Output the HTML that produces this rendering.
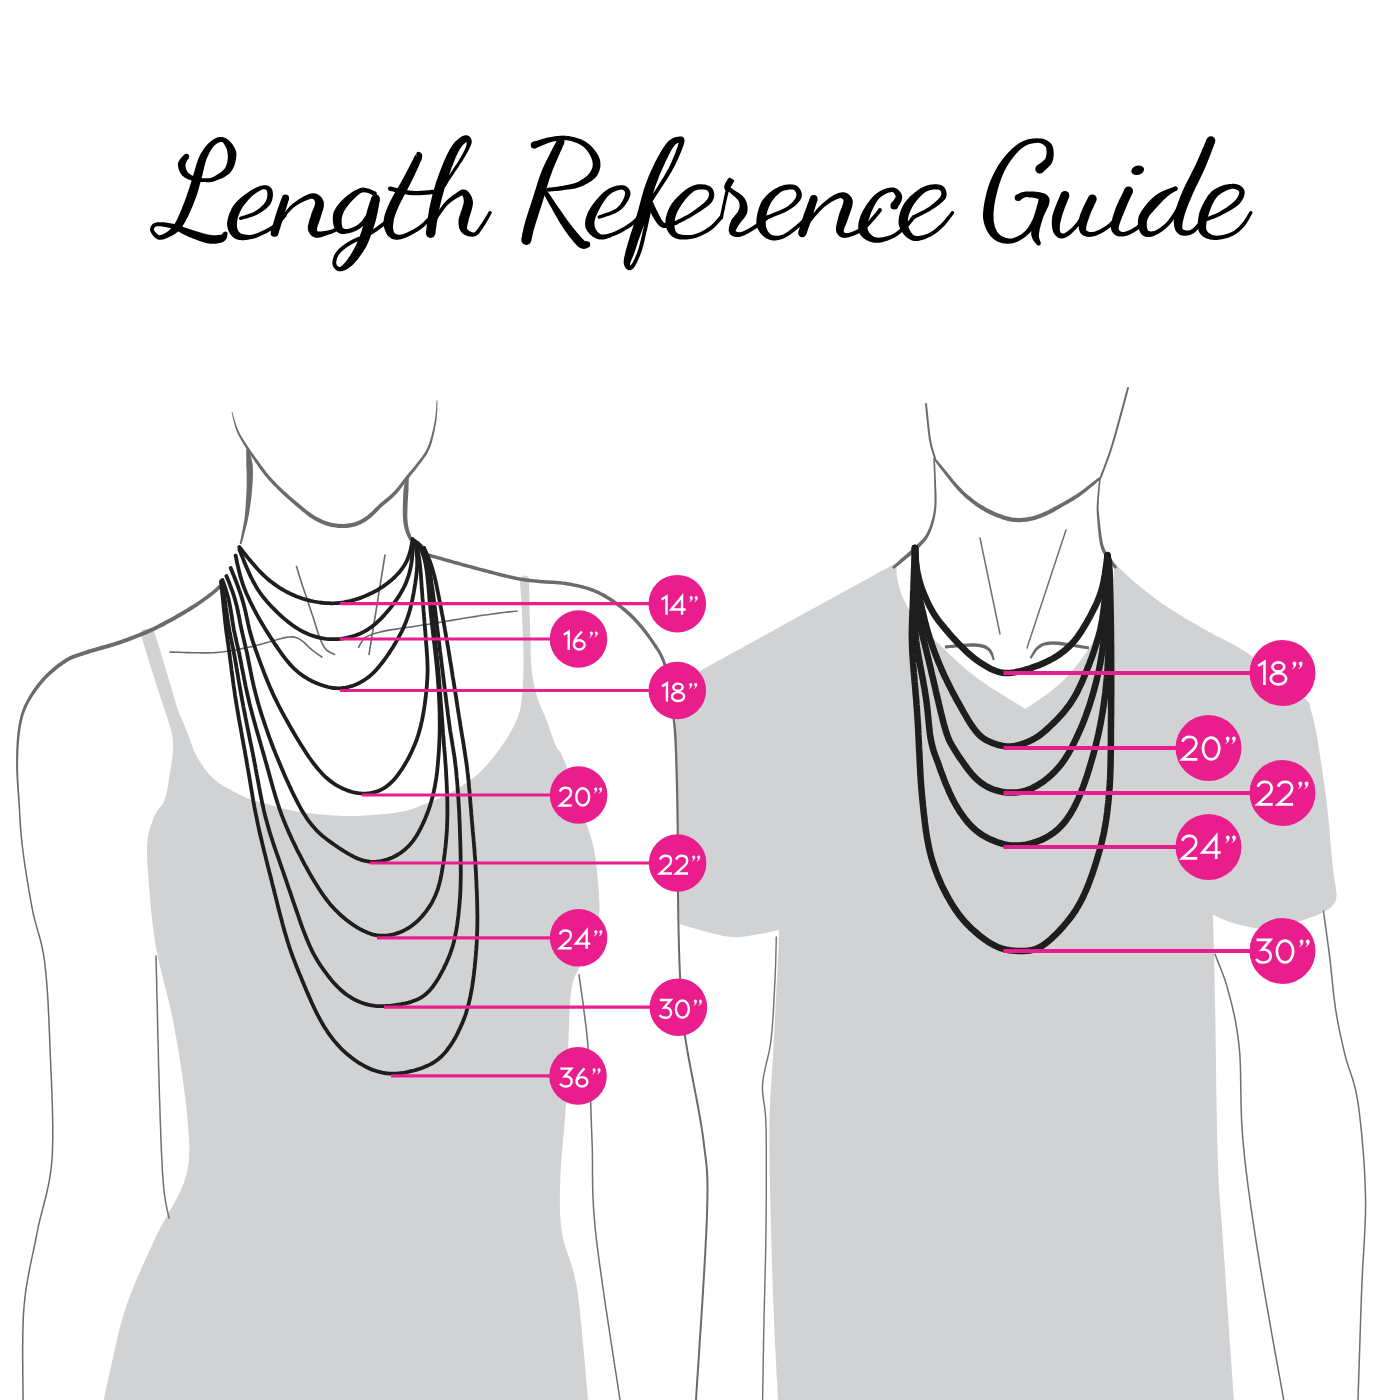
<!DOCTYPE html>
<html><head><meta charset="utf-8"><style>
html,body{margin:0;padding:0;background:#fff;}
svg{display:block;}
text{font-family:"Liberation Sans",sans-serif;}
</style></head><body>
<svg width="1400" height="1400" viewBox="0 0 1400 1400">
<rect width="1400" height="1400" fill="#fff"/>
<path d=" M104.0,1400.0 L104.3,1398.2 L104.6,1396.1 L105.3,1392.5 L106.6,1386.1 L108.0,1380.2 L108.6,1377.5 L109.3,1374.4 L110.0,1371.1 L110.8,1367.6 L111.6,1363.9 L112.4,1360.0 L113.3,1355.9 L114.2,1351.8 L115.2,1347.5 L116.2,1343.1 L117.2,1338.8 L118.3,1334.3 L119.4,1329.9 L120.5,1325.6 L121.7,1321.2 L122.9,1317.0 L124.1,1312.9 L125.4,1308.9 L126.6,1305.1 L128.0,1301.3 L129.4,1297.5 L130.8,1293.6 L132.3,1289.8 L133.8,1286.0 L135.4,1282.2 L137.0,1278.4 L138.6,1274.6 L140.3,1270.9 L142.0,1267.1 L143.6,1263.4 L145.3,1259.7 L147.0,1256.1 L148.7,1252.4 L150.3,1248.9 L152.0,1245.3 L153.6,1241.8 L155.2,1238.3 L156.9,1234.6 L158.8,1230.8 L160.8,1226.9 L162.8,1223.2 L164.9,1219.5 L167.0,1215.8 L169.0,1212.1 L171.1,1208.5 L173.1,1205.0 L175.1,1201.4 L177.0,1197.9 L178.8,1194.4 L180.4,1190.9 L182.0,1187.4 L183.4,1184.0 L184.6,1180.5 L185.7,1177.0 L186.8,1172.9 L187.6,1168.9 L188.3,1165.1 L188.8,1161.4 L189.1,1157.8 L189.3,1154.1 L189.3,1150.4 L189.3,1146.6 L189.1,1142.6 L188.9,1138.4 L188.6,1134.0 L188.2,1129.3 L187.8,1124.2 L187.5,1119.9 L187.2,1116.5 L186.9,1113.0 L186.5,1109.3 L186.1,1105.5 L185.6,1101.6 L185.2,1097.6 L184.7,1093.6 L184.1,1089.4 L183.6,1085.2 L183.0,1081.0 L182.4,1076.7 L181.8,1072.4 L181.1,1068.0 L180.5,1063.7 L179.8,1059.4 L179.1,1055.1 L178.4,1050.8 L177.7,1046.6 L177.0,1042.5 L176.3,1038.4 L175.6,1034.4 L174.9,1030.5 L174.2,1026.5 L173.4,1022.2 L172.5,1018.0 L171.6,1013.8 L170.7,1009.7 L169.7,1005.5 L168.7,1001.4 L167.7,997.3 L166.7,993.2 L165.7,989.2 L164.7,985.2 L163.7,981.2 L162.7,977.3 L161.7,973.3 L160.8,969.5 L159.9,965.6 L159.0,961.8 L158.2,958.1 L157.4,954.3 L156.7,950.6 L156.0,947.0 L155.2,942.5 L154.5,938.0 L153.9,933.6 L153.3,929.1 L152.7,924.8 L152.2,920.4 L151.7,916.2 L151.3,911.9 L150.9,907.8 L150.5,903.8 L150.2,899.8 L149.9,895.9 L149.6,892.2 L149.3,888.5 L149.0,885.0 L148.7,881.6 L148.4,877.4 L148.0,872.4 L147.7,867.8 L147.4,863.4 L147.2,859.3 L147.1,855.5 L147.0,851.8 L147.0,848.3 L147.1,844.9 L147.4,841.6 L147.8,837.6 L148.6,833.0 L149.7,828.8 L150.9,825.0 L152.3,821.5 L153.6,818.1 L155.0,815.0 L157.4,810.8 L159.9,807.5 L162.5,804.3 L164.6,800.0 L165.6,796.6 L166.6,792.9 L167.4,788.9 L168.1,784.7 L168.7,780.5 L169.4,776.3 L170.1,772.1 L170.8,767.7 L171.5,763.2 L172.1,758.7 L172.6,754.4 L173.0,750.4 L173.2,746.1 L173.1,741.9 L172.7,738.1 L172.0,733.9 L171.0,729.7 L169.9,725.9 L168.6,721.8 L167.2,717.5 L165.7,713.2 L164.3,709.0 L163.0,705.0 L161.7,701.0 L160.4,697.1 L159.2,693.4 L158.0,689.6 L156.7,685.9 L155.5,682.0 L154.2,678.1 L153.0,674.1 L151.7,670.1 L150.5,666.1 L149.2,662.0 L148.0,658.0 L146.7,653.7 L145.3,649.0 L143.8,644.4 L142.5,640.0 L141.4,636.4 L140.6,633.7 L140.6,633.7 L140.6,633.7 L142.1,630.0 L147.4,628.5 L152.0,629.5 L154.3,632.0 L154.3,632.0 L154.3,632.0 L155.2,634.8 L156.4,638.7 L157.9,643.2 L159.3,647.8 L160.6,651.9 L161.8,655.9 L163.0,659.9 L164.2,663.9 L165.4,668.0 L166.6,672.0 L167.8,676.0 L169.0,680.0 L170.2,684.0 L171.4,688.0 L172.6,692.0 L173.7,696.0 L174.8,699.9 L176.0,703.9 L177.3,707.9 L178.7,711.9 L180.2,715.6 L181.8,719.4 L183.4,723.2 L185.2,727.2 L186.9,731.4 L188.3,735.2 L189.7,739.1 L191.1,743.2 L192.6,747.3 L194.2,751.3 L196.1,755.2 L198.1,758.8 L200.2,762.2 L202.4,765.6 L204.7,768.9 L207.2,772.1 L209.9,775.1 L212.8,778.0 L215.8,780.6 L219.0,783.1 L222.4,785.4 L226.1,787.6 L229.7,789.6 L233.3,791.5 L236.8,793.3 L240.0,794.9 L244.0,796.8 L247.5,798.2 L250.8,799.4 L254.8,800.5 L259.9,802.0 L263.1,802.9 L266.6,803.9 L270.2,805.0 L274.1,806.1 L278.1,807.2 L282.3,808.3 L286.6,809.3 L291.0,810.3 L295.5,811.2 L300.0,812.0 L303.7,812.5 L307.4,813.1 L311.3,813.6 L315.3,814.0 L319.3,814.4 L323.4,814.8 L327.5,815.1 L331.6,815.4 L335.7,815.6 L339.8,815.8 L343.9,815.9 L348.0,816.0 L352.0,816.0 L356.2,815.9 L360.4,815.8 L364.7,815.6 L369.0,815.3 L373.4,815.0 L377.6,814.7 L381.8,814.3 L385.8,813.9 L389.7,813.4 L393.4,813.0 L396.8,812.5 L400.0,812.0 L405.2,811.0 L409.5,809.9 L413.2,808.7 L416.6,807.5 L419.8,806.1 L423.2,804.7 L426.9,803.3 L430.6,801.8 L434.2,800.4 L437.9,798.8 L441.6,797.1 L445.4,795.2 L449.4,793.0 L452.6,791.2 L456.0,789.2 L459.5,787.2 L463.1,785.0 L466.6,782.7 L470.1,780.3 L473.6,777.7 L476.9,775.0 L480.0,772.2 L482.9,769.3 L485.9,766.1 L488.7,762.9 L491.6,759.5 L494.3,756.1 L496.9,752.7 L499.4,749.3 L501.7,746.1 L504.1,742.6 L506.5,739.0 L508.8,735.3 L510.8,731.7 L512.7,728.2 L514.5,724.7 L516.0,721.3 L517.4,718.0 L518.9,713.9 L519.9,710.3 L520.7,706.7 L521.2,702.9 L521.7,698.5 L522.2,694.4 L522.5,690.9 L522.7,687.3 L522.9,683.4 L523.1,679.4 L523.3,675.3 L523.4,671.0 L523.5,666.7 L523.5,662.2 L523.5,658.1 L523.5,654.2 L523.4,650.2 L523.3,646.0 L523.1,641.7 L523.0,637.4 L522.8,633.1 L522.6,628.8 L522.4,624.7 L522.3,620.7 L522.1,616.8 L521.9,612.7 L521.7,607.9 L521.4,603.2 L521.1,598.5 L520.8,594.1 L520.6,590.0 L520.3,586.4 L520.1,583.4 L520.0,581.0 L520.0,581.0 L520.0,581.0 L521.0,577.0 L524.0,575.5 L527.0,576.0 L529.0,578.0 L529.0,578.0 L529.0,578.0 L529.0,580.5 L529.1,583.8 L529.1,587.7 L529.2,592.1 L529.3,596.7 L529.4,601.4 L529.5,605.9 L529.5,610.0 L529.7,613.9 L529.8,618.0 L529.9,622.0 L530.0,626.1 L530.2,630.2 L530.3,634.2 L530.4,638.1 L530.6,642.1 L530.6,646.4 L530.7,650.5 L530.7,654.6 L530.8,658.6 L531.0,662.6 L531.3,666.6 L531.8,670.8 L532.3,675.1 L533.0,679.4 L533.8,683.6 L534.7,687.9 L535.7,692.0 L536.8,696.0 L538.2,700.2 L539.7,704.2 L541.4,708.1 L543.1,712.0 L544.9,715.9 L546.5,720.0 L548.0,724.0 L549.4,728.2 L550.8,732.4 L552.2,736.6 L553.6,740.5 L555.0,744.1 L556.7,747.7 L558.3,749.7 L559.9,751.6 L562.3,756.0 L564.5,761.2 L565.6,764.0 L566.7,767.2 L568.1,770.8 L569.4,774.6 L570.9,778.7 L572.4,783.0 L574.0,787.3 L575.5,791.8 L577.1,796.2 L578.6,800.7 L580.1,805.0 L581.5,809.2 L582.9,813.2 L584.1,816.9 L585.3,820.3 L586.3,823.5 L588.1,828.7 L589.5,833.1 L590.7,836.8 L591.7,840.1 L592.6,843.3 L593.4,846.5 L594.1,850.1 L594.9,854.3 L595.5,858.0 L596.0,862.1 L596.5,866.4 L597.0,870.8 L597.4,875.4 L597.8,879.9 L598.2,884.2 L598.5,888.3 L598.8,892.1 L599.0,895.5 L599.3,900.4 L599.5,905.3 L599.5,908.9 L599.2,912.3 L599.0,916.3 L599.0,919.9 L598.7,923.6 L597.6,928.4 L596.0,932.9 L594.6,936.3 L592.8,940.1 L590.9,944.2 L588.8,948.5 L586.6,952.8 L584.5,957.0 L582.6,960.9 L580.8,964.4 L579.4,967.5 L576.7,972.7 L575.0,975.9 L573.7,979.4 L572.7,983.4 L572.1,985.9 L571.6,988.3 L571.2,991.1 L570.8,994.7 L570.4,999.5 L569.9,1006.0 L569.6,1011.4 L569.5,1014.3 L569.3,1017.4 L569.2,1020.8 L569.0,1024.4 L568.9,1028.2 L568.7,1032.1 L568.6,1036.2 L568.4,1040.4 L568.3,1044.7 L568.1,1049.2 L568.0,1053.6 L567.8,1058.1 L567.7,1062.7 L567.5,1067.2 L567.4,1071.8 L567.2,1076.2 L567.0,1080.7 L566.9,1085.0 L566.7,1089.2 L566.5,1093.4 L566.3,1097.3 L566.1,1101.2 L565.9,1105.2 L565.6,1109.7 L565.3,1114.1 L565.0,1118.4 L564.6,1122.7 L564.3,1127.0 L563.9,1131.1 L563.5,1135.2 L563.1,1139.3 L562.8,1143.3 L562.4,1147.3 L562.1,1151.2 L561.8,1155.0 L561.4,1158.8 L561.2,1162.5 L560.9,1166.2 L560.7,1169.9 L560.5,1173.5 L560.4,1177.0 L560.3,1181.6 L560.1,1185.9 L560.0,1190.2 L559.9,1194.3 L559.9,1198.3 L559.9,1202.3 L559.9,1206.1 L560.0,1210.0 L560.1,1213.8 L560.4,1217.6 L560.6,1221.4 L561.0,1225.2 L561.5,1229.1 L562.0,1233.0 L562.7,1236.8 L563.5,1240.5 L564.4,1243.9 L565.4,1247.3 L566.5,1250.6 L567.7,1253.9 L568.9,1257.3 L570.1,1260.9 L571.4,1264.6 L572.6,1268.7 L573.8,1273.0 L574.9,1277.7 L576.0,1282.9 L577.0,1288.5 L577.5,1291.8 L578.0,1295.2 L578.4,1298.9 L578.9,1302.8 L579.4,1307.0 L579.9,1311.3 L580.3,1315.7 L580.8,1320.3 L581.3,1324.9 L581.8,1329.7 L582.2,1334.5 L582.7,1339.3 L583.1,1344.2 L583.5,1349.0 L584.0,1353.8 L584.4,1358.5 L584.8,1363.1 L585.2,1367.6 L585.5,1371.9 L585.9,1376.1 L586.2,1380.2 L586.6,1384.0 L586.9,1387.5 L587.2,1390.8 L587.4,1393.8 L587.7,1396.6 L587.9,1398.9 L588.0,1400.0 Z" fill="#d1d2d4" stroke="none" stroke-width="0" stroke-linecap="round" stroke-linejoin="round" />
<path d=" M897.0,562.5 C865.4,579.9 738.8,649.5 707.1,666.9 L707.1,666.9 L704.2,668.4 L700.0,671.0 L696.9,673.2 L693.4,676.0 L690.0,680.0 L688.1,683.0 L686.1,686.5 L684.1,690.3 L682.3,694.2 L680.7,698.1 L679.3,701.9 L678.3,705.4 L677.4,708.8 L676.8,712.5 L676.2,717.2 L675.9,721.5 L675.7,724.5 L675.6,727.7 L675.5,730.9 L675.4,734.4 L675.4,738.2 L675.4,742.3 L675.4,746.7 L675.4,751.6 L675.5,757.1 L675.5,761.5 L675.5,764.7 L675.6,768.1 L675.6,771.6 L675.7,775.2 L675.7,779.0 L675.8,782.9 L675.9,786.9 L675.9,791.0 L676.0,795.1 L676.1,799.4 L676.2,803.6 L676.3,807.9 L676.4,812.3 L676.5,816.6 L676.6,820.9 L676.7,825.3 L676.8,829.5 L676.9,833.8 L677.0,837.9 L677.0,842.0 L677.2,846.1 L677.3,850.3 L677.4,854.7 L677.5,859.3 L677.6,863.8 L677.8,868.5 L677.9,873.1 L678.1,877.8 L678.2,882.4 L678.3,887.0 L678.5,891.5 L678.6,895.8 L678.8,900.0 L678.9,904.1 L679.0,907.9 L679.1,911.5 L679.2,914.8 L679.3,917.9 L679.4,920.6 L679.5,922.9 L679.5,924.0 L679.5,924.0 L682.1,924.8 L685.7,925.9 L690.0,927.2 L694.9,928.6 L700.0,930.0 L703.4,930.9 L707.2,931.9 L711.1,933.0 L715.2,934.1 L719.4,935.1 L723.5,935.9 L727.5,936.6 L731.4,937.0 L735.7,937.1 L740.1,936.9 L744.4,936.5 L748.6,935.9 L752.6,935.2 L756.4,934.6 L760.0,934.0 L765.2,933.1 L770.1,932.1 L774.4,931.1 L777.8,930.3 L779.0,930.0 L779.0,930.0 L778.9,932.4 L778.8,935.6 L778.7,939.4 L778.6,943.6 L778.5,948.1 L778.3,952.9 L778.1,957.6 L777.9,961.8 L777.8,965.3 L777.6,968.9 L777.4,972.6 L777.2,976.4 L777.0,980.3 L776.7,984.3 L776.5,988.6 L776.3,993.0 L776.0,997.6 L775.8,1001.7 L775.6,1005.3 L775.4,1009.0 L775.2,1012.8 L775.0,1016.7 L774.8,1020.6 L774.6,1024.7 L774.4,1028.8 L774.2,1033.0 L773.9,1037.2 L773.7,1041.5 L773.5,1045.9 L773.2,1050.3 L773.0,1054.8 L772.8,1058.8 L772.6,1062.5 L772.4,1066.2 L772.1,1069.8 L771.9,1073.5 L771.6,1077.2 L771.4,1080.9 L771.1,1084.6 L770.9,1088.5 L770.6,1092.4 L770.4,1096.4 L770.2,1100.5 L770.0,1104.8 L769.8,1109.1 L769.6,1113.7 L769.5,1118.3 L769.4,1123.2 L769.4,1127.4 L769.4,1130.9 L769.3,1134.5 L769.3,1138.2 L769.4,1141.9 L769.4,1145.8 L769.4,1149.8 L769.5,1153.8 L769.5,1157.9 L769.6,1162.0 L769.6,1166.2 L769.7,1170.4 L769.8,1174.6 L769.9,1178.9 L769.9,1183.1 L770.0,1187.4 L770.1,1191.7 L770.2,1195.9 L770.3,1200.2 L770.4,1204.4 L770.5,1208.5 L770.6,1212.7 L770.7,1216.7 L770.8,1220.7 L770.9,1224.6 L771.0,1228.5 L771.1,1232.8 L771.2,1237.1 L771.3,1241.4 L771.4,1245.6 L771.6,1249.8 L771.7,1254.0 L771.8,1258.2 L771.9,1262.3 L772.1,1266.5 L772.2,1270.6 L772.3,1274.7 L772.5,1278.7 L772.6,1282.8 L772.7,1286.8 L772.9,1290.8 L773.0,1294.7 L773.2,1298.7 L773.3,1302.6 L773.5,1306.5 L773.6,1310.4 L773.8,1314.3 L773.9,1318.1 L774.1,1322.2 L774.3,1326.6 L774.5,1331.1 L774.7,1335.7 L774.9,1340.3 L775.1,1345.0 L775.4,1349.7 L775.6,1354.4 L775.8,1359.0 L776.1,1363.5 L776.3,1367.9 L776.5,1372.2 L776.7,1376.4 L777.0,1380.3 L777.2,1384.1 L777.4,1387.6 L777.5,1390.9 L777.7,1393.9 L777.8,1396.6 L777.9,1399.0 L778.0,1400.0 L778.0,1400.0 C854.0,1400.0 1157.8,1400.0 1233.8,1400.0 L1233.8,1400.0 L1233.7,1397.9 L1233.5,1395.5 L1233.3,1392.9 L1233.1,1390.0 L1232.9,1387.0 L1232.7,1383.8 L1232.5,1380.3 L1232.2,1376.7 L1232.0,1373.0 L1231.7,1369.1 L1231.4,1365.0 L1231.1,1360.9 L1230.8,1356.6 L1230.5,1352.2 L1230.2,1347.7 L1229.9,1343.2 L1229.6,1338.5 L1229.3,1333.8 L1229.0,1329.1 L1228.6,1324.3 L1228.3,1319.5 L1228.0,1314.7 L1227.7,1309.9 L1227.3,1305.1 L1227.0,1300.4 L1226.7,1295.6 L1226.4,1290.9 L1226.1,1286.3 L1225.7,1281.8 L1225.4,1277.3 L1225.1,1272.9 L1224.9,1268.6 L1224.6,1264.4 L1224.3,1260.4 L1224.0,1256.5 L1223.8,1252.8 L1223.5,1249.2 L1223.3,1245.8 L1223.1,1242.5 L1222.8,1238.1 L1222.4,1232.7 L1222.1,1227.8 L1221.7,1223.3 L1221.4,1219.2 L1221.1,1215.4 L1220.8,1211.9 L1220.5,1208.7 L1220.3,1205.5 L1220.0,1202.5 L1219.8,1199.4 L1219.6,1196.4 L1219.3,1193.2 L1219.1,1189.9 L1218.9,1186.4 L1218.7,1182.7 L1218.5,1178.5 L1218.3,1174.0 L1218.1,1169.1 L1217.9,1163.6 L1217.8,1159.2 L1217.7,1156.0 L1217.6,1152.7 L1217.5,1149.3 L1217.4,1145.8 L1217.3,1142.1 L1217.2,1138.3 L1217.1,1134.5 L1217.0,1130.5 L1217.0,1126.5 L1216.9,1122.3 L1216.8,1118.1 L1216.7,1113.9 L1216.6,1109.6 L1216.6,1105.2 L1216.5,1100.8 L1216.4,1096.4 L1216.4,1091.9 L1216.3,1087.4 L1216.2,1082.9 L1216.2,1078.4 L1216.1,1073.9 L1216.0,1069.4 L1216.0,1064.9 L1215.9,1060.5 L1215.9,1056.1 L1215.8,1051.7 L1215.7,1047.4 L1215.7,1043.1 L1215.6,1038.9 L1215.6,1034.7 L1215.5,1030.6 L1215.4,1026.6 L1215.4,1022.7 L1215.3,1018.9 L1215.3,1015.2 L1215.2,1011.6 L1215.1,1008.1 L1215.1,1004.8 L1215.0,1001.6 L1214.9,997.1 L1214.8,991.4 L1214.7,985.8 L1214.6,980.4 L1214.5,975.2 L1214.4,970.1 L1214.3,965.2 L1214.1,960.4 L1214.0,955.9 L1213.9,951.5 L1213.8,947.3 L1213.7,943.2 L1213.6,939.4 L1213.5,935.7 L1213.4,932.2 L1213.4,929.0 L1213.3,925.9 L1213.2,923.0 L1213.1,920.4 L1213.1,917.9 L1213.0,915.6 L1213.0,914.6 L1213.0,914.6 L1215.4,915.8 L1218.6,917.4 L1222.6,919.3 L1227.4,921.2 L1231.6,922.4 L1234.9,923.4 L1238.6,924.5 L1242.5,925.5 L1246.6,926.5 L1250.8,927.3 L1255.0,927.9 L1259.3,928.3 L1263.3,928.3 L1267.2,928.0 L1271.2,927.6 L1275.3,927.0 L1279.4,926.2 L1283.5,925.3 L1287.6,924.4 L1291.5,923.4 L1295.2,922.5 L1299.3,921.4 L1303.8,920.0 L1308.2,918.4 L1312.5,916.8 L1316.5,915.2 L1320.1,913.7 L1323.2,912.2 L1327.5,910.1 L1330.9,907.6 L1333.0,904.8 L1335.1,901.9 L1336.4,898.0 L1336.6,893.6 L1336.3,890.8 L1335.9,887.8 L1335.3,884.4 L1334.5,880.1 L1333.8,875.0 L1333.0,868.7 L1332.7,865.6 L1332.4,862.3 L1332.0,858.7 L1331.7,855.0 L1331.3,851.0 L1331.0,846.9 L1330.6,842.6 L1330.2,838.3 L1329.8,833.8 L1329.4,829.4 L1329.0,824.8 L1328.6,820.3 L1328.1,815.9 L1327.7,811.5 L1327.2,807.2 L1326.7,803.0 L1326.2,798.9 L1325.7,794.8 L1325.1,790.5 L1324.5,786.2 L1323.9,781.9 L1323.3,777.5 L1322.7,773.1 L1322.1,768.8 L1321.4,764.5 L1320.8,760.4 L1320.2,756.3 L1319.5,752.4 L1318.9,748.6 L1318.4,745.0 L1317.8,741.6 L1317.3,738.5 L1316.5,733.9 L1315.4,728.5 L1314.4,723.8 L1313.5,719.7 L1312.6,716.2 L1311.7,713.1 L1310.9,710.3 L1310.0,707.5 L1309.7,703.9 L1307.9,701.4 L1302.8,696.9 L1300.6,695.0 L1298.2,692.9 L1295.5,690.6 L1292.5,688.1 L1289.3,685.5 L1286.0,682.7 L1282.5,679.9 L1278.9,677.0 L1275.2,674.0 L1271.6,671.1 L1267.9,668.2 L1264.3,665.4 L1260.7,662.7 L1257.3,660.1 L1254.0,657.6 L1250.9,655.4 L1247.5,653.1 L1243.6,650.6 L1239.9,648.3 L1236.3,646.2 L1232.7,644.2 L1229.2,642.3 L1225.7,640.5 L1222.3,638.8 L1218.9,637.1 L1215.6,635.4 L1212.3,633.6 L1209.0,631.9 L1205.7,630.0 L1202.0,627.9 L1198.3,625.7 L1194.6,623.6 L1191.0,621.5 L1187.4,619.4 L1183.9,617.4 L1180.4,615.3 L1177.0,613.2 L1173.7,611.1 L1170.3,608.9 L1167.1,606.8 L1163.6,604.4 L1160.1,601.9 L1156.6,599.4 L1153.2,596.9 L1149.9,594.4 L1146.7,591.9 L1143.6,589.4 L1140.6,587.0 L1137.7,584.6 L1135.0,582.4 L1131.3,579.2 L1127.7,576.0 L1124.3,572.8 L1121.2,569.8 L1118.5,567.1 L1116.2,564.8 L1114.4,563.1 L1114.4,563.1 L1114.4,563.1 L1114.3,565.8 L1114.2,569.6 L1113.8,574.3 L1113.0,579.9 L1112.4,583.3 L1111.6,586.9 L1110.8,590.8 L1109.8,594.9 L1108.8,599.2 L1107.6,603.5 L1106.4,607.8 L1105.0,612.0 L1103.8,615.7 L1102.5,619.4 L1101.2,623.1 L1099.8,626.8 L1098.4,630.6 L1096.7,634.4 L1094.9,638.3 L1092.9,642.1 L1090.6,646.0 L1088.6,649.1 L1086.5,652.3 L1084.2,655.6 L1081.8,658.8 L1079.3,662.1 L1076.7,665.4 L1074.0,668.7 L1071.3,671.9 L1068.5,675.0 L1065.7,678.0 L1062.8,680.9 L1059.9,683.7 L1056.5,686.6 L1053.0,689.5 L1049.2,692.4 L1045.4,695.2 L1041.6,697.9 L1037.9,700.4 L1034.4,702.7 L1031.3,704.9 L1028.5,706.7 L1026.3,708.2 L1025.4,708.9 L1025.4,708.9 L1023.4,707.7 L1021.0,706.1 L1018.1,704.4 L1014.9,702.4 L1011.4,700.3 L1007.7,698.0 L1003.8,695.6 L999.8,693.1 L995.7,690.5 L991.7,688.0 L987.8,685.4 L984.1,682.9 L980.5,680.5 L977.2,678.1 L973.9,675.6 L970.3,672.8 L966.8,670.0 L963.5,667.1 L960.2,664.3 L957.1,661.4 L954.0,658.6 L951.1,655.8 L948.2,653.0 L945.4,650.3 L942.7,647.6 L940.0,645.0 L936.7,641.7 L933.5,638.5 L930.4,635.4 L927.4,632.3 L924.6,629.2 L922.0,626.3 L919.5,623.4 L917.2,620.7 L915.0,618.0 L911.9,613.9 L909.4,610.1 L907.3,606.6 L905.5,603.1 L903.8,599.7 L902.1,595.9 L900.5,591.6 L899.3,587.5 L898.3,583.6 L897.5,580.0 L896.8,575.3 L896.6,571.3 L896.5,568.0 L896.8,563.4 L897.0,562.0 Z" fill="#d1d2d4" stroke="none" stroke-width="0" stroke-linecap="round" stroke-linejoin="round" />
<path d="M231.6,412.1 L231.9,413.6 L232.3,415.2 L232.6,417.1 L233.1,419.1 L233.6,421.3 L234.2,423.6 L234.8,425.9 L235.5,428.1 L236.3,430.2 L237.1,432.3 L238.0,434.3 L239.0,436.3 L240.1,438.2 L241.2,440.2 L242.3,442.1 L243.4,444.0 L244.5,445.8 L245.6,447.6 L246.7,449.4 L247.8,451.1 L248.9,452.9 L250.1,454.5 L251.2,456.2 L252.3,457.9 L253.5,459.5 L254.6,461.2 L255.8,462.9 L257.0,464.6 L258.1,466.3 L259.3,468.0 L260.5,469.7 L261.8,471.4 L263.0,473.1 L264.4,474.9 L265.8,476.6 L267.2,478.3 L268.6,480.0 L270.1,481.5 L271.5,483.1 L273.0,484.7 L274.6,486.3 L276.1,487.8 L277.7,489.4 L279.3,490.9 L280.8,492.4 L282.4,493.9 L284.0,495.4 L285.6,497.0 L287.4,498.5 L289.1,500.1 L290.8,501.6 L292.5,503.1 L294.2,504.5 L295.8,505.9 L297.4,507.2 L299.0,508.6 L300.7,510.0 L302.4,511.4 L304.1,512.8 L305.7,514.1 L307.4,515.4 L309.1,516.7 L311.0,518.0 L313.0,519.3 L315.0,520.5 L317.1,521.6 L319.1,522.7 L321.2,523.6 L323.3,524.5 L325.4,525.2 L327.4,525.8 L329.5,526.4 L331.6,526.9 L333.7,527.3 L335.7,527.6 L337.8,527.9 L339.9,528.0 L342.0,528.1 L344.1,528.1 L346.2,528.0 L348.2,527.8 L350.3,527.5 L352.4,527.1 L354.5,526.5 L356.7,525.9 L358.8,525.1 L360.9,524.2 L363.0,523.1 L365.1,521.9 L367.1,520.6 L369.1,519.1 L370.9,517.7 L372.5,516.3 L374.0,514.8 L375.4,513.4 L376.8,512.0 L378.3,510.5 L379.7,509.0 L381.2,507.5 L382.8,506.1 L384.3,504.8 L386.0,503.4 L387.7,501.9 L389.4,500.5 L391.2,498.9 L392.9,497.4 L394.6,495.8 L396.2,494.2 L397.7,492.5 L399.2,490.8 L400.5,489.0 L401.9,487.3 L403.2,485.5 L404.5,483.8 L405.8,482.0 L407.0,480.3 L408.3,478.7 L409.7,477.0 L411.0,475.3 L412.4,473.6 L413.7,471.9 L415.1,470.2 L416.4,468.5 L417.7,466.8 L419.0,465.0 L420.3,463.4 L421.6,461.7 L422.8,460.0 L424.1,458.3 L425.3,456.5 L426.5,454.7 L427.7,452.7 L428.7,450.6 L429.7,448.5 L430.5,446.5 L431.2,444.4 L431.8,442.4 L432.4,440.2 L432.9,438.1 L433.5,435.8 L434.0,433.6 L434.5,431.4 L434.9,429.1 L435.3,427.0 L435.7,424.8 L436.1,422.7 L436.4,420.6 L436.7,418.3 L436.9,416.0 L437.1,413.6 L437.2,411.3 L437.3,409.0 L437.3,407.0 L437.4,405.0 L437.4,403.3 L437.4,401.8 L437.4,400.4 L436.6,400.4 L436.5,401.8 L436.4,403.3 L436.3,405.0 L436.2,406.9 L436.1,409.0 L435.9,411.2 L435.7,413.5 L435.5,415.8 L435.1,418.1 L434.8,420.3 L434.4,422.4 L434.0,424.5 L433.6,426.6 L433.1,428.8 L432.6,430.9 L432.1,433.1 L431.5,435.4 L430.9,437.5 L430.3,439.7 L429.7,441.7 L429.0,443.7 L428.3,445.6 L427.5,447.6 L426.5,449.5 L425.5,451.5 L424.4,453.3 L423.2,455.1 L422.0,456.8 L420.7,458.4 L419.4,460.0 L418.1,461.7 L416.8,463.3 L415.5,465.0 L414.1,466.7 L412.8,468.4 L411.4,470.0 L410.0,471.6 L408.6,473.3 L407.2,475.0 L405.8,476.7 L404.5,478.4 L403.2,480.1 L401.9,481.8 L400.5,483.5 L399.2,485.2 L397.9,486.9 L396.5,488.6 L395.1,490.2 L393.6,491.7 L392.1,493.3 L390.5,494.8 L388.8,496.2 L387.1,497.7 L385.3,499.1 L383.6,500.5 L381.9,501.9 L380.3,503.3 L378.7,504.8 L377.1,506.3 L375.5,507.8 L374.0,509.3 L372.7,510.7 L371.3,512.0 L369.9,513.3 L368.4,514.6 L366.7,515.9 L364.8,517.2 L362.9,518.4 L361.0,519.5 L359.1,520.5 L357.2,521.3 L355.3,522.0 L353.5,522.5 L351.6,523.0 L349.7,523.3 L347.8,523.6 L345.8,523.8 L343.9,523.9 L342.0,523.9 L340.1,523.8 L338.2,523.7 L336.3,523.5 L334.3,523.2 L332.4,522.9 L330.5,522.4 L328.6,521.9 L326.6,521.3 L324.7,520.7 L322.8,519.9 L320.9,519.1 L318.9,518.1 L317.0,517.1 L315.1,515.9 L313.2,514.7 L311.4,513.5 L309.7,512.3 L308.0,511.1 L306.4,509.9 L304.8,508.5 L303.1,507.2 L301.4,505.8 L299.8,504.4 L298.2,503.1 L296.5,501.7 L294.9,500.3 L293.2,498.9 L291.5,497.4 L289.7,495.9 L288.0,494.3 L286.3,492.8 L284.8,491.4 L283.2,489.9 L281.6,488.4 L280.1,486.9 L278.5,485.4 L277.0,483.9 L275.4,482.3 L273.9,480.8 L272.5,479.3 L271.1,477.7 L269.7,476.2 L268.3,474.6 L266.9,472.9 L265.6,471.2 L264.3,469.5 L263.1,467.8 L261.8,466.2 L260.6,464.5 L259.4,462.8 L258.2,461.1 L257.0,459.5 L255.8,457.9 L254.6,456.2 L253.5,454.6 L252.3,453.0 L251.2,451.4 L250.0,449.7 L248.9,448.0 L247.7,446.3 L246.6,444.5 L245.4,442.7 L244.2,440.9 L243.1,439.1 L241.9,437.2 L240.8,435.3 L239.8,433.4 L238.8,431.5 L237.9,429.6 L237.1,427.5 L236.3,425.4 L235.6,423.2 L234.9,421.0 L234.3,418.8 L233.7,416.8 L233.2,415.0 L232.8,413.4 L232.4,411.9 Z" fill="#6b6b6b" stroke="none" stroke-width="0" stroke-linecap="round" stroke-linejoin="round" />
<path d="M246.3,449.2 L246.2,450.4 L246.2,452.1 L246.2,454.1 L246.3,456.3 L246.3,458.6 L246.3,460.9 L246.3,463.2 L246.3,465.2 L246.4,467.2 L246.5,469.1 L246.6,470.9 L246.7,472.8 L246.7,474.8 L246.7,476.7 L246.7,478.8 L246.7,480.9 L246.7,482.9 L246.7,484.9 L246.6,486.9 L246.6,489.0 L246.5,491.1 L246.4,493.3 L246.3,495.4 L246.2,497.6 L246.0,499.8 L245.9,501.7 L245.8,503.6 L245.7,505.6 L245.5,507.5 L245.4,509.4 L245.2,511.4 L245.0,513.4 L244.8,515.4 L244.6,517.5 L244.3,519.7 L244.0,521.6 L243.6,523.7 L243.2,526.0 L242.8,528.3 L242.3,530.6 L241.9,532.9 L241.4,535.2 L241.0,537.4 L240.6,539.3 L240.2,541.1 L239.9,542.6 L239.7,543.8 L241.5,544.2 L241.8,543.0 L242.2,541.6 L242.7,539.9 L243.3,537.9 L243.8,535.8 L244.4,533.6 L245.0,531.2 L245.6,528.9 L246.2,526.6 L246.8,524.4 L247.3,522.3 L247.7,520.3 L248.2,518.1 L248.6,516.0 L249.0,513.9 L249.3,511.9 L249.6,509.9 L249.9,508.0 L250.2,506.0 L250.5,504.1 L250.7,502.2 L251.0,500.2 L251.2,498.1 L251.5,495.9 L251.7,493.7 L251.9,491.5 L252.1,489.3 L252.3,487.2 L252.4,485.1 L252.6,483.1 L252.7,481.1 L252.8,478.9 L252.9,476.8 L252.9,474.8 L252.9,472.8 L252.9,470.8 L252.9,468.8 L252.8,466.8 L252.7,464.8 L252.3,462.6 L251.8,460.3 L251.3,458.0 L250.7,455.7 L250.2,453.5 L249.6,451.6 L249.2,450.0 L248.7,448.8 Z" fill="#6b6b6b" stroke="none" stroke-width="0" stroke-linecap="round" stroke-linejoin="round" />
<path d="M406.3,477.8 L405.9,478.9 L405.4,480.3 L405.0,482.1 L404.4,484.3 L404.0,486.9 L403.5,489.8 L403.4,491.6 L403.3,493.5 L403.2,495.6 L403.1,497.9 L403.0,500.2 L403.0,502.6 L402.9,505.0 L402.8,507.4 L402.8,509.7 L402.8,511.9 L402.8,513.9 L402.9,515.8 L403.0,518.5 L403.2,520.9 L403.5,523.1 L403.8,525.1 L404.2,527.0 L404.6,528.7 L405.1,530.5 L405.9,533.1 L407.0,535.6 L408.0,537.8 L409.0,539.6 L409.6,540.8 L412.8,539.4 L412.2,538.0 L411.4,536.2 L410.5,534.1 L409.6,531.8 L408.9,529.5 L408.6,527.8 L408.2,526.1 L408.0,524.4 L407.7,522.6 L407.5,520.5 L407.4,518.3 L407.3,515.6 L407.3,513.9 L407.4,511.9 L407.4,509.8 L407.5,507.5 L407.6,505.2 L407.7,502.8 L407.8,500.4 L408.0,498.1 L408.1,495.9 L408.2,493.8 L408.4,491.8 L408.5,490.2 L408.5,487.3 L408.6,484.8 L408.7,482.7 L408.7,480.9 L408.8,479.4 L408.7,478.2 Z" fill="#6b6b6b" stroke="none" stroke-width="0" stroke-linecap="round" stroke-linejoin="round" />
<path d="M427.5,556.7 L428.7,557.0 L429.9,557.4 L431.3,557.7 L432.8,558.2 L434.4,558.6 L436.1,559.1 L437.9,559.6 L439.9,560.1 L441.9,560.7 L443.9,561.3 L446.1,561.9 L448.2,562.5 L450.5,563.1 L452.7,563.7 L455.0,564.4 L457.3,565.0 L459.5,565.6 L461.8,566.2 L464.0,566.9 L466.2,567.5 L468.4,568.0 L470.4,568.6 L472.5,569.2 L474.5,569.7 L476.4,570.2 L478.4,570.8 L480.6,571.3 L482.8,571.9 L485.0,572.5 L487.3,573.1 L489.5,573.7 L491.7,574.2 L493.8,574.8 L495.9,575.3 L498.0,575.9 L500.1,576.4 L502.1,576.9 L504.0,577.4 L506.0,577.8 L507.9,578.3 L509.7,578.7 L511.5,579.1 L513.3,579.5 L515.2,579.9 L517.2,580.3 L519.3,580.7 L521.6,581.1 L523.8,581.5 L525.9,581.8 L527.9,582.0 L529.8,582.3 L531.7,582.5 L533.7,582.6 L535.6,582.8 L537.6,583.0 L539.7,583.2 L541.7,583.4 L543.7,583.5 L545.6,583.7 L547.6,583.8 L549.6,583.9 L551.7,584.0 L553.7,584.1 L555.8,584.3 L557.9,584.4 L559.9,584.6 L562.0,584.8 L564.1,585.1 L566.2,585.4 L568.2,585.7 L570.1,586.1 L572.0,586.5 L573.9,586.8 L575.8,587.2 L577.7,587.6 L579.6,588.1 L581.5,588.5 L583.4,589.0 L585.3,589.6 L587.2,590.1 L589.2,590.8 L591.1,591.4 L593.0,592.1 L594.8,592.9 L596.7,593.7 L598.5,594.6 L600.3,595.5 L602.0,596.4 L603.7,597.4 L605.5,598.4 L607.2,599.4 L608.9,600.5 L610.7,601.7 L612.4,602.8 L614.1,604.0 L615.9,605.3 L617.6,606.5 L619.2,607.8 L620.9,609.1 L622.5,610.5 L624.2,611.8 L625.7,613.2 L627.3,614.5 L628.8,615.9 L630.3,617.3 L631.7,618.7 L633.2,620.2 L634.6,621.7 L636.0,623.2 L637.4,624.8 L638.8,626.4 L640.2,628.0 L641.5,629.6 L642.8,631.2 L644.1,632.9 L645.3,634.5 L646.5,636.1 L647.7,637.7 L648.8,639.3 L650.0,640.8 L651.1,642.4 L652.2,644.0 L653.3,645.7 L654.4,647.4 L655.5,649.0 L656.5,650.6 L657.5,652.1 L658.4,653.6 L659.2,655.2 L660.1,656.7 L660.8,658.4 L661.6,660.2 L662.4,662.2 L663.1,664.2 L663.8,666.4 L664.4,668.5 L664.9,670.3 L665.3,672.1 L665.7,673.8 L666.1,675.5 L666.5,677.2 L666.8,679.0 L667.2,680.9 L667.6,682.8 L667.9,684.8 L668.3,686.8 L668.6,688.8 L668.9,690.9 L669.3,692.9 L669.6,695.0 L669.9,697.1 L670.2,699.3 L670.5,701.4 L670.8,703.5 L671.0,705.7 L671.3,707.8 L671.6,709.9 L671.8,712.0 L672.1,714.0 L672.3,716.1 L672.5,718.1 L672.7,720.1 L673.0,722.1 L673.1,724.1 L673.3,726.1 L673.5,728.1 L673.7,730.1 L673.8,732.0 L673.9,734.0 L674.1,735.9 L674.2,737.9 L674.3,739.8 L674.4,741.8 L674.5,743.7 L674.6,745.7 L674.7,747.7 L674.8,749.7 L674.8,751.7 L674.9,753.7 L675.0,755.8 L675.1,757.9 L675.1,760.0 L675.2,762.1 L675.3,764.3 L675.3,766.5 L675.4,768.7 L675.5,770.8 L675.6,772.8 L675.6,774.7 L675.7,776.6 L675.7,778.5 L675.8,780.4 L675.8,782.4 L675.9,784.3 L675.9,786.3 L676.0,788.3 L676.0,790.4 L676.1,792.4 L676.1,794.4 L676.2,796.5 L676.2,798.6 L676.3,800.6 L676.3,802.7 L676.3,804.8 L676.4,806.9 L676.4,809.0 L676.4,811.1 L676.5,813.2 L676.5,815.3 L676.5,817.4 L676.6,819.4 L676.6,821.5 L676.6,823.6 L676.7,825.6 L676.7,827.7 L676.7,829.7 L676.7,831.7 L676.8,833.7 L676.8,835.8 L676.8,837.8 L676.8,839.8 L676.8,841.9 L676.9,843.9 L676.9,845.9 L676.9,847.9 L676.9,849.9 L676.9,851.8 L676.9,853.8 L676.9,855.8 L676.9,857.7 L676.9,859.7 L676.9,861.6 L676.9,863.6 L676.9,865.5 L676.8,867.5 L676.8,869.5 L676.8,871.5 L676.8,873.5 L676.8,875.5 L676.8,877.5 L676.8,879.6 L676.9,881.7 L676.9,883.8 L676.9,885.9 L676.9,888.1 L676.9,890.3 L676.9,892.5 L677.0,894.6 L677.0,896.7 L677.0,898.7 L677.1,900.7 L677.1,902.5 L677.1,904.4 L677.1,906.4 L677.2,908.3 L677.2,910.3 L677.2,912.2 L677.3,914.2 L677.3,916.3 L677.3,918.3 L677.4,920.4 L677.4,922.4 L677.5,924.5 L677.5,926.6 L677.5,928.7 L677.6,930.8 L677.6,932.9 L677.7,935.0 L677.7,937.1 L677.8,939.2 L677.8,941.3 L677.9,943.4 L677.9,945.5 L678.0,947.6 L678.0,949.7 L678.1,951.7 L678.2,953.8 L678.2,955.8 L678.3,957.8 L678.4,959.8 L678.4,961.8 L678.5,963.8 L678.6,965.7 L678.7,967.6 L678.7,969.5 L678.8,971.4 L678.9,973.3 L679.0,975.3 L679.1,977.4 L679.2,979.5 L679.3,981.6 L679.4,983.6 L679.5,985.6 L679.6,987.6 L679.7,989.5 L679.8,991.4 L679.9,993.2 L680.0,995.0 L680.0,996.8 L680.1,998.6 L680.3,1000.4 L680.4,1002.2 L680.5,1004.0 L680.6,1005.8 L680.8,1007.6 L680.9,1009.4 L681.1,1011.3 L681.3,1013.3 L681.4,1015.2 L681.7,1017.3 L681.9,1019.4 L682.1,1021.5 L682.4,1023.8 L682.7,1026.1 L683.0,1028.5 L683.3,1030.9 L683.6,1033.3 L683.9,1035.6 L684.2,1037.6 L684.5,1039.4 L684.8,1041.1 L685.0,1042.9 L685.3,1044.6 L685.6,1046.4 L685.9,1048.3 L686.3,1050.1 L686.6,1052.0 L686.9,1054.0 L687.3,1055.9 L687.7,1057.9 L688.0,1059.9 L688.4,1061.9 L688.8,1064.0 L689.2,1066.0 L689.6,1068.1 L690.0,1070.2 L690.4,1072.3 L690.8,1074.4 L691.2,1076.6 L691.6,1078.7 L692.0,1080.9 L692.5,1083.0 L692.9,1085.2 L693.3,1087.4 L693.7,1089.6 L694.1,1091.7 L694.6,1093.9 L695.0,1096.1 L695.4,1098.2 L695.8,1100.4 L696.2,1102.6 L696.6,1104.7 L697.0,1106.8 L697.4,1109.0 L697.8,1111.1 L698.2,1113.2 L698.5,1115.3 L698.9,1117.3 L699.2,1119.4 L699.6,1121.4 L699.9,1123.4 L700.3,1125.4 L700.6,1127.3 L700.9,1129.2 L701.2,1131.1 L701.4,1133.0 L701.7,1134.8 L701.9,1136.6 L702.2,1138.5 L702.4,1140.4 L702.7,1142.5 L703.0,1144.6 L703.2,1146.7 L703.5,1148.7 L703.7,1150.7 L704.0,1152.5 L704.2,1154.3 L704.4,1156.0 L704.6,1157.6 L704.8,1159.2 L705.0,1160.8 L705.2,1162.3 L705.3,1163.8 L705.5,1165.3 L705.6,1166.8 L705.8,1168.2 L705.9,1169.7 L706.0,1171.2 L706.1,1172.7 L706.2,1174.3 L706.2,1175.9 L706.3,1177.5 L706.4,1179.3 L706.4,1181.0 L706.4,1182.9 L706.4,1184.8 L706.5,1186.9 L706.5,1189.0 L706.5,1191.2 L706.4,1193.6 L706.4,1196.1 L706.4,1198.7 L706.3,1201.5 L706.2,1204.4 L706.2,1207.4 L706.1,1210.3 L706.0,1212.9 L706.0,1215.0 L705.9,1216.8 L705.9,1218.4 L705.8,1220.0 L705.7,1221.6 L705.7,1223.2 L705.6,1224.9 L705.5,1226.6 L705.5,1228.4 L705.4,1230.2 L705.3,1232.0 L705.2,1233.9 L705.1,1235.8 L705.0,1237.7 L704.9,1239.7 L704.8,1241.7 L704.7,1243.7 L704.6,1245.7 L704.5,1247.8 L704.4,1249.9 L704.3,1252.1 L704.2,1254.2 L704.0,1256.4 L703.9,1258.6 L703.8,1260.8 L703.7,1263.1 L703.5,1265.3 L703.4,1267.6 L703.3,1269.9 L703.1,1272.2 L703.0,1274.5 L702.9,1276.9 L702.7,1279.2 L702.6,1281.6 L702.4,1284.0 L702.3,1286.3 L702.2,1288.7 L702.0,1291.1 L701.9,1293.5 L701.7,1295.9 L701.6,1298.3 L701.4,1300.7 L701.3,1303.1 L701.1,1305.5 L701.0,1308.0 L700.8,1310.4 L700.7,1312.8 L700.5,1315.1 L700.3,1317.5 L700.2,1319.9 L700.0,1322.3 L699.9,1324.7 L699.7,1327.0 L699.6,1329.4 L699.4,1331.7 L699.3,1334.0 L699.1,1336.3 L699.0,1338.6 L698.8,1340.9 L698.7,1343.1 L698.5,1345.3 L698.4,1347.5 L698.3,1349.7 L698.1,1351.9 L698.0,1354.0 L697.8,1356.2 L697.7,1358.2 L697.6,1360.3 L697.4,1362.3 L697.3,1364.4 L697.2,1366.3 L697.0,1368.3 L696.9,1370.2 L696.8,1372.1 L696.7,1373.9 L696.5,1375.7 L696.4,1377.5 L696.3,1379.2 L696.2,1380.9 L696.1,1382.6 L696.0,1384.2 L695.9,1385.7 L695.8,1387.3 L695.7,1388.8 L695.6,1390.2 L695.5,1391.6 L695.4,1392.9 L695.4,1394.2 L695.3,1395.4 L695.2,1396.6 L695.1,1397.8 L695.1,1398.9 L695.0,1399.9 L697.0,1400.1 L697.1,1399.0 L697.1,1397.9 L697.2,1396.8 L697.3,1395.6 L697.3,1394.3 L697.4,1393.0 L697.5,1391.7 L697.6,1390.3 L697.7,1388.9 L697.8,1387.4 L697.9,1385.9 L698.0,1384.3 L698.1,1382.7 L698.2,1381.0 L698.3,1379.4 L698.4,1377.6 L698.5,1375.8 L698.7,1374.0 L698.8,1372.2 L698.9,1370.3 L699.0,1368.4 L699.2,1366.5 L699.3,1364.5 L699.4,1362.5 L699.6,1360.4 L699.7,1358.4 L699.8,1356.3 L700.0,1354.2 L700.1,1352.0 L700.2,1349.9 L700.4,1347.7 L700.5,1345.5 L700.7,1343.2 L700.8,1341.0 L701.0,1338.7 L701.1,1336.4 L701.3,1334.1 L701.4,1331.8 L701.6,1329.5 L701.7,1327.1 L701.9,1324.8 L702.0,1322.4 L702.2,1320.0 L702.3,1317.7 L702.5,1315.3 L702.6,1312.9 L702.8,1310.5 L703.0,1308.1 L703.1,1305.7 L703.3,1303.3 L703.4,1300.9 L703.6,1298.5 L703.7,1296.0 L703.9,1293.6 L704.0,1291.2 L704.1,1288.9 L704.3,1286.5 L704.4,1284.1 L704.6,1281.7 L704.7,1279.4 L704.9,1277.0 L705.0,1274.7 L705.1,1272.3 L705.3,1270.0 L705.4,1267.7 L705.5,1265.5 L705.7,1263.2 L705.8,1260.9 L705.9,1258.7 L706.0,1256.5 L706.2,1254.3 L706.3,1252.2 L706.4,1250.0 L706.5,1247.9 L706.6,1245.8 L706.7,1243.8 L706.8,1241.8 L706.9,1239.8 L707.0,1237.8 L707.1,1235.9 L707.2,1234.0 L707.3,1232.1 L707.4,1230.2 L707.5,1228.5 L707.5,1226.7 L707.6,1225.0 L707.7,1223.3 L707.7,1221.6 L707.8,1220.0 L707.9,1218.5 L707.9,1216.9 L708.0,1215.1 L708.0,1212.9 L708.1,1210.3 L708.2,1207.4 L708.2,1204.4 L708.3,1201.5 L708.4,1198.8 L708.4,1196.1 L708.4,1193.6 L708.5,1191.3 L708.5,1189.0 L708.5,1186.9 L708.4,1184.8 L708.4,1182.9 L708.4,1181.0 L708.4,1179.2 L708.3,1177.5 L708.2,1175.8 L708.2,1174.2 L708.1,1172.6 L708.0,1171.1 L707.9,1169.6 L707.7,1168.1 L707.6,1166.6 L707.5,1165.1 L707.3,1163.6 L707.2,1162.1 L707.0,1160.6 L706.8,1159.0 L706.6,1157.4 L706.4,1155.8 L706.2,1154.0 L706.0,1152.3 L705.7,1150.4 L705.5,1148.5 L705.2,1146.5 L705.0,1144.4 L704.7,1142.2 L704.4,1140.2 L704.2,1138.2 L703.9,1136.4 L703.7,1134.5 L703.4,1132.7 L703.1,1130.8 L702.8,1128.9 L702.5,1127.0 L702.2,1125.0 L701.9,1123.1 L701.6,1121.0 L701.2,1119.0 L700.9,1117.0 L700.5,1114.9 L700.1,1112.8 L699.8,1110.7 L699.4,1108.6 L699.0,1106.5 L698.6,1104.3 L698.2,1102.2 L697.8,1100.0 L697.4,1097.9 L696.9,1095.7 L696.5,1093.5 L696.1,1091.4 L695.7,1089.2 L695.3,1087.0 L694.8,1084.8 L694.4,1082.7 L694.0,1080.5 L693.6,1078.3 L693.2,1076.2 L692.8,1074.1 L692.4,1071.9 L691.9,1069.8 L691.5,1067.7 L691.1,1065.6 L690.8,1063.6 L690.4,1061.5 L690.0,1059.5 L689.6,1057.5 L689.3,1055.6 L688.9,1053.6 L688.6,1051.7 L688.2,1049.8 L687.9,1047.9 L687.6,1046.1 L687.3,1044.3 L687.0,1042.6 L686.7,1040.8 L686.5,1039.1 L686.2,1037.3 L685.9,1035.3 L685.6,1033.0 L685.3,1030.6 L685.0,1028.2 L684.7,1025.8 L684.4,1023.5 L684.1,1021.3 L683.9,1019.1 L683.6,1017.1 L683.4,1015.0 L683.2,1013.1 L683.1,1011.2 L682.9,1009.3 L682.8,1007.4 L682.6,1005.6 L682.5,1003.8 L682.4,1002.0 L682.3,1000.3 L682.1,998.5 L682.0,996.7 L682.0,994.9 L681.9,993.1 L681.8,991.3 L681.7,989.4 L681.6,987.5 L681.5,985.5 L681.4,983.5 L681.3,981.5 L681.2,979.4 L681.1,977.3 L681.0,975.2 L680.9,973.2 L680.8,971.3 L680.7,969.4 L680.7,967.6 L680.6,965.6 L680.5,963.7 L680.4,961.7 L680.4,959.8 L680.3,957.8 L680.2,955.7 L680.2,953.7 L680.1,951.7 L680.0,949.6 L680.0,947.5 L679.9,945.4 L679.9,943.4 L679.8,941.3 L679.8,939.2 L679.7,937.0 L679.7,934.9 L679.6,932.8 L679.6,930.7 L679.5,928.6 L679.5,926.5 L679.5,924.5 L679.4,922.4 L679.4,920.3 L679.3,918.3 L679.3,916.2 L679.3,914.2 L679.2,912.2 L679.2,910.2 L679.2,908.3 L679.1,906.3 L679.1,904.4 L679.1,902.5 L679.1,900.6 L679.0,898.7 L679.0,896.7 L679.0,894.6 L678.9,892.4 L678.9,890.2 L678.9,888.0 L678.9,885.9 L678.9,883.8 L678.9,881.6 L678.8,879.6 L678.8,877.5 L678.8,875.5 L678.8,873.5 L678.8,871.5 L678.8,869.5 L678.8,867.5 L678.9,865.5 L678.9,863.6 L678.9,861.6 L678.9,859.7 L678.9,857.7 L678.9,855.8 L678.9,853.8 L678.9,851.8 L678.9,849.9 L678.9,847.9 L678.9,845.9 L678.9,843.9 L678.8,841.9 L678.8,839.8 L678.8,837.8 L678.8,835.7 L678.8,833.7 L678.8,831.7 L678.7,829.7 L678.7,827.7 L678.7,825.6 L678.7,823.6 L678.7,821.5 L678.6,819.4 L678.6,817.3 L678.6,815.3 L678.5,813.2 L678.5,811.1 L678.5,809.0 L678.5,806.9 L678.4,804.8 L678.4,802.7 L678.4,800.6 L678.3,798.5 L678.3,796.5 L678.3,794.4 L678.2,792.4 L678.2,790.3 L678.1,788.3 L678.1,786.3 L678.1,784.3 L678.0,782.3 L678.0,780.4 L677.9,778.5 L677.9,776.5 L677.8,774.6 L677.8,772.7 L677.7,770.7 L677.6,768.6 L677.6,766.4 L677.5,764.2 L677.4,762.1 L677.4,759.9 L677.3,757.8 L677.3,755.7 L677.2,753.7 L677.1,751.6 L677.1,749.6 L677.0,747.6 L676.9,745.6 L676.9,743.6 L676.8,741.7 L676.7,739.7 L676.6,737.8 L676.5,735.8 L676.4,733.8 L676.2,731.9 L676.1,729.9 L675.9,727.9 L675.8,725.9 L675.6,723.9 L675.4,721.9 L675.2,719.9 L675.0,717.9 L674.8,715.8 L674.6,713.8 L674.4,711.7 L674.1,709.6 L673.9,707.5 L673.7,705.3 L673.4,703.2 L673.1,701.1 L672.9,698.9 L672.6,696.8 L672.3,694.6 L672.0,692.5 L671.7,690.4 L671.4,688.4 L671.0,686.3 L670.7,684.3 L670.4,682.3 L670.0,680.4 L669.7,678.5 L669.3,676.6 L669.0,674.9 L668.6,673.1 L668.2,671.4 L667.8,669.6 L667.2,667.6 L666.6,665.5 L665.9,663.3 L665.2,661.1 L664.4,659.1 L663.7,657.2 L662.8,655.4 L662.0,653.7 L661.1,652.1 L660.2,650.5 L659.2,648.9 L658.1,647.3 L657.1,645.6 L655.9,643.9 L654.8,642.3 L653.7,640.6 L652.6,639.0 L651.5,637.4 L650.3,635.8 L649.2,634.1 L647.9,632.5 L646.7,630.8 L645.4,629.2 L644.1,627.5 L642.8,625.8 L641.4,624.2 L640.0,622.6 L638.6,621.0 L637.1,619.4 L635.7,617.8 L634.2,616.3 L632.7,614.8 L631.2,613.3 L629.6,611.9 L628.0,610.5 L626.4,609.1 L624.8,607.8 L623.1,606.4 L621.4,605.1 L619.7,603.8 L617.9,602.5 L616.2,601.2 L614.4,600.0 L612.6,598.8 L610.8,597.6 L609.0,596.5 L607.3,595.4 L605.5,594.3 L603.7,593.3 L601.9,592.4 L600.1,591.4 L598.2,590.5 L596.2,589.7 L594.2,588.9 L592.3,588.1 L590.3,587.4 L588.3,586.8 L586.3,586.2 L584.3,585.7 L582.4,585.1 L580.4,584.7 L578.5,584.2 L576.5,583.8 L574.6,583.4 L572.7,583.0 L570.7,582.6 L568.8,582.3 L566.7,581.9 L564.6,581.6 L562.4,581.4 L560.3,581.1 L558.2,580.9 L556.0,580.8 L553.9,580.6 L551.9,580.5 L549.8,580.4 L547.8,580.3 L545.9,580.2 L543.9,580.1 L542.0,579.9 L540.0,579.7 L538.0,579.5 L536.0,579.3 L534.0,579.2 L532.1,579.0 L530.2,578.8 L528.3,578.6 L526.4,578.3 L524.3,578.0 L522.2,577.7 L520.0,577.3 L517.8,576.9 L515.9,576.5 L514.0,576.1 L512.3,575.7 L510.5,575.3 L508.7,574.9 L506.8,574.4 L504.9,574.0 L502.9,573.5 L500.9,573.0 L498.9,572.5 L496.8,571.9 L494.7,571.4 L492.6,570.8 L490.4,570.3 L488.2,569.7 L485.9,569.1 L483.7,568.5 L481.5,567.9 L479.3,567.4 L477.3,566.8 L475.4,566.3 L473.4,565.8 L471.4,565.2 L469.3,564.7 L467.1,564.1 L464.9,563.5 L462.7,562.9 L460.5,562.2 L458.2,561.6 L455.9,561.0 L453.6,560.4 L451.4,559.7 L449.2,559.1 L447.0,558.5 L444.9,557.9 L442.8,557.3 L440.8,556.8 L438.9,556.2 L437.1,555.7 L435.3,555.2 L433.7,554.8 L432.2,554.4 L430.9,554.0 L429.6,553.6 L428.5,553.3 Z" fill="#6b6b6b" stroke="none" stroke-width="0" stroke-linecap="round" stroke-linejoin="round" />
<path d="M219.8,584.2 L218.9,585.0 L217.8,586.1 L216.4,587.3 L214.9,588.8 L213.1,590.3 L211.1,591.9 L208.9,593.6 L207.6,594.6 L206.1,595.7 L204.6,596.8 L203.0,597.9 L201.4,599.0 L199.7,600.2 L197.9,601.5 L196.0,602.7 L194.0,604.0 L192.0,605.3 L189.8,606.6 L187.6,608.0 L186.1,608.9 L184.5,609.8 L182.9,610.8 L181.2,611.8 L179.5,612.8 L177.7,613.8 L175.9,614.8 L174.1,615.9 L172.2,616.9 L170.3,618.0 L168.4,619.0 L166.5,620.1 L164.6,621.1 L162.7,622.1 L160.8,623.1 L158.9,624.1 L157.1,625.0 L155.2,625.9 L153.4,626.8 L151.6,627.7 L149.7,628.5 L147.8,629.4 L145.9,630.2 L144.0,631.0 L142.1,631.8 L140.2,632.6 L138.3,633.4 L136.4,634.1 L134.5,634.9 L132.6,635.6 L130.7,636.3 L128.8,637.0 L126.9,637.7 L125.0,638.4 L123.1,639.1 L121.2,639.7 L119.3,640.4 L117.3,641.1 L115.3,641.8 L113.2,642.4 L111.1,643.1 L108.9,643.7 L106.8,644.3 L104.6,644.9 L102.5,645.6 L100.4,646.1 L98.3,646.7 L96.2,647.3 L94.2,647.9 L92.3,648.5 L90.4,649.0 L88.5,649.6 L86.7,650.1 L85.1,650.7 L82.7,651.5 L80.5,652.2 L78.5,652.9 L76.6,653.5 L74.8,654.2 L73.1,654.8 L71.4,655.5 L69.6,656.3 L67.9,657.3 L66.0,658.3 L64.1,659.5 L62.5,660.5 L60.9,661.7 L59.3,662.8 L57.6,664.1 L55.9,665.3 L54.3,666.7 L52.6,668.1 L51.0,669.5 L49.3,671.0 L47.7,672.5 L46.1,674.0 L44.6,675.6 L43.0,677.2 L41.6,678.8 L40.3,680.4 L38.9,682.0 L37.6,683.7 L36.3,685.3 L35.1,687.1 L33.8,688.8 L32.6,690.6 L31.4,692.4 L30.2,694.2 L29.1,696.1 L28.1,697.9 L27.0,699.7 L26.1,701.5 L25.2,703.3 L24.3,705.1 L23.5,707.1 L22.7,709.0 L22.0,711.0 L21.3,712.9 L20.8,714.8 L20.2,716.7 L19.8,718.6 L19.4,720.6 L19.0,722.6 L18.6,724.7 L18.3,726.8 L18.0,729.0 L17.7,731.2 L17.4,733.0 L17.2,734.9 L17.0,736.8 L16.9,738.8 L16.7,740.8 L16.6,742.8 L16.5,744.8 L16.4,746.9 L16.3,749.0 L16.2,751.1 L16.2,753.2 L16.1,755.3 L16.1,757.4 L16.1,759.5 L16.1,761.6 L16.1,763.7 L16.1,765.7 L16.1,767.7 L16.2,769.7 L16.2,771.6 L16.3,773.5 L16.4,775.4 L16.5,777.3 L16.6,779.2 L16.7,781.1 L16.8,783.0 L17.0,785.0 L17.1,787.0 L17.3,789.0 L17.4,791.1 L17.6,793.2 L17.8,795.4 L17.9,797.7 L18.1,800.1 L18.2,801.8 L18.3,803.6 L18.4,805.5 L18.5,807.3 L18.7,809.2 L18.8,811.1 L18.9,813.0 L19.0,815.0 L19.1,817.0 L19.2,819.0 L19.3,821.0 L19.5,823.1 L19.6,825.2 L19.8,827.3 L19.9,829.4 L20.1,831.6 L20.3,833.8 L20.5,836.0 L20.7,838.3 L20.9,840.5 L21.2,842.9 L21.5,845.2 L21.8,847.6 L22.0,849.4 L22.2,851.2 L22.5,853.1 L22.7,855.0 L23.0,857.0 L23.3,858.9 L23.5,860.9 L23.8,862.9 L24.1,865.0 L24.4,867.0 L24.7,869.1 L25.1,871.2 L25.4,873.3 L25.7,875.4 L26.1,877.5 L26.4,879.7 L26.7,881.8 L27.1,883.9 L27.4,886.0 L27.8,888.1 L28.2,890.2 L28.5,892.3 L28.9,894.4 L29.2,896.5 L29.6,898.5 L30.0,900.5 L30.3,902.5 L30.7,904.5 L31.0,906.4 L31.4,908.3 L31.8,910.1 L32.2,912.3 L32.6,914.4 L33.1,916.4 L33.6,918.4 L34.1,920.3 L34.6,922.2 L35.1,924.0 L35.6,925.8 L36.1,927.6 L36.6,929.4 L37.1,931.1 L37.6,932.9 L38.1,934.6 L38.6,936.4 L39.1,938.2 L39.6,940.1 L40.1,941.9 L40.6,943.8 L41.0,945.8 L41.5,947.9 L41.9,950.0 L42.3,952.1 L42.8,954.4 L43.1,956.8 L43.5,959.2 L43.9,961.8 L44.1,963.4 L44.3,965.1 L44.5,966.8 L44.6,968.5 L44.8,970.2 L45.0,972.0 L45.2,973.7 L45.3,975.5 L45.5,977.3 L45.7,979.2 L45.8,981.0 L46.0,982.9 L46.1,984.8 L46.3,986.7 L46.4,988.7 L46.6,990.6 L46.7,992.6 L46.8,994.6 L46.9,996.6 L47.1,998.6 L47.2,1000.6 L47.3,1002.7 L47.4,1004.8 L47.5,1006.9 L47.6,1009.0 L47.7,1011.1 L47.8,1013.3 L48.0,1015.4 L48.1,1017.6 L48.2,1019.8 L48.2,1022.0 L48.3,1024.2 L48.4,1026.4 L48.5,1028.6 L48.6,1030.9 L48.7,1033.2 L48.8,1035.5 L48.9,1037.7 L49.0,1040.0 L49.1,1042.4 L49.2,1044.7 L49.3,1047.0 L49.3,1048.8 L49.4,1050.7 L49.5,1052.5 L49.5,1054.4 L49.6,1056.3 L49.7,1058.3 L49.8,1060.2 L49.9,1062.2 L50.0,1064.2 L50.1,1066.2 L50.1,1068.3 L50.2,1070.3 L50.3,1072.4 L50.4,1074.5 L50.5,1076.6 L50.6,1078.7 L50.7,1080.8 L50.8,1082.9 L50.9,1085.1 L50.9,1087.2 L51.0,1089.4 L51.1,1091.6 L51.2,1093.7 L51.3,1095.9 L51.3,1098.1 L51.4,1100.2 L51.5,1102.4 L51.6,1104.6 L51.6,1106.8 L51.7,1108.9 L51.7,1111.1 L51.8,1113.2 L51.8,1115.4 L51.9,1117.5 L51.9,1119.7 L51.9,1121.8 L52.0,1123.9 L52.0,1126.0 L52.0,1128.1 L52.0,1130.1 L52.0,1132.2 L52.0,1134.2 L52.0,1136.2 L52.0,1138.2 L52.0,1140.2 L51.9,1142.2 L51.9,1144.1 L51.8,1146.0 L51.8,1147.9 L51.7,1149.7 L51.6,1151.5 L51.6,1153.3 L51.5,1155.1 L51.4,1156.8 L51.3,1158.5 L51.1,1161.0 L50.9,1163.5 L50.6,1165.8 L50.4,1168.2 L50.1,1170.4 L49.8,1172.7 L49.4,1174.9 L49.1,1177.0 L48.8,1179.2 L48.4,1181.3 L48.0,1183.3 L47.6,1185.3 L47.2,1187.4 L46.7,1189.3 L46.3,1191.3 L45.9,1193.2 L45.4,1195.1 L44.9,1197.0 L44.5,1198.9 L44.0,1200.8 L43.5,1202.6 L43.0,1204.5 L42.6,1206.3 L42.1,1208.2 L41.6,1210.0 L41.1,1211.9 L40.6,1213.7 L40.2,1215.6 L39.7,1217.4 L39.2,1219.3 L38.8,1221.2 L38.3,1223.1 L37.9,1225.0 L37.5,1226.9 L37.1,1228.9 L36.7,1230.9 L36.3,1232.9 L35.9,1234.9 L35.5,1236.8 L35.1,1238.8 L34.7,1240.8 L34.3,1242.7 L33.9,1244.7 L33.5,1246.6 L33.1,1248.5 L32.7,1250.4 L32.3,1252.4 L31.9,1254.3 L31.5,1256.2 L31.1,1258.1 L30.7,1260.0 L30.3,1261.9 L29.9,1263.9 L29.5,1265.8 L29.1,1267.7 L28.7,1269.7 L28.3,1271.6 L27.9,1273.6 L27.6,1275.5 L27.2,1277.5 L26.9,1279.5 L26.5,1281.5 L26.2,1283.5 L25.9,1285.5 L25.5,1287.6 L25.2,1289.6 L24.9,1291.7 L24.7,1293.8 L24.4,1296.0 L24.1,1298.1 L23.9,1300.3 L23.7,1302.5 L23.5,1304.7 L23.3,1306.9 L23.1,1308.8 L23.0,1310.7 L22.8,1312.7 L22.7,1314.7 L22.6,1316.7 L22.5,1318.8 L22.4,1321.0 L22.4,1323.2 L22.3,1325.4 L22.2,1327.7 L22.2,1329.9 L22.1,1332.2 L22.1,1334.6 L22.0,1336.9 L22.0,1339.2 L22.0,1341.6 L22.0,1344.0 L21.9,1346.3 L21.9,1348.7 L21.9,1351.1 L21.9,1353.4 L21.9,1355.8 L21.9,1358.1 L21.9,1360.4 L22.0,1362.7 L22.0,1365.0 L22.0,1367.3 L22.0,1369.5 L22.0,1371.6 L22.1,1373.8 L22.1,1375.9 L22.1,1377.9 L22.1,1379.9 L22.1,1381.9 L22.2,1383.8 L22.2,1385.6 L22.2,1387.4 L22.2,1389.1 L22.2,1390.8 L22.2,1392.3 L22.3,1393.8 L22.3,1395.2 L22.3,1396.5 L22.3,1397.8 L22.3,1398.9 L22.3,1400.0 L23.7,1400.0 L23.8,1398.9 L23.8,1397.8 L23.8,1396.5 L23.8,1395.2 L23.8,1393.8 L23.7,1392.3 L23.7,1390.7 L23.7,1389.1 L23.7,1387.4 L23.7,1385.6 L23.7,1383.8 L23.6,1381.9 L23.6,1379.9 L23.6,1377.9 L23.6,1375.9 L23.6,1373.8 L23.5,1371.6 L23.5,1369.5 L23.5,1367.2 L23.5,1365.0 L23.5,1362.7 L23.4,1360.4 L23.4,1358.1 L23.4,1355.8 L23.4,1353.4 L23.4,1351.1 L23.4,1348.7 L23.4,1346.4 L23.5,1344.0 L23.5,1341.6 L23.5,1339.3 L23.5,1336.9 L23.6,1334.6 L23.6,1332.3 L23.7,1330.0 L23.7,1327.7 L23.8,1325.4 L23.9,1323.2 L23.9,1321.1 L24.0,1318.9 L24.1,1316.8 L24.2,1314.8 L24.3,1312.8 L24.5,1310.8 L24.6,1308.9 L24.7,1307.1 L24.9,1304.8 L25.2,1302.6 L25.4,1300.4 L25.6,1298.3 L25.9,1296.1 L26.1,1294.0 L26.4,1291.9 L26.7,1289.9 L27.0,1287.8 L27.3,1285.8 L27.7,1283.7 L28.0,1281.7 L28.3,1279.7 L28.7,1277.8 L29.1,1275.8 L29.4,1273.8 L29.8,1271.9 L30.2,1270.0 L30.6,1268.0 L30.9,1266.1 L31.3,1264.2 L31.7,1262.3 L32.1,1260.3 L32.5,1258.4 L32.9,1256.5 L33.3,1254.6 L33.8,1252.7 L34.2,1250.8 L34.6,1248.8 L35.0,1246.9 L35.4,1245.0 L35.8,1243.0 L36.2,1241.1 L36.6,1239.1 L37.0,1237.1 L37.4,1235.1 L37.7,1233.1 L38.1,1231.2 L38.5,1229.2 L38.9,1227.3 L39.4,1225.3 L39.8,1223.4 L40.2,1221.5 L40.7,1219.7 L41.1,1217.8 L41.6,1215.9 L42.1,1214.1 L42.6,1212.3 L43.0,1210.4 L43.5,1208.6 L44.0,1206.7 L44.5,1204.9 L45.0,1203.0 L45.5,1201.2 L45.9,1199.3 L46.4,1197.4 L46.9,1195.5 L47.3,1193.6 L47.8,1191.6 L48.2,1189.6 L48.6,1187.7 L49.1,1185.6 L49.5,1183.6 L49.9,1181.5 L50.2,1179.4 L50.6,1177.3 L50.9,1175.1 L51.3,1172.9 L51.6,1170.6 L51.8,1168.3 L52.1,1166.0 L52.3,1163.6 L52.6,1161.1 L52.7,1158.7 L52.9,1156.9 L53.0,1155.2 L53.1,1153.4 L53.1,1151.6 L53.2,1149.8 L53.3,1147.9 L53.3,1146.0 L53.4,1144.1 L53.4,1142.2 L53.5,1140.2 L53.5,1138.2 L53.5,1136.2 L53.5,1134.2 L53.5,1132.2 L53.5,1130.1 L53.5,1128.1 L53.5,1126.0 L53.5,1123.9 L53.4,1121.8 L53.4,1119.6 L53.4,1117.5 L53.3,1115.4 L53.3,1113.2 L53.2,1111.1 L53.2,1108.9 L53.1,1106.7 L53.1,1104.5 L53.0,1102.4 L52.9,1100.2 L52.8,1098.0 L52.8,1095.8 L52.7,1093.7 L52.6,1091.5 L52.5,1089.3 L52.4,1087.2 L52.4,1085.0 L52.3,1082.9 L52.2,1080.8 L52.1,1078.6 L52.0,1076.5 L51.9,1074.4 L51.8,1072.3 L51.7,1070.3 L51.6,1068.2 L51.5,1066.2 L51.5,1064.1 L51.4,1062.1 L51.3,1060.2 L51.2,1058.2 L51.1,1056.3 L51.0,1054.4 L51.0,1052.5 L50.9,1050.6 L50.8,1048.8 L50.7,1047.0 L50.7,1044.6 L50.6,1042.3 L50.5,1040.0 L50.4,1037.7 L50.3,1035.4 L50.2,1033.1 L50.1,1030.8 L50.0,1028.6 L49.9,1026.3 L49.8,1024.1 L49.7,1021.9 L49.6,1019.7 L49.6,1017.5 L49.4,1015.3 L49.3,1013.2 L49.2,1011.0 L49.1,1008.9 L49.0,1006.8 L48.9,1004.7 L48.8,1002.6 L48.7,1000.6 L48.6,998.5 L48.4,996.5 L48.3,994.5 L48.2,992.5 L48.0,990.5 L47.9,988.6 L47.8,986.6 L47.6,984.7 L47.5,982.8 L47.3,980.9 L47.2,979.1 L47.0,977.2 L46.8,975.4 L46.7,973.6 L46.5,971.8 L46.3,970.1 L46.1,968.3 L45.9,966.6 L45.8,964.9 L45.5,963.3 L45.3,961.6 L45.0,959.0 L44.6,956.5 L44.2,954.2 L43.8,951.9 L43.4,949.7 L43.0,947.5 L42.5,945.5 L42.0,943.5 L41.6,941.6 L41.1,939.7 L40.6,937.8 L40.1,936.0 L39.6,934.2 L39.0,932.4 L38.5,930.7 L38.0,928.9 L37.5,927.2 L37.0,925.4 L36.5,923.6 L36.0,921.8 L35.5,919.9 L35.0,918.0 L34.6,916.1 L34.1,914.1 L33.7,912.0 L33.2,909.9 L32.9,908.0 L32.5,906.1 L32.2,904.2 L31.8,902.2 L31.4,900.2 L31.1,898.2 L30.7,896.2 L30.4,894.1 L30.0,892.1 L29.6,890.0 L29.3,887.9 L28.9,885.8 L28.6,883.7 L28.2,881.5 L27.9,879.4 L27.5,877.3 L27.2,875.2 L26.9,873.1 L26.6,871.0 L26.2,868.9 L25.9,866.8 L25.6,864.8 L25.3,862.7 L25.0,860.7 L24.7,858.7 L24.5,856.7 L24.2,854.8 L23.9,852.9 L23.7,851.0 L23.5,849.2 L23.2,847.4 L23.0,845.0 L22.7,842.7 L22.5,840.4 L22.2,838.1 L22.0,835.9 L21.8,833.6 L21.6,831.5 L21.5,829.3 L21.3,827.2 L21.2,825.0 L21.0,823.0 L20.9,820.9 L20.8,818.9 L20.7,816.9 L20.5,814.9 L20.4,813.0 L20.3,811.0 L20.2,809.1 L20.1,807.2 L20.0,805.4 L19.9,803.6 L19.8,801.7 L19.7,799.9 L19.6,797.6 L19.4,795.3 L19.3,793.1 L19.1,791.0 L19.0,788.9 L18.9,786.9 L18.7,784.9 L18.6,782.9 L18.5,781.0 L18.4,779.1 L18.3,777.2 L18.3,775.3 L18.2,773.5 L18.1,771.6 L18.1,769.6 L18.1,767.7 L18.1,765.7 L18.1,763.7 L18.1,761.6 L18.2,759.6 L18.2,757.5 L18.3,755.4 L18.4,753.3 L18.4,751.2 L18.5,749.1 L18.6,747.0 L18.8,745.0 L18.9,742.9 L19.1,740.9 L19.2,739.0 L19.4,737.1 L19.7,735.2 L19.9,733.3 L20.1,731.6 L20.5,729.3 L20.8,727.2 L21.2,725.1 L21.6,723.1 L22.0,721.2 L22.4,719.3 L22.9,717.4 L23.4,715.6 L24.0,713.8 L24.7,711.9 L25.4,710.1 L26.2,708.2 L27.1,706.3 L27.9,704.6 L28.8,702.9 L29.7,701.2 L30.8,699.5 L31.8,697.7 L32.9,696.0 L34.1,694.2 L35.3,692.5 L36.5,690.7 L37.8,689.1 L39.0,687.4 L40.3,685.8 L41.6,684.2 L42.9,682.6 L44.2,681.2 L45.6,679.6 L47.1,678.1 L48.6,676.6 L50.2,675.1 L51.7,673.7 L53.3,672.2 L55.0,670.9 L56.6,669.5 L58.2,668.3 L59.8,667.0 L61.5,665.9 L63.0,664.7 L64.6,663.7 L66.1,662.7 L67.9,661.6 L69.7,660.6 L71.3,659.8 L72.9,659.1 L74.5,658.4 L76.2,657.8 L77.9,657.2 L79.8,656.6 L81.8,656.0 L83.9,655.3 L86.3,654.5 L88.0,653.9 L89.7,653.4 L91.5,652.8 L93.4,652.3 L95.3,651.7 L97.3,651.2 L99.4,650.6 L101.5,650.0 L103.6,649.4 L105.7,648.8 L107.9,648.2 L110.1,647.6 L112.2,646.9 L114.4,646.3 L116.5,645.6 L118.6,644.9 L120.7,644.2 L122.6,643.5 L124.5,642.8 L126.4,642.2 L128.3,641.5 L130.2,640.8 L132.1,640.1 L134.0,639.3 L136.0,638.6 L137.9,637.8 L139.8,637.1 L141.7,636.3 L143.6,635.5 L145.6,634.7 L147.5,633.9 L149.4,633.1 L151.3,632.2 L153.2,631.3 L155.2,630.4 L157.0,629.5 L158.9,628.6 L160.8,627.6 L162.7,626.7 L164.6,625.7 L166.5,624.6 L168.4,623.6 L170.4,622.5 L172.3,621.5 L174.2,620.4 L176.1,619.4 L177.9,618.3 L179.7,617.3 L181.5,616.2 L183.2,615.2 L184.9,614.2 L186.6,613.3 L188.1,612.3 L189.6,611.4 L191.9,610.0 L194.1,608.6 L196.2,607.2 L198.1,605.9 L200.0,604.6 L201.8,603.3 L203.6,602.1 L205.2,600.8 L206.8,599.7 L208.3,598.5 L209.7,597.4 L211.1,596.4 L213.3,594.7 L215.4,593.0 L217.2,591.4 L218.8,589.9 L220.2,588.7 L221.3,587.6 L222.2,586.8 Z" fill="#6b6b6b" stroke="none" stroke-width="0" stroke-linecap="round" stroke-linejoin="round" />
<path d="M156.0,956.0 L156.1,958.2 L156.1,960.6 L156.2,963.3 L156.2,966.1 L156.3,969.2 L156.4,972.5 L156.5,976.0 L156.6,979.7 L156.7,983.5 L156.7,987.5 L156.8,991.6 L156.9,995.8 L157.0,1000.2 L157.2,1004.7 L157.3,1009.2 L157.4,1013.8 L157.5,1018.5 L157.6,1023.2 L157.7,1028.0 L157.8,1032.8 L157.9,1037.5 L158.1,1042.3 L158.2,1047.1 L158.3,1051.8 L158.4,1056.5 L158.5,1061.1 L158.6,1065.7 L158.8,1070.2 L158.9,1074.5 L159.0,1078.8 L159.1,1082.9 L159.2,1087.0 L159.3,1090.8 L159.4,1094.5 L159.5,1098.0 L159.7,1101.6 L159.8,1106.0 L160.0,1111.3 L160.1,1116.6 L160.3,1121.7 L160.5,1126.7 L160.7,1131.4 L160.8,1136.0 L161.0,1140.5 L161.2,1144.7 L161.3,1148.9 L161.5,1152.8 L161.7,1156.7 L161.9,1160.4 L162.1,1163.9 L162.2,1167.4 L162.4,1170.7 L162.6,1174.0 L162.8,1177.1 L163.1,1180.2 L163.3,1183.5 L163.8,1188.3 L164.4,1194.1 L165.2,1199.5 L166.0,1204.2 L166.8,1208.1 L167.6,1211.5 L168.2,1214.4 L168.8,1216.8 L169.0,1218.0" fill="none" stroke="#707070" stroke-width="1.5" stroke-linecap="round" stroke-linejoin="round" />
<path d="M579.0,974.7 L579.3,977.0 L579.6,979.5 L580.1,982.4 L580.5,985.6 L581.0,989.0 L581.5,992.7 L582.1,996.7 L582.7,1000.8 L583.3,1005.1 L583.8,1009.5 L584.4,1014.1 L585.0,1018.7 L585.6,1023.4 L586.2,1028.2 L586.7,1032.9 L587.2,1037.6 L587.6,1042.3 L588.0,1046.7 L588.3,1050.6 L588.5,1054.4 L588.8,1058.1 L589.0,1062.0 L589.2,1065.9 L589.4,1069.8 L589.6,1073.8 L589.8,1077.8 L589.9,1081.9 L590.1,1086.0 L590.3,1090.1 L590.4,1094.3 L590.5,1098.5 L590.7,1102.6 L590.8,1106.8 L591.0,1111.0 L591.1,1115.2 L591.2,1119.4 L591.4,1123.6 L591.5,1127.7 L591.7,1131.8 L591.8,1135.9 L592.0,1140.0 L592.1,1143.9 L592.3,1147.8 L592.3,1151.6 L592.4,1155.2 L592.4,1158.8 L592.5,1162.4 L592.5,1165.9 L592.5,1169.4 L592.5,1172.9 L592.5,1176.5 L592.6,1180.1 L592.6,1183.7 L592.7,1187.5 L592.8,1191.3 L592.9,1195.2 L593.1,1199.3 L593.3,1203.5 L593.5,1207.9 L593.9,1212.5 L594.2,1217.3 L594.7,1222.3 L595.1,1227.5 L595.6,1232.3 L596.1,1236.2 L596.4,1239.6 L596.9,1243.1 L597.3,1246.7 L597.8,1250.5 L598.3,1254.5 L598.8,1258.5 L599.4,1262.7 L600.0,1266.9 L600.6,1271.3 L601.2,1275.7 L601.9,1280.2 L602.5,1284.8 L603.2,1289.4 L603.9,1294.0 L604.5,1298.7 L605.2,1303.4 L605.9,1308.2 L606.7,1312.9 L607.4,1317.6 L608.1,1322.3 L608.8,1327.0 L609.5,1331.6 L610.2,1336.2 L610.9,1340.8 L611.6,1345.2 L612.3,1349.6 L612.9,1353.9 L613.6,1358.2 L614.2,1362.3 L614.8,1366.3 L615.4,1370.1 L616.0,1373.9 L616.6,1377.5 L617.1,1380.9 L617.6,1384.2 L618.1,1387.3 L618.5,1390.2 L619.0,1393.0 L619.3,1395.5 L619.7,1397.8 L620.0,1400.0 L620.0,1400.0" fill="none" stroke="#707070" stroke-width="1.5" stroke-linecap="round" stroke-linejoin="round" />
<path d="M170.0,652.0 L172.6,652.1 L175.7,652.2 L179.4,652.3 L183.5,652.5 L188.0,652.6 L192.6,652.7 L197.4,652.8 L202.1,652.9 L206.7,652.9 L211.0,652.8 L215.1,652.6 L219.4,652.2 L223.6,651.8 L227.7,651.2 L231.7,650.6 L235.7,649.9 L239.6,649.1 L243.5,648.3 L247.4,647.5 L251.5,646.6 L255.6,645.6 L260.0,644.4 L264.5,643.2 L268.9,641.9 L273.3,640.7 L277.5,639.5 L281.3,638.5 L284.9,637.6 L288.8,637.0 L293.2,636.9 L296.8,637.7 L299.9,639.4 L303.1,641.6 L306.1,644.4 L309.1,647.3 L312.3,650.1 L315.8,652.8 L319.1,655.1 L321.9,657.0 L321.9,657.0" fill="none" stroke="#6b6b6b" stroke-width="1.6" stroke-linecap="round" stroke-linejoin="round" />
<path d="M296.4,566.4 L297.3,569.1 L298.5,573.0 L299.9,577.5 L301.3,581.9 L302.6,586.0 L304.0,590.0 L305.3,594.0 L306.7,598.0 L308.0,602.0 L309.3,606.0 L310.7,610.1 L312.0,614.1 L313.4,618.0 L314.7,622.2 L316.1,626.8 L317.5,631.3 L318.8,635.2 L320.4,639.6 L322.1,643.4 L324.1,647.0 L326.7,650.2 L330.9,652.7 L334.6,654.5 L334.6,654.5" fill="none" stroke="#6b6b6b" stroke-width="1.6" stroke-linecap="round" stroke-linejoin="round" />
<path d="M385,555 L369,654.5" fill="none" stroke="#6b6b6b" stroke-width="1.6" stroke-linecap="round" stroke-linejoin="round" />
<path d="M358.6,647.3 L360.4,643.8 L362.7,640.1 L365.7,637.2 L369.3,635.4 L373.1,634.1 L376.5,633.0 L380.4,631.9 L385.2,630.9 L389.2,630.1 L392.5,629.6 L396.0,629.1 L399.8,628.5 L403.8,627.9 L408.1,627.3 L412.4,626.7 L416.8,626.0 L421.3,625.3 L425.6,624.7 L429.9,624.0 L433.8,623.4 L437.8,622.7 L441.9,622.0 L446.0,621.3 L450.2,620.6 L454.4,619.9 L458.5,619.2 L462.7,618.5 L466.7,617.8 L470.7,617.2 L474.5,616.6 L478.3,616.0 L482.6,615.3 L487.3,614.7 L492.2,614.0 L497.0,613.4 L501.5,612.8 L505.8,612.3 L509.6,611.9 L513.0,611.5 L515.7,611.2 L517.0,611.0" fill="none" stroke="#6b6b6b" stroke-width="1.6" stroke-linecap="round" stroke-linejoin="round" />
<path d="M926.0,404.0 C926.7,410.0 928.5,431.0 930.0,440.0 C931.5,449.0 934.2,455.0 935.0,458.0" fill="none" stroke="#6b6b6b" stroke-width="2" stroke-linecap="round" stroke-linejoin="round" />
<path d="M933.2,458.6 L934.1,459.8 L935.1,461.2 L936.3,462.9 L937.6,464.7 L939.1,466.7 L940.6,468.8 L942.2,470.8 L943.7,472.7 L945.0,474.5 L946.3,476.1 L947.6,477.8 L948.9,479.5 L950.3,481.2 L951.7,483.0 L953.1,484.7 L954.5,486.4 L955.9,488.1 L957.3,489.7 L958.8,491.3 L960.4,493.0 L962.1,494.6 L963.7,496.2 L965.4,497.7 L967.1,499.2 L968.8,500.6 L970.5,502.0 L972.2,503.3 L973.9,504.6 L975.7,506.0 L977.6,507.3 L979.5,508.5 L981.5,509.7 L983.4,510.8 L985.3,511.9 L987.2,512.9 L989.1,513.9 L991.0,514.8 L993.0,515.7 L995.0,516.6 L997.0,517.4 L998.9,518.1 L1000.8,518.8 L1002.7,519.5 L1004.6,520.1 L1006.8,520.7 L1009.1,521.3 L1011.3,521.7 L1013.5,521.9 L1015.7,522.1 L1017.8,522.2 L1019.8,522.2 L1021.9,522.1 L1024.0,522.0 L1026.1,521.8 L1028.3,521.5 L1030.4,521.1 L1032.6,520.6 L1034.8,520.0 L1037.0,519.3 L1039.2,518.5 L1041.4,517.7 L1043.6,516.8 L1045.7,515.9 L1047.7,515.1 L1049.5,514.1 L1051.4,513.2 L1053.2,512.2 L1055.0,511.2 L1056.9,510.1 L1058.9,508.9 L1060.8,507.8 L1062.6,506.8 L1064.3,505.8 L1066.1,504.8 L1067.9,503.7 L1069.7,502.7 L1071.6,501.5 L1073.5,500.4 L1075.4,499.2 L1077.3,498.0 L1079.1,496.7 L1081.0,495.4 L1082.8,494.1 L1084.6,492.7 L1086.5,491.2 L1088.4,489.6 L1090.3,488.0 L1092.2,486.4 L1094.0,484.9 L1095.7,483.4 L1097.2,482.1 L1098.6,480.9 L1099.8,479.9 L1100.8,479.0 L1099.2,477.0 L1098.1,477.9 L1096.9,478.8 L1095.4,480.0 L1093.8,481.3 L1092.1,482.6 L1090.3,484.1 L1088.4,485.6 L1086.4,487.1 L1084.5,488.6 L1082.6,490.0 L1080.8,491.3 L1079.0,492.6 L1077.2,493.8 L1075.3,495.0 L1073.4,496.1 L1071.6,497.2 L1069.7,498.3 L1067.8,499.4 L1066.0,500.4 L1064.2,501.4 L1062.4,502.4 L1060.7,503.4 L1058.8,504.4 L1056.9,505.5 L1054.9,506.6 L1053.0,507.6 L1051.2,508.6 L1049.5,509.5 L1047.7,510.4 L1045.9,511.3 L1044.0,512.1 L1042.0,512.9 L1039.9,513.8 L1037.8,514.5 L1035.7,515.2 L1033.6,515.9 L1031.6,516.4 L1029.6,516.8 L1027.6,517.2 L1025.6,517.5 L1023.6,517.7 L1021.7,517.8 L1019.7,517.9 L1017.9,517.9 L1016.0,517.8 L1013.9,517.7 L1011.9,517.4 L1009.9,517.1 L1007.9,516.6 L1005.9,516.0 L1004.0,515.4 L1002.2,514.8 L1000.4,514.1 L998.5,513.4 L996.6,512.7 L994.7,511.9 L992.8,511.0 L990.9,510.1 L989.1,509.2 L987.2,508.2 L985.4,507.2 L983.5,506.1 L981.7,505.0 L979.9,503.9 L978.0,502.7 L976.2,501.4 L974.5,500.2 L972.9,498.9 L971.2,497.6 L969.6,496.3 L967.9,494.9 L966.3,493.4 L964.6,491.9 L963.0,490.4 L961.4,488.8 L959.9,487.3 L958.5,485.8 L957.1,484.2 L955.7,482.6 L954.2,480.9 L952.8,479.2 L951.4,477.5 L950.1,475.8 L948.7,474.2 L947.4,472.6 L946.0,470.9 L944.5,469.0 L942.8,467.0 L941.2,465.1 L939.6,463.2 L938.2,461.4 L936.9,459.9 L935.8,458.5 L934.8,457.4 Z" fill="#6b6b6b" stroke="none" stroke-width="0" stroke-linecap="round" stroke-linejoin="round" />
<path d="M1100.0,479.0 C1102.0,473.5 1107.3,461.2 1112.0,446.0 C1116.7,430.8 1125.3,397.7 1128.0,388.0" fill="none" stroke="#6b6b6b" stroke-width="2" stroke-linecap="round" stroke-linejoin="round" />
<path d="M933.3,458.0 L933.3,459.2 L933.4,460.6 L933.4,462.3 L933.5,464.1 L933.6,466.1 L933.7,468.3 L933.8,470.5 L933.9,472.9 L934.0,475.2 L934.1,477.6 L934.1,479.9 L934.1,481.8 L934.2,483.7 L934.2,485.6 L934.3,487.6 L934.4,489.7 L934.4,491.7 L934.5,493.8 L934.5,496.0 L934.5,498.1 L934.5,500.1 L934.5,502.2 L934.4,504.2 L934.3,506.2 L934.1,508.0 L933.9,509.9 L933.5,512.1 L933.1,514.2 L932.7,516.4 L932.2,518.5 L931.6,520.6 L931.0,522.6 L930.4,524.6 L929.7,526.5 L929.0,528.3 L928.2,530.1 L927.4,531.7 L926.6,533.4 L925.6,535.2 L924.4,536.8 L923.2,538.4 L922.0,539.8 L920.6,541.1 L919.2,542.4 L917.8,543.8 L916.2,545.2 L914.7,546.6 L913.2,548.1 L911.6,549.6 L910.0,551.1 L908.2,552.6 L906.5,554.1 L904.8,555.6 L903.1,557.0 L901.6,558.3 L900.1,559.6 L898.6,560.9 L896.5,562.9 L894.6,564.7 L893.2,566.0 L892.2,567.0 L893.8,569.0 L895.0,568.1 L896.6,566.9 L898.6,565.3 L900.9,563.5 L902.4,562.2 L903.9,561.1 L905.4,559.7 L907.1,558.3 L908.9,556.9 L910.7,555.4 L912.4,553.8 L914.2,552.3 L915.8,550.8 L917.3,549.4 L918.8,547.9 L920.3,546.4 L921.7,545.0 L923.1,543.5 L924.5,542.0 L925.8,540.4 L927.0,538.7 L928.2,536.8 L929.3,534.8 L930.1,533.0 L930.9,531.2 L931.6,529.3 L932.2,527.4 L932.9,525.4 L933.5,523.4 L934.0,521.3 L934.6,519.1 L935.0,516.9 L935.4,514.7 L935.8,512.4 L936.1,510.2 L936.3,508.2 L936.4,506.3 L936.5,504.3 L936.6,502.2 L936.6,500.1 L936.6,498.0 L936.5,495.9 L936.5,493.8 L936.4,491.7 L936.3,489.6 L936.2,487.6 L936.1,485.6 L936.0,483.6 L936.0,481.8 L935.9,479.9 L935.8,477.6 L935.7,475.2 L935.6,472.8 L935.5,470.5 L935.4,468.2 L935.3,466.0 L935.1,464.0 L935.0,462.2 L934.9,460.6 L934.8,459.1 L934.7,458.0 Z" fill="#6b6b6b" stroke="none" stroke-width="0" stroke-linecap="round" stroke-linejoin="round" />
<path d="M1099.3,477.9 L1099.1,479.2 L1099.0,480.7 L1098.8,482.6 L1098.5,484.6 L1098.3,486.8 L1098.1,489.2 L1097.8,491.5 L1097.6,493.8 L1097.4,496.0 L1097.2,498.1 L1097.1,500.0 L1096.9,502.2 L1096.8,504.2 L1096.7,506.0 L1096.6,507.9 L1096.6,509.9 L1096.7,512.2 L1096.9,514.9 L1097.0,516.8 L1097.1,518.6 L1097.3,520.6 L1097.5,522.7 L1097.6,524.9 L1097.8,527.2 L1098.0,529.5 L1098.3,531.9 L1098.5,534.2 L1098.8,536.5 L1099.1,538.7 L1099.4,540.9 L1099.7,542.9 L1100.1,544.7 L1100.5,546.6 L1101.3,549.1 L1102.3,551.5 L1103.3,553.6 L1104.4,555.4 L1105.5,557.0 L1106.6,558.4 L1107.5,559.8 L1108.5,561.2 L1109.9,563.1 L1111.4,565.0 L1112.8,566.6 L1113.9,567.9 L1114.8,568.9 L1117.2,567.1 L1116.4,566.0 L1115.4,564.6 L1114.2,562.9 L1112.9,561.0 L1111.6,559.0 L1110.6,557.6 L1109.5,556.2 L1108.4,554.8 L1107.3,553.4 L1106.3,551.9 L1105.3,550.1 L1104.4,548.0 L1103.6,545.7 L1103.1,544.0 L1102.7,542.3 L1102.4,540.4 L1102.0,538.3 L1101.6,536.1 L1101.3,533.9 L1101.0,531.6 L1100.7,529.2 L1100.4,526.9 L1100.2,524.7 L1099.9,522.5 L1099.7,520.4 L1099.5,518.4 L1099.3,516.6 L1099.1,514.7 L1098.9,512.1 L1098.7,509.8 L1098.6,507.9 L1098.6,506.1 L1098.7,504.3 L1098.8,502.4 L1098.9,500.1 L1099.0,498.2 L1099.1,496.2 L1099.3,494.0 L1099.5,491.7 L1099.7,489.3 L1099.9,487.0 L1100.1,484.8 L1100.3,482.7 L1100.5,480.9 L1100.6,479.3 L1100.7,478.1 Z" fill="#6b6b6b" stroke="none" stroke-width="0" stroke-linecap="round" stroke-linejoin="round" />
<path d="M980.0,538.0 C983.3,554.0 996.7,618.0 1000.0,634.0" fill="none" stroke="#707070" stroke-width="1.5" stroke-linecap="round" stroke-linejoin="round" />
<path d="M1066.0,530.0 C1059.5,549.7 1033.5,628.3 1027.0,648.0" fill="none" stroke="#707070" stroke-width="1.5" stroke-linecap="round" stroke-linejoin="round" />
<path d="M945.0,648.5 L946.5,648.4 L948.2,648.2 L950.1,648.1 L952.2,647.9 L954.4,647.7 L956.8,647.5 L959.2,647.4 L961.6,647.2 L963.9,647.0 L966.1,646.9 L968.2,646.8 L970.4,646.8 L972.6,646.8 L974.7,646.8 L976.8,647.0 L978.7,647.1 L980.4,647.4 L982.0,647.8 L983.7,648.3 L985.3,649.0 L986.9,650.0 L988.3,651.1 L989.4,652.6 L990.5,654.4 L991.4,656.3 L992.1,658.3 L992.7,660.3 L994.7,659.7 L994.3,657.7 L993.7,655.5 L993.0,653.2 L992.0,651.0 L990.6,649.1 L988.9,647.4 L987.0,646.1 L985.0,645.1 L983.0,644.4 L981.1,643.9 L979.1,643.7 L977.1,643.5 L974.9,643.3 L972.6,643.3 L970.3,643.3 L968.1,643.4 L965.9,643.5 L963.7,643.7 L961.3,643.9 L958.9,644.1 L956.5,644.3 L954.1,644.5 L951.9,644.8 L949.8,645.0 L947.9,645.2 L946.3,645.3 L944.8,645.5 Z" fill="#6b6b6b" stroke="none" stroke-width="0" stroke-linecap="round" stroke-linejoin="round" />
<path d="M1031.5,658.8 L1032.4,657.3 L1033.3,655.8 L1034.4,654.0 L1035.7,652.3 L1037.0,650.6 L1038.5,649.1 L1040.0,647.9 L1041.5,646.9 L1043.1,646.1 L1044.9,645.6 L1046.8,645.2 L1049.1,644.9 L1051.5,644.8 L1053.8,644.8 L1056.0,644.9 L1057.9,645.0 L1059.9,645.2 L1062.0,645.4 L1064.2,645.7 L1066.5,646.0 L1068.9,646.4 L1071.3,646.7 L1073.6,647.1 L1075.9,647.5 L1078.2,647.8 L1080.3,648.2 L1082.3,648.5 L1084.2,648.8 L1085.8,649.1 L1087.3,649.3 L1088.7,649.5 L1089.1,646.5 L1087.8,646.3 L1086.3,646.0 L1084.7,645.7 L1082.9,645.4 L1080.9,645.1 L1078.7,644.7 L1076.5,644.3 L1074.1,643.9 L1071.8,643.5 L1069.4,643.1 L1067.0,642.7 L1064.7,642.4 L1062.5,642.1 L1060.3,641.8 L1058.2,641.6 L1056.1,641.4 L1053.8,641.3 L1051.3,641.4 L1048.7,641.6 L1046.3,641.9 L1044.0,642.5 L1041.9,643.2 L1040.0,644.2 L1038.2,645.5 L1036.5,647.0 L1034.9,648.8 L1033.6,650.8 L1032.4,652.8 L1031.4,654.6 L1030.5,656.3 L1029.7,657.8 Z" fill="#6b6b6b" stroke="none" stroke-width="0" stroke-linecap="round" stroke-linejoin="round" />
<path d="M776.3,937.0 L776.2,939.3 L776.2,942.3 L776.1,945.7 L776.0,949.5 L775.9,953.7 L775.8,958.1 L775.7,962.8 L775.5,967.7 L775.3,972.6 L775.1,977.5 L774.9,981.7 L774.7,985.4 L774.5,989.2 L774.3,993.2 L774.1,997.2 L773.9,1001.4 L773.7,1005.6 L773.4,1009.9 L773.2,1014.2 L772.9,1018.4 L772.6,1022.6 L772.3,1026.7 L772.0,1030.7 L771.6,1034.5 L771.2,1038.2 L770.7,1042.3 L770.0,1046.9 L769.2,1051.3 L768.2,1055.5 L767.3,1059.5 L766.3,1063.5 L765.4,1067.4 L764.6,1071.2 L763.8,1075.0 L763.2,1078.8 L762.7,1082.7 L762.5,1086.7 L762.5,1090.4 L762.7,1093.7 L763.1,1096.8 L763.5,1099.9 L764.0,1103.2 L764.6,1106.9 L765.1,1111.2 L765.6,1116.2 L765.9,1122.3 L766.0,1127.1 L766.1,1130.2 L766.1,1133.4 L766.2,1136.8 L766.2,1140.3 L766.3,1144.0 L766.3,1147.8 L766.3,1151.8 L766.3,1155.8 L766.3,1160.0 L766.3,1164.2 L766.3,1168.5 L766.3,1172.9 L766.3,1177.3 L766.3,1181.7 L766.3,1186.1 L766.3,1190.6 L766.3,1195.0 L766.2,1199.4 L766.2,1203.8 L766.2,1208.1 L766.1,1212.4 L766.1,1216.5 L766.1,1220.6 L766.0,1224.6 L766.0,1228.5 L766.0,1232.8 L765.9,1237.1 L765.8,1241.4 L765.8,1245.6 L765.7,1249.8 L765.6,1254.0 L765.5,1258.2 L765.4,1262.3 L765.3,1266.5 L765.2,1270.6 L765.1,1274.7 L765.0,1278.7 L764.9,1282.8 L764.8,1286.8 L764.7,1290.8 L764.6,1294.7 L764.5,1298.7 L764.4,1302.6 L764.3,1306.5 L764.2,1310.4 L764.1,1314.3 L764.0,1318.1 L764.0,1322.2 L763.9,1326.6 L763.8,1331.1 L763.7,1335.7 L763.6,1340.3 L763.5,1345.0 L763.5,1349.7 L763.4,1354.4 L763.3,1359.0 L763.2,1363.5 L763.1,1367.9 L763.1,1372.2 L763.0,1376.4 L762.9,1380.3 L762.9,1384.1 L762.8,1387.6 L762.8,1390.9 L762.7,1393.9 L762.7,1396.6 L762.6,1399.0 L762.6,1400.0" fill="none" stroke="#707070" stroke-width="1.4" stroke-linecap="round" stroke-linejoin="round" />
<path d="M1215.0,954.3 L1216.0,956.7 L1217.1,959.6 L1218.5,962.9 L1220.0,966.7 L1221.6,970.8 L1223.3,975.3 L1225.0,980.0 L1226.5,984.9 L1227.8,989.5 L1228.8,993.2 L1229.7,996.5 L1230.6,999.8 L1231.4,1003.2 L1232.3,1006.7 L1233.1,1010.3 L1234.0,1014.0 L1234.8,1017.9 L1235.6,1021.8 L1236.3,1026.0 L1237.0,1030.3 L1237.7,1034.8 L1238.3,1039.6 L1238.9,1044.3 L1239.3,1048.5 L1239.6,1052.0 L1239.9,1055.5 L1240.1,1059.0 L1240.2,1062.7 L1240.4,1066.4 L1240.5,1070.2 L1240.6,1074.0 L1240.6,1077.9 L1240.7,1081.9 L1240.8,1086.0 L1240.8,1090.1 L1240.9,1094.3 L1241.0,1098.5 L1241.0,1102.7 L1241.1,1107.0 L1241.3,1111.3 L1241.4,1115.7 L1241.6,1120.1 L1241.8,1124.5 L1242.1,1128.9 L1242.4,1133.3 L1242.7,1137.7 L1243.1,1141.7 L1243.4,1145.5 L1243.8,1149.1 L1244.1,1152.8 L1244.5,1156.5 L1244.9,1160.2 L1245.3,1163.9 L1245.8,1167.6 L1246.2,1171.3 L1246.7,1175.1 L1247.1,1178.8 L1247.6,1182.6 L1248.1,1186.5 L1248.6,1190.3 L1249.2,1194.2 L1249.7,1198.2 L1250.3,1202.2 L1250.8,1206.2 L1251.4,1210.2 L1252.0,1214.3 L1252.6,1218.5 L1253.3,1222.7 L1253.9,1227.0 L1254.6,1231.3 L1255.2,1235.7 L1255.9,1240.1 L1256.6,1244.6 L1257.3,1249.1 L1258.0,1253.2 L1258.6,1256.9 L1259.2,1260.7 L1259.8,1264.6 L1260.5,1268.6 L1261.2,1272.7 L1261.9,1276.9 L1262.6,1281.2 L1263.4,1285.6 L1264.1,1290.1 L1264.9,1294.6 L1265.7,1299.2 L1266.5,1303.8 L1267.3,1308.4 L1268.1,1313.0 L1269.0,1317.7 L1269.8,1322.3 L1270.6,1327.0 L1271.4,1331.6 L1272.2,1336.1 L1273.0,1340.6 L1273.8,1345.1 L1274.6,1349.5 L1275.4,1353.8 L1276.2,1358.0 L1276.9,1362.1 L1277.6,1366.2 L1278.3,1370.0 L1279.0,1373.8 L1279.7,1377.4 L1280.3,1380.9 L1280.9,1384.2 L1281.4,1387.3 L1282.0,1390.2 L1282.5,1393.0 L1282.9,1395.5 L1283.3,1397.8 L1283.7,1400.0 L1283.7,1400.0" fill="none" stroke="#707070" stroke-width="1.5" stroke-linecap="round" stroke-linejoin="round" />
<path d="M1323.5,911.0 L1323.8,913.5 L1324.2,916.5 L1324.7,919.9 L1325.2,923.8 L1325.8,928.0 L1326.4,932.4 L1327.0,937.1 L1327.7,941.8 L1328.3,946.5 L1328.9,951.2 L1329.5,955.7 L1330.0,959.9 L1330.5,964.0 L1330.9,968.0 L1331.3,972.0 L1331.8,976.1 L1332.2,980.2 L1332.6,984.2 L1333.0,988.3 L1333.4,992.3 L1333.9,996.3 L1334.4,1000.3 L1334.9,1004.2 L1335.4,1008.1 L1336.1,1012.2 L1336.8,1016.3 L1337.5,1020.5 L1338.3,1024.6 L1339.1,1028.6 L1339.9,1032.6 L1340.8,1036.6 L1341.7,1040.6 L1342.6,1044.7 L1343.5,1048.8 L1344.5,1052.9 L1345.5,1056.8 L1346.5,1060.5 L1347.6,1064.0 L1348.7,1067.4 L1349.9,1070.8 L1351.0,1074.2 L1352.2,1077.8 L1353.4,1081.6 L1354.5,1085.6 L1355.6,1090.1 L1356.6,1094.9 L1357.5,1099.9 L1358.2,1104.2 L1358.7,1107.7 L1359.1,1111.1 L1359.6,1114.6 L1360.0,1118.3 L1360.4,1122.0 L1360.8,1125.9 L1361.3,1129.9 L1361.7,1134.0 L1362.1,1138.1 L1362.4,1142.3 L1362.8,1146.6 L1363.1,1150.9 L1363.5,1155.2 L1363.8,1159.5 L1364.1,1163.9 L1364.4,1168.3 L1364.6,1172.6 L1364.8,1176.9 L1365.0,1181.2 L1365.2,1185.5 L1365.3,1189.6 L1365.4,1193.8 L1365.5,1197.8 L1365.6,1201.8 L1365.6,1205.8 L1365.5,1209.7 L1365.5,1213.7 L1365.4,1217.6 L1365.2,1221.5 L1365.1,1225.4 L1364.9,1229.3 L1364.7,1233.2 L1364.5,1237.1 L1364.3,1241.0 L1364.1,1245.0 L1363.8,1249.0 L1363.6,1253.0 L1363.3,1257.0 L1363.1,1261.0 L1362.8,1265.1 L1362.6,1269.3 L1362.4,1273.5 L1362.2,1277.7 L1362.0,1282.0 L1361.8,1286.3 L1361.6,1290.5 L1361.5,1294.4 L1361.3,1298.5 L1361.2,1302.7 L1361.0,1307.0 L1360.9,1311.5 L1360.7,1316.0 L1360.6,1320.7 L1360.4,1325.3 L1360.3,1330.1 L1360.1,1334.8 L1360.0,1339.5 L1359.8,1344.2 L1359.7,1348.9 L1359.5,1353.5 L1359.4,1358.1 L1359.2,1362.5 L1359.1,1366.9 L1358.9,1371.1 L1358.8,1375.1 L1358.7,1379.0 L1358.6,1382.7 L1358.4,1386.2 L1358.3,1389.5 L1358.2,1392.5 L1358.2,1395.3 L1358.1,1397.7 L1358.0,1400.0 L1358.0,1400.0" fill="none" stroke="#707070" stroke-width="1.5" stroke-linecap="round" stroke-linejoin="round" />
<path d="M239.3,547.0 L240.9,549.0 L242.6,551.1 L244.3,553.3 L246.1,555.5 L248.0,557.9 L250.0,560.3 L252.1,562.8 L254.3,565.3 L256.4,567.8 L258.7,570.2 L261.0,572.6 L263.3,574.9 L265.6,577.1 L268.0,579.2 L270.5,581.2 L272.9,583.1 L275.4,584.9 L277.9,586.7 L280.5,588.3 L283.1,589.9 L285.7,591.3 L288.4,592.7 L291.1,594.1 L293.8,595.3 L296.6,596.5 L299.4,597.5 L302.3,598.5 L305.1,599.4 L308.0,600.2 L311.0,600.9 L313.9,601.5 L316.9,602.0 L319.9,602.5 L322.8,602.8 L325.8,603.1 L328.8,603.2 L331.9,603.3 L334.9,603.2 L337.9,603.0 L340.8,602.7 L343.8,602.3 L346.8,601.7 L349.7,601.1 L352.6,600.4 L355.5,599.5 L358.4,598.6 L361.3,597.6 L364.1,596.5 L366.9,595.3 L369.6,594.0 L372.4,592.7 L375.1,591.3 L377.7,589.8 L380.3,588.2 L382.9,586.6 L385.4,584.8 L387.8,583.0 L390.2,581.1 L392.5,579.1 L394.8,577.0 L396.9,574.8 L399.0,572.6 L400.9,570.2 L402.7,567.8 L404.4,565.2 L405.9,562.6 L407.3,559.9 L408.4,557.0 L409.4,554.2 L410.2,551.3 L410.9,548.4 L411.5,545.5 L412.0,542.7 L412.4,539.9 L412.5,539.0" fill="none" stroke="#1e1e1e" stroke-width="3.8" stroke-linecap="round" stroke-linejoin="round" />
<path d="M239.3,549.4 L240.3,551.9 L241.3,554.5 L242.4,557.1 L243.5,559.9 L244.6,562.7 L245.8,565.6 L247.1,568.5 L248.4,571.5 L249.7,574.4 L251.1,577.3 L252.5,580.0 L253.9,582.8 L255.4,585.4 L256.9,588.0 L258.5,590.5 L260.2,593.0 L261.9,595.4 L263.8,597.8 L265.7,600.1 L267.7,602.4 L269.8,604.7 L271.9,607.0 L274.1,609.2 L276.3,611.4 L278.6,613.6 L281.0,615.8 L283.3,617.9 L285.7,619.9 L288.2,621.9 L290.6,623.8 L293.1,625.7 L295.7,627.4 L298.3,629.0 L301.0,630.6 L303.7,632.0 L306.4,633.3 L309.1,634.5 L311.9,635.5 L314.6,636.4 L317.4,637.2 L320.3,637.9 L323.1,638.4 L326.0,638.8 L328.9,639.1 L331.8,639.2 L334.7,639.2 L337.7,639.1 L340.6,638.8 L343.6,638.4 L346.5,637.8 L349.4,637.2 L352.3,636.4 L355.2,635.5 L358.1,634.4 L360.9,633.2 L363.6,631.9 L366.3,630.4 L368.8,628.8 L371.3,627.1 L373.7,625.3 L376.0,623.3 L378.3,621.2 L380.5,619.1 L382.6,616.9 L384.7,614.6 L386.7,612.3 L388.7,610.0 L390.7,607.6 L392.6,605.1 L394.4,602.7 L396.2,600.2 L397.9,597.6 L399.6,595.0 L401.1,592.4 L402.6,589.8 L404.0,587.1 L405.3,584.4 L406.5,581.6 L407.5,578.7 L408.5,575.8 L409.4,572.8 L410.1,569.8 L410.8,566.8 L411.3,563.7 L411.8,560.6 L412.1,557.5 L412.4,554.5 L412.6,551.5 L412.8,548.5 L412.9,545.6 L412.9,542.8 L413.0,540.0 L413.0,540.0" fill="none" stroke="#1e1e1e" stroke-width="3.8" stroke-linecap="round" stroke-linejoin="round" />
<path d="M235.6,555.5 L236.2,558.2 L236.7,560.9 L237.3,563.8 L238.0,566.6 L238.7,569.6 L239.4,572.6 L240.2,575.6 L241.1,578.6 L242.0,581.5 L242.9,584.4 L244.0,587.3 L245.1,590.1 L246.2,592.9 L247.4,595.6 L248.7,598.3 L249.9,601.0 L251.2,603.6 L252.5,606.2 L253.8,608.8 L255.2,611.4 L256.6,614.1 L258.1,616.8 L259.6,619.5 L261.2,622.2 L262.8,624.9 L264.4,627.6 L266.0,630.3 L267.7,632.9 L269.4,635.6 L271.1,638.2 L272.9,640.9 L274.6,643.6 L276.4,646.2 L278.2,648.9 L280.1,651.5 L281.9,654.1 L283.8,656.6 L285.7,659.1 L287.7,661.5 L289.6,663.9 L291.7,666.1 L293.9,668.3 L296.1,670.4 L298.4,672.4 L300.9,674.3 L303.4,676.1 L306.0,677.7 L308.6,679.3 L311.2,680.7 L313.9,682.0 L316.7,683.2 L319.4,684.3 L322.2,685.3 L325.1,686.2 L328.0,687.0 L330.9,687.6 L333.8,688.0 L336.7,688.2 L339.6,688.3 L342.6,688.0 L345.5,687.6 L348.4,687.0 L351.3,686.2 L354.2,685.2 L357.1,684.0 L359.8,682.7 L362.5,681.2 L365.1,679.5 L367.6,677.8 L370.0,675.9 L372.2,673.9 L374.4,671.8 L376.5,669.6 L378.5,667.3 L380.4,664.9 L382.3,662.5 L384.2,660.0 L386.0,657.5 L387.8,655.0 L389.5,652.4 L391.2,649.8 L392.9,647.2 L394.5,644.6 L396.0,642.0 L397.5,639.4 L399.0,636.7 L400.4,634.0 L401.8,631.3 L403.1,628.6 L404.3,625.8 L405.5,623.0 L406.6,620.2 L407.6,617.3 L408.6,614.3 L409.5,611.4 L410.4,608.3 L411.1,605.2 L411.8,602.1 L412.5,599.0 L413.1,595.9 L413.7,592.8 L414.2,589.8 L414.7,586.7 L415.2,583.7 L415.6,580.7 L416.1,577.6 L416.4,574.6 L416.8,571.6 L417.0,568.6 L417.2,565.6 L417.2,562.5 L417.2,559.5 L417.0,556.5 L416.8,553.5 L416.4,550.6 L416.1,547.6 L415.6,544.8 L415.2,541.9 L415.0,541.0" fill="none" stroke="#1e1e1e" stroke-width="3.8" stroke-linecap="round" stroke-linejoin="round" />
<path d="M230.7,568.0 L231.7,570.4 L232.6,572.8 L233.7,575.4 L234.7,578.0 L235.8,580.8 L236.9,583.7 L238.0,586.7 L239.1,589.8 L240.2,592.8 L241.2,595.9 L242.2,599.1 L243.1,602.2 L243.9,605.3 L244.7,608.4 L245.4,611.4 L246.1,614.5 L246.7,617.5 L247.4,620.4 L248.0,623.4 L248.7,626.2 L249.3,629.1 L250.0,631.9 L250.8,634.6 L251.6,637.4 L252.4,640.2 L253.3,643.0 L254.3,645.7 L255.2,648.5 L256.2,651.3 L257.2,654.0 L258.1,656.7 L259.1,659.4 L260.1,662.1 L261.1,664.8 L262.2,667.6 L263.2,670.4 L264.3,673.3 L265.5,676.3 L266.7,679.3 L267.9,682.3 L269.2,685.3 L270.5,688.4 L271.9,691.4 L273.2,694.4 L274.6,697.3 L276.0,700.2 L277.4,703.0 L278.8,705.8 L280.3,708.6 L281.7,711.4 L283.2,714.1 L284.7,716.9 L286.3,719.7 L287.9,722.5 L289.4,725.3 L291.1,728.2 L292.7,731.0 L294.3,733.8 L295.9,736.5 L297.6,739.2 L299.2,741.9 L300.8,744.5 L302.4,747.0 L304.0,749.6 L305.6,752.1 L307.2,754.5 L308.9,757.0 L310.7,759.5 L312.5,762.0 L314.4,764.5 L316.4,767.0 L318.4,769.5 L320.5,771.8 L322.5,774.0 L324.6,776.1 L326.8,778.0 L328.9,779.9 L331.2,781.6 L333.5,783.3 L335.9,784.8 L338.5,786.3 L341.1,787.7 L343.8,789.0 L346.6,790.1 L349.4,791.1 L352.3,792.0 L355.2,792.6 L358.1,793.1 L361.1,793.4 L364.0,793.6 L366.9,793.5 L369.8,793.2 L372.6,792.7 L375.5,791.9 L378.2,791.0 L380.9,789.8 L383.5,788.4 L386.0,786.8 L388.4,785.0 L390.5,783.1 L392.6,781.1 L394.6,779.0 L396.4,776.8 L398.2,774.4 L399.9,772.0 L401.6,769.6 L403.3,767.0 L404.9,764.3 L406.5,761.6 L408.1,758.8 L409.6,755.9 L411.0,753.0 L412.4,750.1 L413.7,747.1 L414.9,744.2 L416.1,741.3 L417.1,738.3 L418.1,735.4 L419.0,732.4 L419.8,729.5 L420.6,726.5 L421.3,723.4 L422.0,720.4 L422.6,717.3 L423.2,714.2 L423.7,711.1 L424.2,708.0 L424.7,704.8 L425.1,701.7 L425.5,698.6 L425.9,695.6 L426.2,692.5 L426.5,689.5 L426.8,686.5 L427.0,683.4 L427.2,680.4 L427.4,677.3 L427.5,674.2 L427.6,671.2 L427.6,668.1 L427.5,665.0 L427.4,662.0 L427.3,659.0 L427.1,656.0 L426.9,653.0 L426.7,650.0 L426.5,647.1 L426.2,644.1 L426.0,641.1 L425.8,638.1 L425.5,635.1 L425.3,632.1 L425.0,629.0 L424.8,625.9 L424.5,622.7 L424.3,619.6 L424.0,616.4 L423.8,613.3 L423.5,610.2 L423.3,607.1 L423.0,604.0 L422.8,601.0 L422.5,597.9 L422.3,594.9 L422.1,591.9 L421.8,588.8 L421.6,585.7 L421.4,582.6 L421.2,579.5 L421.0,576.3 L420.7,573.3 L420.5,570.2 L420.2,567.1 L419.9,564.1 L419.5,561.1 L419.1,558.1 L418.6,555.2 L418.1,552.2 L417.6,549.4 L417.0,546.6 L416.4,543.8 L416.0,542.0" fill="none" stroke="#1e1e1e" stroke-width="3.8" stroke-linecap="round" stroke-linejoin="round" />
<path d="M226.4,576.0 L227.4,578.5 L228.5,581.1 L229.6,583.8 L230.6,586.6 L231.7,589.5 L232.8,592.4 L233.8,595.5 L234.7,598.6 L235.6,601.7 L236.4,604.8 L237.2,607.9 L237.8,611.0 L238.5,614.1 L239.1,617.2 L239.7,620.2 L240.2,623.1 L240.8,626.1 L241.4,628.9 L242.0,631.8 L242.7,634.6 L243.3,637.4 L244.0,640.2 L244.6,643.0 L245.3,645.8 L245.9,648.6 L246.6,651.4 L247.2,654.2 L247.7,657.0 L248.3,659.8 L248.9,662.6 L249.4,665.5 L250.0,668.4 L250.6,671.4 L251.2,674.4 L251.8,677.5 L252.5,680.6 L253.2,683.7 L253.9,686.9 L254.7,690.0 L255.5,693.2 L256.3,696.2 L257.1,699.3 L257.9,702.2 L258.7,705.1 L259.6,708.0 L260.4,710.9 L261.3,713.7 L262.2,716.5 L263.2,719.4 L264.1,722.2 L265.1,725.1 L266.1,728.0 L267.1,730.9 L268.1,733.8 L269.1,736.7 L270.2,739.6 L271.3,742.5 L272.4,745.5 L273.5,748.4 L274.7,751.3 L275.8,754.2 L277.0,757.0 L278.2,759.9 L279.4,762.8 L280.6,765.7 L281.8,768.6 L283.1,771.5 L284.3,774.4 L285.6,777.4 L286.9,780.3 L288.3,783.2 L289.6,786.2 L291.0,789.1 L292.3,792.0 L293.7,794.8 L295.1,797.6 L296.5,800.4 L297.9,803.1 L299.3,805.7 L300.7,808.3 L302.1,810.8 L303.6,813.3 L305.2,815.8 L306.8,818.3 L308.5,820.7 L310.4,823.1 L312.3,825.5 L314.3,827.8 L316.3,830.1 L318.4,832.2 L320.6,834.2 L322.8,836.1 L325.0,837.9 L327.3,839.7 L329.6,841.4 L332.0,843.1 L334.4,844.8 L336.9,846.5 L339.4,848.2 L342.0,849.9 L344.6,851.5 L347.2,853.2 L349.9,854.7 L352.7,856.2 L355.4,857.6 L358.2,858.8 L361.0,859.8 L363.9,860.6 L366.7,861.2 L369.6,861.6 L372.4,861.8 L375.3,861.8 L378.2,861.5 L381.1,861.1 L384.0,860.4 L386.9,859.6 L389.7,858.6 L392.6,857.4 L395.3,856.0 L398.0,854.5 L400.6,852.9 L403.0,851.1 L405.3,849.2 L407.5,847.2 L409.5,845.1 L411.4,842.9 L413.2,840.6 L414.9,838.2 L416.5,835.7 L418.0,833.2 L419.5,830.5 L420.9,827.8 L422.3,825.0 L423.6,822.1 L424.9,819.2 L426.1,816.3 L427.3,813.3 L428.4,810.3 L429.4,807.3 L430.4,804.3 L431.3,801.3 L432.1,798.4 L432.9,795.5 L433.6,792.5 L434.2,789.6 L434.8,786.7 L435.3,783.7 L435.8,780.7 L436.3,777.7 L436.7,774.7 L437.1,771.7 L437.4,768.6 L437.7,765.6 L438.0,762.5 L438.2,759.4 L438.5,756.3 L438.7,753.3 L438.9,750.2 L439.1,747.2 L439.2,744.1 L439.4,741.1 L439.5,738.1 L439.6,735.1 L439.7,732.1 L439.7,729.1 L439.7,726.1 L439.8,723.1 L439.7,720.2 L439.7,717.2 L439.7,714.2 L439.6,711.2 L439.5,708.3 L439.4,705.3 L439.3,702.3 L439.1,699.3 L439.0,696.3 L438.8,693.2 L438.6,690.2 L438.4,687.2 L438.2,684.2 L438.0,681.1 L437.8,678.1 L437.5,675.1 L437.3,672.1 L437.0,669.0 L436.7,666.0 L436.4,662.9 L436.1,659.9 L435.8,656.8 L435.4,653.7 L435.1,650.7 L434.7,647.6 L434.4,644.5 L434.0,641.5 L433.6,638.4 L433.3,635.4 L432.9,632.4 L432.6,629.4 L432.2,626.3 L431.9,623.3 L431.6,620.3 L431.2,617.2 L430.9,614.0 L430.6,610.9 L430.3,607.6 L430.0,604.4 L429.6,601.1 L429.3,597.8 L429.1,594.5 L428.8,591.2 L428.5,587.9 L428.2,584.7 L427.9,581.6 L427.6,578.6 L427.2,575.6 L426.9,572.6 L426.5,569.7 L426.0,566.9 L425.5,564.0 L424.9,561.1 L424.1,558.3 L423.3,555.5 L422.3,552.7 L421.3,550.1 L420.2,547.6 L419.1,545.3 L418.0,543.0 L418.0,543.0" fill="none" stroke="#1e1e1e" stroke-width="3.8" stroke-linecap="round" stroke-linejoin="round" />
<path d="M222.5,580.0 L223.4,582.6 L224.3,585.2 L225.2,587.8 L226.1,590.6 L227.0,593.5 L227.8,596.5 L228.6,599.5 L229.3,602.6 L229.9,605.7 L230.5,608.8 L231.0,611.9 L231.5,614.9 L232.0,618.0 L232.4,621.0 L232.9,624.0 L233.4,627.0 L233.9,629.8 L234.5,632.7 L235.1,635.5 L235.7,638.3 L236.4,641.1 L237.0,644.0 L237.7,646.8 L238.3,649.7 L239.0,652.5 L239.6,655.3 L240.1,658.2 L240.7,661.0 L241.3,663.9 L241.8,666.8 L242.4,669.8 L243.0,672.9 L243.6,676.0 L244.2,679.2 L244.9,682.4 L245.5,685.6 L246.2,688.8 L246.9,692.0 L247.6,695.1 L248.3,698.2 L249.0,701.2 L249.7,704.2 L250.5,707.2 L251.2,710.1 L252.0,713.0 L252.7,715.8 L253.5,718.7 L254.3,721.6 L255.1,724.5 L255.9,727.5 L256.8,730.4 L257.6,733.4 L258.5,736.3 L259.3,739.3 L260.2,742.3 L261.0,745.2 L261.9,748.2 L262.7,751.1 L263.6,754.1 L264.4,757.0 L265.2,760.0 L266.1,762.9 L266.9,765.8 L267.7,768.7 L268.5,771.6 L269.3,774.5 L270.1,777.4 L270.9,780.3 L271.7,783.2 L272.5,786.1 L273.3,789.0 L274.2,791.9 L275.0,794.8 L275.9,797.7 L276.8,800.6 L277.7,803.5 L278.7,806.4 L279.6,809.3 L280.7,812.2 L281.7,815.1 L282.8,817.9 L283.9,820.8 L285.1,823.6 L286.2,826.4 L287.5,829.3 L288.7,832.1 L290.0,834.9 L291.3,837.8 L292.6,840.6 L294.0,843.4 L295.4,846.3 L296.7,849.1 L298.1,851.9 L299.6,854.7 L301.0,857.4 L302.4,860.1 L303.8,862.8 L305.2,865.4 L306.7,868.0 L308.1,870.6 L309.5,873.1 L311.0,875.7 L312.5,878.3 L314.1,880.9 L315.7,883.5 L317.4,886.2 L319.1,888.9 L320.8,891.5 L322.5,894.1 L324.3,896.6 L326.1,899.0 L327.9,901.4 L329.7,903.7 L331.6,905.9 L333.6,908.0 L335.6,910.2 L337.7,912.2 L339.8,914.3 L342.1,916.3 L344.4,918.2 L346.8,920.2 L349.3,922.1 L351.8,923.9 L354.4,925.7 L357.0,927.3 L359.7,928.9 L362.4,930.3 L365.1,931.6 L367.8,932.8 L370.6,933.8 L373.4,934.6 L376.2,935.2 L379.1,935.6 L382.0,935.7 L384.9,935.7 L387.9,935.4 L390.8,935.0 L393.8,934.3 L396.7,933.4 L399.6,932.4 L402.4,931.2 L405.1,929.9 L407.7,928.4 L410.3,926.8 L412.7,925.0 L415.1,923.1 L417.4,921.1 L419.6,918.9 L421.7,916.7 L423.7,914.3 L425.7,911.9 L427.5,909.4 L429.2,906.9 L430.9,904.3 L432.4,901.6 L433.7,899.0 L435.0,896.3 L436.1,893.6 L437.2,890.9 L438.1,888.1 L438.9,885.2 L439.7,882.4 L440.4,879.4 L441.0,876.5 L441.6,873.5 L442.1,870.5 L442.6,867.6 L443.1,864.6 L443.6,861.6 L444.0,858.7 L444.4,855.8 L444.8,852.8 L445.1,849.8 L445.5,846.8 L445.8,843.8 L446.1,840.8 L446.3,837.7 L446.6,834.6 L446.8,831.5 L447.0,828.4 L447.1,825.3 L447.2,822.2 L447.3,819.1 L447.4,815.9 L447.4,812.8 L447.4,809.7 L447.4,806.5 L447.4,803.3 L447.3,800.2 L447.2,797.0 L447.1,793.9 L447.0,790.7 L446.8,787.7 L446.7,784.7 L446.6,781.7 L446.4,778.8 L446.3,776.0 L446.1,773.2 L446.0,770.4 L445.8,767.7 L445.6,765.0 L445.4,762.3 L445.2,759.6 L445.0,756.9 L444.8,754.1 L444.5,751.3 L444.3,748.4 L444.0,745.5 L443.8,742.6 L443.6,739.7 L443.4,736.9 L443.1,734.0 L442.9,731.1 L442.7,728.1 L442.5,725.1 L442.3,722.0 L442.0,718.8 L441.8,715.6 L441.6,712.3 L441.3,709.0 L441.1,705.7 L440.8,702.4 L440.6,699.1 L440.3,695.8 L440.1,692.5 L439.8,689.3 L439.6,686.2 L439.3,683.0 L439.1,679.9 L438.8,676.8 L438.6,673.8 L438.3,670.7 L438.0,667.6 L437.7,664.5 L437.4,661.4 L437.1,658.3 L436.7,655.3 L436.4,652.3 L436.1,649.3 L435.8,646.4 L435.5,643.5 L435.1,640.6 L434.8,637.7 L434.5,634.9 L434.2,632.0 L433.9,629.0 L433.6,626.1 L433.4,623.1 L433.1,620.0 L432.9,617.0 L432.7,613.9 L432.4,610.7 L432.2,607.5 L432.1,604.3 L431.9,601.0 L431.7,597.8 L431.5,594.5 L431.4,591.2 L431.2,588.0 L431.0,584.8 L430.8,581.6 L430.6,578.5 L430.4,575.5 L430.1,572.6 L429.8,569.7 L429.3,566.8 L428.8,564.0 L428.1,561.2 L427.2,558.4 L426.2,555.7 L425.1,553.2 L423.8,550.8 L422.4,548.5 L421.0,546.4 L420.0,545.0" fill="none" stroke="#1e1e1e" stroke-width="3.8" stroke-linecap="round" stroke-linejoin="round" />
<path d="M221.4,581.0 L221.9,583.7 L222.4,586.5 L223.0,589.3 L223.5,592.2 L224.0,595.2 L224.5,598.3 L225.0,601.4 L225.5,604.5 L225.9,607.6 L226.4,610.8 L226.8,613.9 L227.2,616.9 L227.7,620.0 L228.1,623.0 L228.6,626.0 L229.1,628.9 L229.6,631.7 L230.2,634.6 L230.7,637.4 L231.3,640.2 L231.9,643.0 L232.5,645.9 L233.1,648.7 L233.6,651.5 L234.2,654.4 L234.7,657.2 L235.2,660.1 L235.7,662.9 L236.2,665.8 L236.7,668.8 L237.2,671.9 L237.8,675.0 L238.3,678.1 L238.8,681.3 L239.4,684.5 L239.9,687.7 L240.5,690.9 L241.1,694.1 L241.6,697.2 L242.2,700.3 L242.8,703.3 L243.3,706.3 L243.9,709.3 L244.5,712.2 L245.1,715.1 L245.6,718.1 L246.2,721.0 L246.8,724.0 L247.4,727.0 L248.0,729.9 L248.6,732.9 L249.2,735.9 L249.8,739.0 L250.4,742.0 L251.1,745.0 L251.7,748.0 L252.3,751.0 L252.9,754.0 L253.5,757.0 L254.0,760.0 L254.6,762.9 L255.2,765.9 L255.7,768.8 L256.3,771.8 L256.8,774.8 L257.4,777.7 L257.9,780.7 L258.5,783.6 L259.0,786.6 L259.6,789.5 L260.1,792.5 L260.7,795.4 L261.3,798.4 L261.9,801.3 L262.5,804.3 L263.2,807.2 L263.8,810.1 L264.5,813.1 L265.2,816.0 L266.0,818.9 L266.8,821.8 L267.6,824.7 L268.4,827.6 L269.2,830.5 L270.1,833.3 L271.0,836.2 L271.9,839.0 L272.8,841.9 L273.8,844.8 L274.7,847.6 L275.7,850.5 L276.7,853.3 L277.7,856.2 L278.7,859.0 L279.7,861.9 L280.7,864.8 L281.7,867.6 L282.7,870.5 L283.7,873.4 L284.7,876.3 L285.7,879.2 L286.7,882.1 L287.7,885.1 L288.7,888.1 L289.8,891.1 L290.8,894.1 L291.8,897.2 L292.9,900.3 L293.9,903.3 L295.0,906.4 L296.0,909.5 L297.1,912.5 L298.1,915.4 L299.1,918.4 L300.1,921.3 L301.1,924.1 L302.1,926.8 L303.1,929.6 L304.2,932.3 L305.2,935.0 L306.3,937.7 L307.4,940.5 L308.6,943.2 L309.8,946.0 L311.0,948.7 L312.3,951.3 L313.6,953.9 L315.0,956.4 L316.4,958.8 L317.8,961.2 L319.3,963.6 L320.9,966.0 L322.6,968.4 L324.3,970.8 L326.1,973.2 L327.9,975.6 L329.8,978.0 L331.7,980.4 L333.7,982.7 L335.8,984.9 L337.9,987.1 L340.1,989.2 L342.4,991.2 L344.7,993.2 L347.2,995.0 L349.7,996.7 L352.3,998.3 L354.9,999.8 L357.6,1001.1 L360.4,1002.2 L363.2,1003.2 L366.0,1004.1 L368.9,1004.8 L371.9,1005.4 L374.9,1005.8 L377.9,1006.1 L381.0,1006.2 L384.0,1006.2 L387.1,1006.0 L390.2,1005.8 L393.3,1005.4 L396.4,1005.0 L399.5,1004.5 L402.5,1003.9 L405.5,1003.3 L408.4,1002.6 L411.2,1001.8 L414.0,1000.8 L416.7,999.8 L419.2,998.6 L421.7,997.1 L424.1,995.5 L426.3,993.7 L428.4,991.7 L430.4,989.6 L432.3,987.3 L434.0,984.9 L435.7,982.5 L437.3,980.0 L438.9,977.4 L440.4,974.7 L441.9,971.9 L443.4,969.1 L444.8,966.2 L446.2,963.3 L447.5,960.3 L448.8,957.3 L449.9,954.4 L451.0,951.4 L452.0,948.4 L452.9,945.5 L453.7,942.5 L454.4,939.6 L455.0,936.6 L455.6,933.6 L456.2,930.6 L456.7,927.6 L457.2,924.6 L457.6,921.5 L458.0,918.4 L458.4,915.4 L458.7,912.3 L459.0,909.2 L459.3,906.2 L459.6,903.1 L459.8,900.1 L460.1,897.0 L460.2,894.0 L460.4,891.0 L460.5,888.0 L460.6,885.0 L460.7,882.0 L460.7,879.0 L460.8,876.0 L460.8,873.0 L460.8,870.0 L460.7,867.0 L460.7,864.0 L460.7,861.0 L460.6,858.0 L460.6,855.0 L460.5,852.0 L460.5,848.9 L460.4,845.9 L460.3,842.8 L460.2,839.8 L460.1,836.7 L460.0,833.6 L459.9,830.6 L459.8,827.5 L459.7,824.5 L459.6,821.4 L459.4,818.4 L459.3,815.4 L459.2,812.4 L459.0,809.4 L458.8,806.5 L458.7,803.5 L458.5,800.5 L458.3,797.4 L458.1,794.4 L457.9,791.3 L457.6,788.3 L457.4,785.2 L457.2,782.2 L456.9,779.2 L456.6,776.2 L456.4,773.3 L456.1,770.4 L455.8,767.5 L455.4,764.7 L455.1,761.9 L454.7,759.1 L454.4,756.4 L453.9,753.7 L453.5,751.0 L453.1,748.2 L452.6,745.5 L452.2,742.7 L451.7,739.8 L451.2,736.8 L450.7,733.8 L450.2,730.7 L449.8,727.7 L449.4,724.8 L449.0,721.9 L448.6,719.0 L448.2,716.2 L447.8,713.3 L447.5,710.5 L447.1,707.6 L446.7,704.6 L446.3,701.6 L446.0,698.6 L445.6,695.4 L445.2,692.3 L444.8,689.1 L444.4,685.9 L444.0,682.7 L443.6,679.4 L443.2,676.2 L442.8,672.9 L442.4,669.7 L442.0,666.5 L441.6,663.3 L441.2,660.1 L440.8,657.0 L440.4,653.8 L440.0,650.7 L439.7,647.5 L439.3,644.4 L438.9,641.2 L438.5,638.0 L438.1,634.8 L437.7,631.5 L437.3,628.3 L436.9,625.0 L436.6,621.8 L436.2,618.5 L435.8,615.3 L435.4,612.1 L435.0,609.0 L434.6,605.9 L434.2,602.8 L433.9,599.8 L433.5,596.9 L433.1,594.0 L432.7,591.1 L432.3,588.3 L431.9,585.4 L431.4,582.5 L431.0,579.5 L430.4,576.3 L429.8,573.1 L429.2,569.9 L428.5,566.7 L427.9,563.7 L427.2,560.7 L426.6,558.0 L425.9,555.4 L425.3,553.1 L424.7,550.8 L424.2,548.7 L424.0,548.0" fill="none" stroke="#1e1e1e" stroke-width="3.8" stroke-linecap="round" stroke-linejoin="round" />
<path d="M221.0,582.0 L221.3,584.7 L221.6,587.5 L221.9,590.3 L222.2,593.2 L222.6,596.2 L222.9,599.3 L223.2,602.4 L223.5,605.5 L223.8,608.6 L224.1,611.7 L224.5,614.8 L224.8,617.9 L225.1,621.0 L225.4,624.0 L225.8,626.9 L226.1,629.8 L226.5,632.7 L226.9,635.5 L227.3,638.3 L227.7,641.1 L228.1,644.0 L228.5,646.8 L228.9,649.7 L229.3,652.5 L229.7,655.3 L230.0,658.2 L230.4,661.0 L230.8,663.9 L231.2,666.8 L231.5,669.8 L231.9,672.9 L232.4,676.0 L232.8,679.2 L233.2,682.4 L233.6,685.6 L234.1,688.8 L234.6,692.0 L235.0,695.2 L235.5,698.3 L236.0,701.4 L236.5,704.4 L237.0,707.5 L237.5,710.4 L238.0,713.4 L238.5,716.4 L239.0,719.4 L239.6,722.4 L240.1,725.4 L240.7,728.4 L241.2,731.5 L241.8,734.5 L242.3,737.6 L242.9,740.7 L243.4,743.7 L244.0,746.8 L244.6,749.8 L245.1,752.9 L245.6,755.9 L246.2,758.9 L246.7,762.0 L247.2,765.0 L247.7,768.0 L248.3,771.0 L248.8,774.0 L249.3,777.0 L249.8,780.0 L250.3,783.0 L250.8,786.0 L251.3,789.0 L251.8,792.0 L252.3,795.0 L252.8,798.0 L253.3,801.0 L253.9,804.0 L254.4,807.0 L255.0,810.0 L255.6,813.0 L256.2,816.0 L256.8,818.9 L257.4,821.9 L258.0,824.9 L258.7,827.8 L259.3,830.8 L260.0,833.8 L260.7,836.7 L261.4,839.7 L262.1,842.6 L262.8,845.6 L263.5,848.5 L264.2,851.5 L265.0,854.4 L265.7,857.4 L266.4,860.3 L267.2,863.3 L267.9,866.2 L268.7,869.2 L269.4,872.2 L270.2,875.1 L270.9,878.1 L271.7,881.1 L272.4,884.1 L273.2,887.2 L274.0,890.3 L274.7,893.3 L275.5,896.4 L276.3,899.5 L277.1,902.7 L277.8,905.8 L278.6,908.8 L279.4,911.9 L280.2,914.9 L281.0,917.9 L281.8,920.9 L282.5,923.8 L283.3,926.7 L284.1,929.5 L284.9,932.4 L285.7,935.2 L286.6,938.0 L287.4,940.9 L288.3,943.8 L289.2,946.6 L290.2,949.5 L291.2,952.3 L292.1,955.0 L293.1,957.7 L294.2,960.4 L295.2,963.1 L296.2,965.8 L297.3,968.5 L298.4,971.2 L299.5,973.9 L300.7,976.6 L301.8,979.4 L303.0,982.2 L304.1,985.0 L305.3,987.8 L306.5,990.7 L307.8,993.6 L309.0,996.4 L310.3,999.3 L311.5,1002.2 L312.8,1005.0 L314.1,1007.8 L315.4,1010.5 L316.8,1013.3 L318.2,1016.0 L319.6,1018.7 L321.1,1021.4 L322.6,1024.0 L324.2,1026.7 L325.9,1029.3 L327.5,1031.8 L329.3,1034.3 L331.0,1036.7 L332.8,1039.1 L334.7,1041.4 L336.6,1043.6 L338.6,1045.8 L340.6,1048.0 L342.7,1050.1 L344.9,1052.1 L347.2,1054.2 L349.6,1056.1 L352.0,1058.0 L354.4,1059.8 L356.9,1061.5 L359.4,1063.2 L362.0,1064.7 L364.6,1066.1 L367.3,1067.5 L370.0,1068.7 L372.7,1069.9 L375.5,1070.8 L378.3,1071.7 L381.2,1072.4 L384.1,1073.0 L387.0,1073.3 L390.0,1073.6 L393.0,1073.6 L396.0,1073.6 L399.0,1073.3 L402.0,1073.0 L405.0,1072.5 L408.0,1071.9 L411.0,1071.2 L414.0,1070.5 L416.9,1069.6 L419.8,1068.7 L422.6,1067.7 L425.4,1066.6 L428.1,1065.4 L430.8,1064.1 L433.3,1062.6 L435.8,1061.0 L438.2,1059.2 L440.4,1057.3 L442.5,1055.3 L444.5,1053.2 L446.4,1051.0 L448.1,1048.7 L449.8,1046.4 L451.4,1044.0 L453.0,1041.5 L454.5,1039.0 L456.0,1036.3 L457.4,1033.6 L458.8,1030.7 L460.2,1027.8 L461.5,1024.9 L462.8,1021.9 L464.0,1018.8 L465.1,1015.8 L466.1,1012.8 L467.0,1009.8 L467.9,1006.9 L468.6,1004.0 L469.3,1001.1 L470.0,998.3 L470.6,995.4 L471.1,992.4 L471.7,989.5 L472.2,986.5 L472.6,983.5 L473.1,980.4 L473.5,977.3 L473.9,974.2 L474.2,971.1 L474.6,968.0 L474.9,964.8 L475.2,961.7 L475.5,958.5 L475.8,955.4 L476.0,952.3 L476.3,949.2 L476.5,946.1 L476.7,943.0 L476.8,940.0 L477.0,936.9 L477.1,933.8 L477.2,930.8 L477.3,927.7 L477.3,924.6 L477.4,921.5 L477.4,918.4 L477.4,915.3 L477.3,912.2 L477.3,909.1 L477.2,906.1 L477.2,903.0 L477.1,900.0 L477.0,897.0 L476.9,894.0 L476.8,891.0 L476.6,888.1 L476.5,885.2 L476.4,882.2 L476.3,879.3 L476.1,876.3 L476.0,873.3 L475.8,870.3 L475.6,867.3 L475.5,864.2 L475.3,861.1 L475.1,858.1 L474.8,855.0 L474.6,852.0 L474.4,849.0 L474.1,846.0 L473.9,843.1 L473.6,840.2 L473.4,837.3 L473.1,834.4 L472.8,831.5 L472.6,828.6 L472.3,825.6 L472.1,822.7 L471.8,819.7 L471.6,816.7 L471.3,813.7 L471.1,810.7 L470.8,807.6 L470.6,804.6 L470.3,801.5 L470.1,798.5 L469.8,795.5 L469.6,792.5 L469.3,789.5 L469.0,786.5 L468.8,783.5 L468.5,780.6 L468.2,777.7 L467.9,774.8 L467.5,772.0 L467.2,769.1 L466.9,766.4 L466.5,763.6 L466.1,760.9 L465.7,758.3 L465.3,755.6 L464.9,752.9 L464.5,750.2 L464.0,747.4 L463.6,744.4 L463.1,741.4 L462.6,738.3 L462.0,735.2 L461.5,732.0 L461.0,728.9 L460.5,725.8 L460.1,722.9 L459.6,720.0 L459.1,717.1 L458.7,714.3 L458.2,711.4 L457.8,708.5 L457.3,705.6 L456.9,702.6 L456.4,699.5 L455.9,696.4 L455.4,693.2 L454.9,690.1 L454.4,686.8 L453.9,683.6 L453.4,680.3 L452.8,677.1 L452.3,673.8 L451.8,670.5 L451.3,667.3 L450.8,664.1 L450.2,660.9 L449.7,657.7 L449.2,654.6 L448.7,651.5 L448.2,648.5 L447.7,645.5 L447.2,642.5 L446.7,639.4 L446.1,636.4 L445.6,633.3 L445.0,630.1 L444.5,626.9 L443.9,623.6 L443.3,620.3 L442.7,616.9 L442.0,613.6 L441.4,610.3 L440.8,607.1 L440.2,603.9 L439.6,600.8 L439.0,597.7 L438.4,594.8 L437.8,591.8 L437.2,589.0 L436.7,586.2 L436.1,583.5 L435.5,580.9 L434.9,578.2 L434.2,575.5 L433.5,572.8 L432.7,570.0 L431.8,567.1 L430.9,564.3 L429.9,561.4 L428.8,558.7 L427.8,556.1 L426.7,553.7 L425.7,551.5 L424.7,549.4 L424.0,548.0" fill="none" stroke="#1e1e1e" stroke-width="3.8" stroke-linecap="round" stroke-linejoin="round" />
<path d="M915.0,548.0 L915.1,550.6 L915.2,553.3 L915.4,556.2 L915.6,559.3 L915.9,562.5 L916.3,565.6 L916.8,568.7 L917.3,571.8 L918.0,574.8 L918.7,577.8 L919.5,580.8 L920.3,583.8 L921.2,586.8 L922.3,589.7 L923.4,592.6 L924.6,595.4 L925.8,598.2 L927.1,601.0 L928.3,603.6 L929.6,606.2 L931.0,608.8 L932.4,611.4 L934.0,614.0 L935.7,616.6 L937.5,619.2 L939.4,621.7 L941.3,624.1 L943.2,626.4 L945.2,628.8 L947.2,631.2 L949.3,633.7 L951.5,636.1 L953.7,638.6 L955.9,640.9 L958.1,643.3 L960.3,645.5 L962.5,647.7 L964.7,649.9 L967.0,652.1 L969.4,654.2 L971.8,656.2 L974.2,658.2 L976.5,660.0 L978.9,661.7 L981.3,663.3 L983.7,664.8 L986.2,666.3 L988.7,667.8 L991.3,669.1 L994.0,670.3 L996.8,671.3 L999.6,672.1 L1002.5,672.7 L1005.5,673.0 L1008.4,673.0 L1011.4,672.8 L1014.3,672.4 L1017.3,671.8 L1020.3,671.2 L1023.4,670.4 L1026.5,669.4 L1029.6,668.5 L1032.7,667.4 L1035.7,666.3 L1038.7,665.2 L1041.6,664.0 L1044.5,662.7 L1047.3,661.4 L1050.1,660.0 L1052.9,658.5 L1055.6,656.9 L1058.2,655.2 L1060.7,653.5 L1063.1,651.7 L1065.4,649.8 L1067.7,647.8 L1069.9,645.8 L1071.9,643.6 L1073.9,641.4 L1075.8,639.1 L1077.7,636.7 L1079.4,634.2 L1081.1,631.7 L1082.7,629.1 L1084.3,626.5 L1085.9,623.8 L1087.4,621.2 L1088.9,618.5 L1090.4,615.8 L1091.8,613.1 L1093.2,610.3 L1094.6,607.6 L1095.9,604.8 L1097.2,602.0 L1098.3,599.2 L1099.4,596.3 L1100.5,593.4 L1101.4,590.5 L1102.3,587.4 L1103.0,584.3 L1103.7,581.1 L1104.2,578.1 L1104.8,575.0 L1105.2,572.1 L1105.7,569.1 L1106.1,566.1 L1106.5,563.1 L1106.9,560.3 L1107.2,557.6 L1107.5,555.0 L1107.5,555.0" fill="none" stroke="#1e1e1e" stroke-width="6.5" stroke-linecap="round" stroke-linejoin="round" />
<path d="M915.0,548.0 L915.2,550.3 L915.3,552.7 L915.5,555.4 L915.7,558.3 L915.9,561.5 L916.1,564.8 L916.3,568.3 L916.6,571.7 L916.8,575.2 L917.1,578.5 L917.3,581.8 L917.6,584.8 L917.9,587.8 L918.2,590.7 L918.6,593.5 L919.1,596.2 L919.7,598.9 L920.3,601.5 L920.9,604.1 L921.5,606.7 L922.1,609.3 L922.8,612.0 L923.4,614.8 L924.1,617.8 L924.8,620.8 L925.6,624.0 L926.5,627.1 L927.3,630.3 L928.3,633.4 L929.2,636.4 L930.1,639.3 L931.1,642.1 L932.0,644.8 L932.9,647.5 L933.9,650.2 L934.9,652.9 L936.0,655.7 L937.1,658.5 L938.2,661.4 L939.4,664.2 L940.6,667.1 L941.9,670.1 L943.2,673.0 L944.5,675.9 L945.9,678.7 L947.2,681.5 L948.6,684.3 L950.0,687.1 L951.4,689.9 L952.9,692.8 L954.5,695.6 L956.0,698.6 L957.6,701.5 L959.3,704.4 L960.9,707.3 L962.5,710.2 L964.1,713.0 L965.7,715.7 L967.2,718.3 L968.7,720.8 L970.2,723.2 L971.7,725.5 L973.4,727.9 L975.2,730.3 L977.2,732.7 L979.3,735.0 L981.6,737.0 L983.9,738.7 L986.3,740.1 L988.7,741.3 L991.3,742.4 L994.0,743.5 L996.9,744.5 L999.9,745.3 L1002.9,745.9 L1005.9,746.3 L1009.0,746.4 L1012.0,746.3 L1015.1,745.9 L1018.1,745.2 L1021.1,744.4 L1024.0,743.4 L1026.8,742.3 L1029.5,741.2 L1032.1,739.9 L1034.6,738.5 L1037.1,737.0 L1039.5,735.3 L1042.0,733.4 L1044.3,731.5 L1046.6,729.5 L1048.8,727.5 L1050.9,725.5 L1053.1,723.4 L1055.3,721.2 L1057.5,719.0 L1059.7,716.6 L1061.9,714.2 L1064.0,711.8 L1066.0,709.3 L1067.9,706.8 L1069.7,704.3 L1071.4,701.8 L1073.0,699.3 L1074.6,696.8 L1076.0,694.2 L1077.4,691.6 L1078.7,688.9 L1080.0,686.2 L1081.3,683.5 L1082.5,680.7 L1083.7,677.8 L1084.9,675.0 L1086.1,672.1 L1087.2,669.3 L1088.3,666.5 L1089.4,663.7 L1090.4,660.9 L1091.5,658.1 L1092.5,655.3 L1093.5,652.4 L1094.5,649.5 L1095.4,646.6 L1096.4,643.6 L1097.2,640.7 L1098.1,637.7 L1098.9,634.8 L1099.7,631.8 L1100.4,628.9 L1101.0,625.9 L1101.6,622.8 L1102.2,619.8 L1102.7,616.6 L1103.1,613.5 L1103.5,610.4 L1103.9,607.2 L1104.2,604.1 L1104.5,601.0 L1104.8,598.0 L1105.1,595.1 L1105.3,592.1 L1105.6,589.2 L1105.8,586.2 L1106.0,583.1 L1106.3,579.9 L1106.5,576.5 L1106.7,573.2 L1106.9,569.9 L1107.1,566.8 L1107.2,563.9 L1107.3,561.3 L1107.4,558.9 L1107.5,556.7 L1107.5,556.0" fill="none" stroke="#1e1e1e" stroke-width="6.5" stroke-linecap="round" stroke-linejoin="round" />
<path d="M915.0,548.0 L915.1,550.1 L915.2,552.4 L915.2,554.9 L915.3,557.6 L915.4,560.6 L915.6,563.7 L915.7,567.0 L915.8,570.5 L915.9,574.0 L916.1,577.5 L916.2,581.0 L916.3,584.4 L916.5,587.7 L916.6,590.9 L916.7,593.9 L916.9,597.0 L917.0,599.9 L917.1,602.9 L917.3,605.8 L917.5,608.6 L917.7,611.3 L918.1,613.9 L918.5,616.5 L918.9,619.2 L919.4,621.9 L920.0,624.5 L920.5,627.0 L921.1,629.6 L921.7,632.2 L922.4,634.9 L923.1,637.8 L923.8,640.7 L924.6,643.7 L925.4,646.9 L926.2,650.1 L927.0,653.4 L927.8,656.8 L928.6,660.0 L929.3,663.1 L930.1,666.1 L930.8,669.1 L931.4,672.0 L932.1,675.0 L932.9,678.0 L933.6,681.1 L934.3,684.3 L935.1,687.6 L935.8,690.9 L936.6,694.2 L937.4,697.5 L938.2,700.7 L938.9,704.0 L939.7,707.2 L940.4,710.3 L941.1,713.3 L941.9,716.2 L942.5,718.9 L943.2,721.6 L943.9,724.3 L944.7,727.0 L945.5,729.8 L946.4,732.9 L947.5,735.9 L948.6,738.8 L949.8,741.4 L951.0,743.7 L952.3,746.0 L953.7,748.3 L955.2,750.7 L956.8,753.2 L958.4,755.8 L960.2,758.4 L962.0,760.9 L963.8,763.5 L965.6,766.0 L967.4,768.5 L969.3,770.9 L971.2,773.3 L973.2,775.6 L975.2,777.7 L977.4,779.8 L979.7,781.7 L982.1,783.6 L984.6,785.2 L987.2,786.7 L989.9,788.0 L992.7,789.2 L995.6,790.2 L998.6,791.0 L1001.6,791.7 L1004.7,792.2 L1007.8,792.5 L1010.8,792.6 L1013.8,792.6 L1016.8,792.4 L1019.8,792.0 L1022.8,791.4 L1025.7,790.6 L1028.7,789.6 L1031.6,788.4 L1034.3,787.0 L1036.9,785.6 L1039.4,784.1 L1041.9,782.5 L1044.3,780.8 L1046.6,779.0 L1049.0,777.0 L1051.4,774.9 L1053.7,772.7 L1056.0,770.3 L1058.2,767.9 L1060.2,765.5 L1062.0,763.1 L1063.8,760.7 L1065.4,758.3 L1066.9,755.9 L1068.4,753.4 L1069.9,750.8 L1071.3,748.2 L1072.7,745.4 L1074.1,742.7 L1075.5,739.9 L1076.9,737.0 L1078.2,734.1 L1079.5,731.2 L1080.8,728.3 L1082.0,725.4 L1083.2,722.5 L1084.3,719.7 L1085.4,716.9 L1086.4,714.0 L1087.4,711.2 L1088.4,708.4 L1089.4,705.5 L1090.3,702.6 L1091.2,699.6 L1092.1,696.7 L1093.0,693.7 L1093.8,690.8 L1094.6,687.8 L1095.4,684.8 L1096.2,681.8 L1096.9,678.8 L1097.6,675.9 L1098.3,672.9 L1099.0,669.9 L1099.6,666.9 L1100.2,663.9 L1100.7,660.8 L1101.2,657.7 L1101.7,654.6 L1102.2,651.5 L1102.6,648.4 L1103.1,645.3 L1103.4,642.3 L1103.8,639.2 L1104.2,636.2 L1104.5,633.2 L1104.8,630.2 L1105.1,627.2 L1105.4,624.2 L1105.7,621.2 L1106.0,618.2 L1106.3,615.0 L1106.6,611.7 L1106.9,608.4 L1107.1,605.1 L1107.4,601.8 L1107.6,598.5 L1107.8,595.3 L1107.9,592.2 L1108.1,589.2 L1108.2,586.2 L1108.3,583.4 L1108.4,580.5 L1108.5,577.5 L1108.5,574.3 L1108.4,571.0 L1108.3,567.7 L1108.2,564.6 L1108.0,561.7 L1107.8,559.1 L1107.6,556.8 L1107.5,556.0" fill="none" stroke="#1e1e1e" stroke-width="6.5" stroke-linecap="round" stroke-linejoin="round" />
<path d="M915.0,548.0 L915.0,550.1 L914.9,552.3 L914.9,554.7 L914.8,557.3 L914.8,560.1 L914.7,563.1 L914.7,566.3 L914.6,569.6 L914.6,573.0 L914.6,576.4 L914.5,579.8 L914.5,583.2 L914.5,586.5 L914.5,589.6 L914.5,592.6 L914.5,595.6 L914.5,598.5 L914.4,601.3 L914.4,604.2 L914.4,607.1 L914.4,610.0 L914.4,612.9 L914.5,615.9 L914.5,618.9 L914.6,622.0 L914.8,625.1 L915.0,628.3 L915.2,631.4 L915.4,634.5 L915.8,637.6 L916.1,640.6 L916.5,643.6 L916.9,646.5 L917.4,649.5 L917.9,652.6 L918.4,655.6 L919.0,658.8 L919.5,661.9 L920.1,665.1 L920.7,668.2 L921.3,671.4 L921.9,674.5 L922.5,677.6 L923.1,680.7 L923.6,683.7 L924.1,686.7 L924.7,689.6 L925.1,692.5 L925.6,695.5 L926.1,698.7 L926.5,701.9 L926.9,705.2 L927.3,708.5 L927.7,711.8 L928.0,715.1 L928.3,718.2 L928.6,721.3 L928.9,724.4 L929.2,727.3 L929.5,730.1 L929.8,732.9 L930.2,735.7 L930.6,738.4 L931.2,741.3 L931.8,744.2 L932.6,747.2 L933.4,750.2 L934.3,753.0 L935.3,755.7 L936.3,758.3 L937.3,760.9 L938.3,763.6 L939.2,766.3 L940.2,769.1 L941.2,771.9 L942.3,774.7 L943.3,777.5 L944.4,780.4 L945.5,783.2 L946.7,786.0 L947.9,788.8 L949.1,791.6 L950.4,794.4 L951.7,797.2 L953.1,800.0 L954.6,802.8 L956.1,805.5 L957.7,808.2 L959.3,810.8 L961.1,813.4 L962.9,816.0 L964.8,818.5 L966.7,821.0 L968.7,823.3 L970.8,825.6 L973.0,827.8 L975.3,829.8 L977.6,831.7 L980.1,833.5 L982.6,835.2 L985.2,836.7 L987.8,838.1 L990.5,839.4 L993.3,840.6 L996.1,841.7 L998.9,842.7 L1001.8,843.6 L1004.7,844.4 L1007.7,845.0 L1010.7,845.4 L1013.7,845.6 L1016.8,845.6 L1019.8,845.4 L1022.9,845.1 L1025.9,844.6 L1029.0,843.9 L1032.1,843.1 L1035.1,842.2 L1038.1,841.1 L1041.0,840.0 L1043.8,838.7 L1046.5,837.3 L1049.2,835.7 L1051.7,834.1 L1054.2,832.3 L1056.6,830.4 L1058.9,828.3 L1061.1,826.1 L1063.1,823.8 L1065.1,821.5 L1066.8,819.2 L1068.4,816.9 L1070.0,814.6 L1071.4,812.2 L1072.9,809.7 L1074.3,807.0 L1075.7,804.3 L1077.0,801.5 L1078.4,798.5 L1079.7,795.5 L1080.9,792.6 L1082.0,789.7 L1083.1,786.9 L1084.1,784.1 L1085.1,781.4 L1086.0,778.6 L1087.0,775.8 L1087.9,772.9 L1088.8,770.0 L1089.7,767.0 L1090.6,763.9 L1091.5,760.9 L1092.4,757.8 L1093.3,754.8 L1094.1,751.7 L1094.9,748.6 L1095.7,745.6 L1096.4,742.6 L1097.1,739.6 L1097.8,736.7 L1098.5,733.7 L1099.1,730.8 L1099.7,727.9 L1100.3,725.0 L1100.9,722.0 L1101.4,719.1 L1101.9,716.2 L1102.4,713.3 L1102.9,710.4 L1103.3,707.4 L1103.8,704.4 L1104.2,701.4 L1104.6,698.4 L1105.0,695.4 L1105.4,692.3 L1105.7,689.2 L1106.0,686.2 L1106.3,683.3 L1106.6,680.3 L1106.9,677.3 L1107.1,674.3 L1107.3,671.3 L1107.6,668.3 L1107.7,665.2 L1107.9,662.1 L1108.1,659.0 L1108.3,656.0 L1108.4,652.9 L1108.6,649.8 L1108.7,646.7 L1108.8,643.7 L1108.9,640.6 L1109.0,637.7 L1109.1,634.7 L1109.2,631.7 L1109.3,628.7 L1109.4,625.6 L1109.5,622.4 L1109.6,619.2 L1109.6,615.9 L1109.7,612.6 L1109.7,609.2 L1109.7,606.0 L1109.7,602.7 L1109.7,599.5 L1109.7,596.4 L1109.7,593.3 L1109.7,590.4 L1109.6,587.5 L1109.6,584.7 L1109.5,582.0 L1109.4,579.1 L1109.3,576.1 L1109.2,572.9 L1109.0,569.6 L1108.7,566.3 L1108.4,563.2 L1108.1,560.5 L1107.8,558.2 L1107.5,556.0 L1107.5,556.0" fill="none" stroke="#1e1e1e" stroke-width="6.5" stroke-linecap="round" stroke-linejoin="round" />
<path d="M915.0,548.0 L914.9,550.0 L914.8,552.2 L914.7,554.5 L914.6,557.0 L914.5,559.8 L914.4,562.7 L914.3,565.8 L914.1,569.1 L914.0,572.4 L913.9,575.8 L913.7,579.3 L913.6,582.7 L913.5,586.1 L913.4,589.4 L913.2,592.7 L913.1,595.9 L913.0,599.0 L912.9,602.1 L912.8,605.1 L912.7,608.1 L912.5,611.0 L912.4,613.8 L912.3,616.7 L912.2,619.5 L912.1,622.4 L912.0,625.2 L911.9,628.2 L911.9,631.2 L911.8,634.4 L911.9,637.6 L911.9,640.8 L912.0,643.9 L912.1,646.9 L912.2,649.8 L912.4,652.6 L912.5,655.4 L912.7,658.1 L912.9,660.9 L913.1,663.8 L913.4,666.6 L913.6,669.6 L913.8,672.5 L914.1,675.5 L914.4,678.6 L914.6,681.7 L914.9,684.8 L915.2,688.0 L915.5,691.2 L915.7,694.4 L916.0,697.6 L916.3,700.9 L916.5,704.2 L916.8,707.5 L917.0,710.7 L917.2,713.8 L917.4,716.9 L917.6,719.9 L917.8,722.8 L918.0,725.8 L918.1,728.8 L918.3,731.8 L918.4,734.9 L918.6,738.0 L918.7,741.1 L918.9,744.2 L919.0,747.4 L919.2,750.6 L919.4,753.8 L919.5,757.0 L919.7,760.2 L919.8,763.3 L920.0,766.5 L920.2,769.7 L920.3,772.8 L920.5,775.9 L920.7,778.9 L920.9,782.0 L921.1,784.9 L921.3,787.9 L921.6,790.8 L921.8,793.7 L922.1,796.6 L922.4,799.6 L922.7,802.7 L923.0,805.9 L923.4,809.1 L923.7,812.4 L924.1,815.6 L924.5,818.8 L924.8,821.9 L925.2,825.0 L925.6,828.1 L926.0,831.1 L926.5,834.0 L926.9,836.9 L927.4,839.8 L928.0,842.6 L928.5,845.5 L929.1,848.2 L929.7,851.0 L930.4,853.8 L931.1,856.6 L931.9,859.3 L932.8,862.2 L933.7,865.0 L934.7,867.9 L935.8,870.9 L936.9,873.8 L938.0,876.8 L939.3,879.7 L940.5,882.5 L941.8,885.4 L943.2,888.2 L944.6,891.0 L946.0,893.7 L947.4,896.4 L948.9,899.0 L950.4,901.6 L951.9,904.1 L953.4,906.5 L955.0,909.0 L956.7,911.4 L958.4,913.8 L960.2,916.2 L962.2,918.6 L964.3,921.1 L966.5,923.5 L968.7,925.8 L971.0,928.1 L973.3,930.2 L975.7,932.3 L978.0,934.3 L980.3,936.2 L982.6,937.9 L984.9,939.6 L987.2,941.2 L989.6,942.7 L992.1,944.2 L994.7,945.6 L997.5,946.9 L1000.5,948.1 L1003.5,949.0 L1006.5,949.8 L1009.4,950.3 L1012.4,950.6 L1015.3,950.8 L1018.2,950.9 L1021.1,951.0 L1024.0,951.0 L1026.8,950.8 L1029.7,950.5 L1032.6,949.9 L1035.5,949.1 L1038.3,947.9 L1041.1,946.4 L1043.7,944.8 L1046.0,943.1 L1048.2,941.4 L1050.2,939.6 L1052.3,937.8 L1054.3,935.8 L1056.4,933.8 L1058.6,931.6 L1060.7,929.3 L1062.8,927.0 L1064.9,924.5 L1067.0,922.0 L1069.1,919.4 L1071.1,916.8 L1073.0,914.1 L1074.9,911.4 L1076.6,908.7 L1078.2,906.0 L1079.7,903.4 L1081.1,900.8 L1082.4,898.2 L1083.7,895.5 L1084.9,892.8 L1086.1,890.1 L1087.3,887.3 L1088.4,884.5 L1089.5,881.6 L1090.6,878.6 L1091.7,875.7 L1092.7,872.8 L1093.7,869.8 L1094.7,866.8 L1095.6,863.9 L1096.5,860.9 L1097.4,858.0 L1098.2,855.1 L1099.1,852.2 L1099.9,849.4 L1100.6,846.5 L1101.4,843.6 L1102.1,840.6 L1102.8,837.7 L1103.5,834.7 L1104.1,831.8 L1104.6,828.9 L1105.2,826.0 L1105.6,823.2 L1106.1,820.3 L1106.5,817.4 L1106.9,814.5 L1107.3,811.6 L1107.6,808.6 L1107.9,805.6 L1108.3,802.6 L1108.6,799.5 L1108.8,796.5 L1109.1,793.4 L1109.3,790.4 L1109.6,787.4 L1109.8,784.5 L1109.9,781.7 L1110.1,778.9 L1110.2,776.0 L1110.3,773.2 L1110.4,770.3 L1110.5,767.4 L1110.6,764.5 L1110.6,761.5 L1110.7,758.5 L1110.7,755.5 L1110.8,752.5 L1110.8,749.4 L1110.8,746.3 L1110.9,743.2 L1110.9,740.0 L1110.9,736.8 L1110.9,733.6 L1110.9,730.3 L1111.0,727.1 L1111.0,723.9 L1111.0,720.8 L1111.0,717.8 L1111.1,714.9 L1111.1,711.9 L1111.1,709.0 L1111.1,706.0 L1111.1,703.0 L1111.1,700.0 L1111.2,696.9 L1111.2,693.8 L1111.2,690.7 L1111.2,687.5 L1111.2,684.4 L1111.2,681.2 L1111.2,678.0 L1111.2,674.9 L1111.2,671.7 L1111.2,668.6 L1111.2,665.4 L1111.2,662.3 L1111.2,659.2 L1111.1,656.1 L1111.1,653.1 L1111.1,650.1 L1111.1,647.1 L1111.1,644.2 L1111.0,641.3 L1111.0,638.3 L1111.0,635.2 L1111.0,632.0 L1110.9,628.7 L1110.9,625.3 L1110.8,621.8 L1110.8,618.3 L1110.7,614.8 L1110.6,611.4 L1110.6,607.9 L1110.5,604.5 L1110.4,601.2 L1110.3,597.9 L1110.3,594.7 L1110.2,591.5 L1110.1,588.5 L1110.0,585.5 L1109.9,582.7 L1109.9,580.0 L1109.8,577.4 L1109.7,574.8 L1109.6,572.3 L1109.4,569.6 L1109.2,566.7 L1108.9,563.8 L1108.5,561.0 L1108.1,558.6 L1107.7,556.6 L1107.5,556.0" fill="none" stroke="#1e1e1e" stroke-width="6.5" stroke-linecap="round" stroke-linejoin="round" />
<line x1="340" y1="603.7" x2="677.3" y2="603.7" stroke="#e91e8c" stroke-width="3.2"/>
<line x1="340" y1="639" x2="578.5" y2="639" stroke="#e91e8c" stroke-width="3.2"/>
<line x1="340" y1="690.5" x2="677.3" y2="690.5" stroke="#e91e8c" stroke-width="3.2"/>
<line x1="362" y1="795" x2="578.6" y2="795" stroke="#e91e8c" stroke-width="3.2"/>
<line x1="370" y1="863" x2="677.6" y2="863" stroke="#e91e8c" stroke-width="3.2"/>
<line x1="377" y1="937.8" x2="578.6" y2="937.8" stroke="#e91e8c" stroke-width="3.2"/>
<line x1="384" y1="1007.2" x2="678.4" y2="1007.2" stroke="#e91e8c" stroke-width="3.2"/>
<line x1="391" y1="1075.9" x2="578" y2="1075.9" stroke="#e91e8c" stroke-width="3.2"/>
<line x1="1003.5" y1="673" x2="1282.5" y2="673" stroke="#e91e8c" stroke-width="4.2"/>
<line x1="1003.5" y1="748" x2="1208.5" y2="748" stroke="#e91e8c" stroke-width="4.2"/>
<line x1="1003.5" y1="793" x2="1282.5" y2="793" stroke="#e91e8c" stroke-width="4.2"/>
<line x1="1003.5" y1="847" x2="1208.5" y2="847" stroke="#e91e8c" stroke-width="4.2"/>
<line x1="1003.5" y1="951" x2="1282.5" y2="951" stroke="#e91e8c" stroke-width="4.2"/>
<circle cx="677.3" cy="603.7" r="28.8" fill="#e91e8c"/>
<path d="M0.03,-0.80 L0.29,-0.96 L0.29,0" transform="translate(660.96,614.70) scale(19.0)" fill="none" stroke="#fff" stroke-width="0.1263" stroke-linejoin="miter" stroke-linecap="butt"/>
<path d="M0.61,0 L0.61,-0.96 L0.04,-0.27 L0.80,-0.27" transform="translate(670.46,614.70) scale(19.0)" fill="none" stroke="#fff" stroke-width="0.1263" stroke-linejoin="miter" stroke-linecap="butt"/>
<path d="M0.05,-0.905 C0.05,-0.975 0.185,-0.995 0.195,-0.905 C0.195,-0.80 0.13,-0.70 0.03,-0.665 C0.085,-0.72 0.105,-0.77 0.10,-0.815 C0.065,-0.825 0.05,-0.86 0.05,-0.905 Z" transform="translate(688.89,614.70) scale(19.0)" fill="#fff" stroke="#fff" stroke-width="0.0158"/>
<path d="M0.31,-0.905 C0.31,-0.975 0.445,-0.995 0.455,-0.905 C0.455,-0.80 0.39,-0.70 0.29,-0.665 C0.345,-0.72 0.365,-0.77 0.36,-0.815 C0.325,-0.825 0.31,-0.86 0.31,-0.905 Z" transform="translate(688.89,614.70) scale(19.0)" fill="#fff" stroke="#fff" stroke-width="0.0158"/>
<circle cx="578.5" cy="639" r="28.8" fill="#e91e8c"/>
<path d="M0.03,-0.80 L0.29,-0.96 L0.29,0" transform="translate(563.21,650.00) scale(19.0)" fill="none" stroke="#fff" stroke-width="0.1263" stroke-linejoin="miter" stroke-linecap="butt"/>
<path d="M0.48,-0.97 C0.30,-0.80 0.08,-0.55 0.06,-0.32" transform="translate(572.71,650.00) scale(19.0)" fill="none" stroke="#fff" stroke-width="0.1263" stroke-linejoin="miter" stroke-linecap="butt"/>
<path d="M0.06,-0.27 A0.285,0.245 0 1 0 0.63,-0.27 A0.285,0.245 0 1 0 0.06,-0.27" transform="translate(572.71,650.00) scale(19.0)" fill="none" stroke="#fff" stroke-width="0.1263" stroke-linejoin="miter" stroke-linecap="butt"/>
<path d="M0.05,-0.905 C0.05,-0.975 0.185,-0.995 0.195,-0.905 C0.195,-0.80 0.13,-0.70 0.03,-0.665 C0.085,-0.72 0.105,-0.77 0.10,-0.815 C0.065,-0.825 0.05,-0.86 0.05,-0.905 Z" transform="translate(589.05,650.00) scale(19.0)" fill="#fff" stroke="#fff" stroke-width="0.0158"/>
<path d="M0.31,-0.905 C0.31,-0.975 0.445,-0.995 0.455,-0.905 C0.455,-0.80 0.39,-0.70 0.29,-0.665 C0.345,-0.72 0.365,-0.77 0.36,-0.815 C0.325,-0.825 0.31,-0.86 0.31,-0.905 Z" transform="translate(589.05,650.00) scale(19.0)" fill="#fff" stroke="#fff" stroke-width="0.0158"/>
<circle cx="677.3" cy="690.5" r="28.8" fill="#e91e8c"/>
<path d="M0.03,-0.80 L0.29,-0.96 L0.29,0" transform="translate(661.44,701.50) scale(19.0)" fill="none" stroke="#fff" stroke-width="0.1263" stroke-linejoin="miter" stroke-linecap="butt"/>
<path d="M0.125,-0.755 A0.245,0.185 0 1 0 0.615,-0.755 A0.245,0.185 0 1 0 0.125,-0.755" transform="translate(670.94,701.50) scale(19.0)" fill="none" stroke="#fff" stroke-width="0.1263" stroke-linejoin="miter" stroke-linecap="butt"/>
<path d="M0.055,-0.26 A0.32,0.235 0 1 0 0.695,-0.26 A0.32,0.235 0 1 0 0.055,-0.26" transform="translate(670.94,701.50) scale(19.0)" fill="none" stroke="#fff" stroke-width="0.1263" stroke-linejoin="miter" stroke-linecap="butt"/>
<path d="M0.05,-0.905 C0.05,-0.975 0.185,-0.995 0.195,-0.905 C0.195,-0.80 0.13,-0.70 0.03,-0.665 C0.085,-0.72 0.105,-0.77 0.10,-0.815 C0.065,-0.825 0.05,-0.86 0.05,-0.905 Z" transform="translate(688.42,701.50) scale(19.0)" fill="#fff" stroke="#fff" stroke-width="0.0158"/>
<path d="M0.31,-0.905 C0.31,-0.975 0.445,-0.995 0.455,-0.905 C0.455,-0.80 0.39,-0.70 0.29,-0.665 C0.345,-0.72 0.365,-0.77 0.36,-0.815 C0.325,-0.825 0.31,-0.86 0.31,-0.905 Z" transform="translate(688.42,701.50) scale(19.0)" fill="#fff" stroke="#fff" stroke-width="0.0158"/>
<circle cx="578.6" cy="795" r="28.8" fill="#e91e8c"/>
<path d="M0.05,-0.76 C0.10,-0.92 0.22,-0.96 0.35,-0.96 C0.52,-0.96 0.63,-0.86 0.63,-0.70 C0.63,-0.60 0.58,-0.52 0.50,-0.44 L0.05,-0.03 L0.67,-0.03" transform="translate(559.03,806.00) scale(19.0)" fill="none" stroke="#fff" stroke-width="0.1263" stroke-linejoin="miter" stroke-linecap="butt"/>
<path d="M0.055,-0.48 A0.34,0.455 0 1 0 0.735,-0.48 A0.34,0.455 0 1 0 0.055,-0.48" transform="translate(575.18,806.00) scale(19.0)" fill="none" stroke="#fff" stroke-width="0.1263" stroke-linejoin="miter" stroke-linecap="butt"/>
<path d="M0.05,-0.905 C0.05,-0.975 0.185,-0.995 0.195,-0.905 C0.195,-0.80 0.13,-0.70 0.03,-0.665 C0.085,-0.72 0.105,-0.77 0.10,-0.815 C0.065,-0.825 0.05,-0.86 0.05,-0.905 Z" transform="translate(593.42,806.00) scale(19.0)" fill="#fff" stroke="#fff" stroke-width="0.0158"/>
<path d="M0.31,-0.905 C0.31,-0.975 0.445,-0.995 0.455,-0.905 C0.455,-0.80 0.39,-0.70 0.29,-0.665 C0.345,-0.72 0.365,-0.77 0.36,-0.815 C0.325,-0.825 0.31,-0.86 0.31,-0.905 Z" transform="translate(593.42,806.00) scale(19.0)" fill="#fff" stroke="#fff" stroke-width="0.0158"/>
<circle cx="677.6" cy="863" r="28.8" fill="#e91e8c"/>
<path d="M0.05,-0.76 C0.10,-0.92 0.22,-0.96 0.35,-0.96 C0.52,-0.96 0.63,-0.86 0.63,-0.70 C0.63,-0.60 0.58,-0.52 0.50,-0.44 L0.05,-0.03 L0.67,-0.03" transform="translate(659.08,874.00) scale(19.0)" fill="none" stroke="#fff" stroke-width="0.1263" stroke-linejoin="miter" stroke-linecap="butt"/>
<path d="M0.05,-0.76 C0.10,-0.92 0.22,-0.96 0.35,-0.96 C0.52,-0.96 0.63,-0.86 0.63,-0.70 C0.63,-0.60 0.58,-0.52 0.50,-0.44 L0.05,-0.03 L0.67,-0.03" transform="translate(675.23,874.00) scale(19.0)" fill="none" stroke="#fff" stroke-width="0.1263" stroke-linejoin="miter" stroke-linecap="butt"/>
<path d="M0.05,-0.905 C0.05,-0.975 0.185,-0.995 0.195,-0.905 C0.195,-0.80 0.13,-0.70 0.03,-0.665 C0.085,-0.72 0.105,-0.77 0.10,-0.815 C0.065,-0.825 0.05,-0.86 0.05,-0.905 Z" transform="translate(691.38,874.00) scale(19.0)" fill="#fff" stroke="#fff" stroke-width="0.0158"/>
<path d="M0.31,-0.905 C0.31,-0.975 0.445,-0.995 0.455,-0.905 C0.455,-0.80 0.39,-0.70 0.29,-0.665 C0.345,-0.72 0.365,-0.77 0.36,-0.815 C0.325,-0.825 0.31,-0.86 0.31,-0.905 Z" transform="translate(691.38,874.00) scale(19.0)" fill="#fff" stroke="#fff" stroke-width="0.0158"/>
<circle cx="578.6" cy="937.8" r="28.8" fill="#e91e8c"/>
<path d="M0.05,-0.76 C0.10,-0.92 0.22,-0.96 0.35,-0.96 C0.52,-0.96 0.63,-0.86 0.63,-0.70 C0.63,-0.60 0.58,-0.52 0.50,-0.44 L0.05,-0.03 L0.67,-0.03" transform="translate(558.94,948.80) scale(19.0)" fill="none" stroke="#fff" stroke-width="0.1263" stroke-linejoin="miter" stroke-linecap="butt"/>
<path d="M0.61,0 L0.61,-0.96 L0.04,-0.27 L0.80,-0.27" transform="translate(575.09,948.80) scale(19.0)" fill="none" stroke="#fff" stroke-width="0.1263" stroke-linejoin="miter" stroke-linecap="butt"/>
<path d="M0.05,-0.905 C0.05,-0.975 0.185,-0.995 0.195,-0.905 C0.195,-0.80 0.13,-0.70 0.03,-0.665 C0.085,-0.72 0.105,-0.77 0.10,-0.815 C0.065,-0.825 0.05,-0.86 0.05,-0.905 Z" transform="translate(593.52,948.80) scale(19.0)" fill="#fff" stroke="#fff" stroke-width="0.0158"/>
<path d="M0.31,-0.905 C0.31,-0.975 0.445,-0.995 0.455,-0.905 C0.455,-0.80 0.39,-0.70 0.29,-0.665 C0.345,-0.72 0.365,-0.77 0.36,-0.815 C0.325,-0.825 0.31,-0.86 0.31,-0.905 Z" transform="translate(593.52,948.80) scale(19.0)" fill="#fff" stroke="#fff" stroke-width="0.0158"/>
<circle cx="678.4" cy="1007.2" r="28.8" fill="#e91e8c"/>
<path d="M0.05,-0.96 L0.62,-0.96 L0.28,-0.56 C0.50,-0.58 0.64,-0.46 0.64,-0.29 C0.64,-0.12 0.51,-0.02 0.34,-0.02 C0.21,-0.02 0.10,-0.07 0.03,-0.17" transform="translate(658.93,1018.20) scale(19.0)" fill="none" stroke="#fff" stroke-width="0.1263" stroke-linejoin="miter" stroke-linecap="butt"/>
<path d="M0.055,-0.48 A0.34,0.455 0 1 0 0.735,-0.48 A0.34,0.455 0 1 0 0.055,-0.48" transform="translate(674.89,1018.20) scale(19.0)" fill="none" stroke="#fff" stroke-width="0.1263" stroke-linejoin="miter" stroke-linecap="butt"/>
<path d="M0.05,-0.905 C0.05,-0.975 0.185,-0.995 0.195,-0.905 C0.195,-0.80 0.13,-0.70 0.03,-0.665 C0.085,-0.72 0.105,-0.77 0.10,-0.815 C0.065,-0.825 0.05,-0.86 0.05,-0.905 Z" transform="translate(693.13,1018.20) scale(19.0)" fill="#fff" stroke="#fff" stroke-width="0.0158"/>
<path d="M0.31,-0.905 C0.31,-0.975 0.445,-0.995 0.455,-0.905 C0.455,-0.80 0.39,-0.70 0.29,-0.665 C0.345,-0.72 0.365,-0.77 0.36,-0.815 C0.325,-0.825 0.31,-0.86 0.31,-0.905 Z" transform="translate(693.13,1018.20) scale(19.0)" fill="#fff" stroke="#fff" stroke-width="0.0158"/>
<circle cx="578" cy="1075.9" r="28.8" fill="#e91e8c"/>
<path d="M0.05,-0.96 L0.62,-0.96 L0.28,-0.56 C0.50,-0.58 0.64,-0.46 0.64,-0.29 C0.64,-0.12 0.51,-0.02 0.34,-0.02 C0.21,-0.02 0.10,-0.07 0.03,-0.17" transform="translate(559.48,1086.90) scale(19.0)" fill="none" stroke="#fff" stroke-width="0.1263" stroke-linejoin="miter" stroke-linecap="butt"/>
<path d="M0.48,-0.97 C0.30,-0.80 0.08,-0.55 0.06,-0.32" transform="translate(575.44,1086.90) scale(19.0)" fill="none" stroke="#fff" stroke-width="0.1263" stroke-linejoin="miter" stroke-linecap="butt"/>
<path d="M0.06,-0.27 A0.285,0.245 0 1 0 0.63,-0.27 A0.285,0.245 0 1 0 0.06,-0.27" transform="translate(575.44,1086.90) scale(19.0)" fill="none" stroke="#fff" stroke-width="0.1263" stroke-linejoin="miter" stroke-linecap="butt"/>
<path d="M0.05,-0.905 C0.05,-0.975 0.185,-0.995 0.195,-0.905 C0.195,-0.80 0.13,-0.70 0.03,-0.665 C0.085,-0.72 0.105,-0.77 0.10,-0.815 C0.065,-0.825 0.05,-0.86 0.05,-0.905 Z" transform="translate(591.78,1086.90) scale(19.0)" fill="#fff" stroke="#fff" stroke-width="0.0158"/>
<path d="M0.31,-0.905 C0.31,-0.975 0.445,-0.995 0.455,-0.905 C0.455,-0.80 0.39,-0.70 0.29,-0.665 C0.345,-0.72 0.365,-0.77 0.36,-0.815 C0.325,-0.825 0.31,-0.86 0.31,-0.905 Z" transform="translate(591.78,1086.90) scale(19.0)" fill="#fff" stroke="#fff" stroke-width="0.0158"/>
<circle cx="1282.5" cy="673" r="33" fill="#e91e8c"/>
<path d="M0.03,-0.80 L0.29,-0.96 L0.29,0" transform="translate(1257.44,685.00) scale(24.0)" fill="none" stroke="#fff" stroke-width="0.1125" stroke-linejoin="miter" stroke-linecap="butt"/>
<path d="M0.125,-0.755 A0.245,0.185 0 1 0 0.615,-0.755 A0.245,0.185 0 1 0 0.125,-0.755" transform="translate(1269.44,685.00) scale(24.0)" fill="none" stroke="#fff" stroke-width="0.1125" stroke-linejoin="miter" stroke-linecap="butt"/>
<path d="M0.055,-0.26 A0.32,0.235 0 1 0 0.695,-0.26 A0.32,0.235 0 1 0 0.055,-0.26" transform="translate(1269.44,685.00) scale(24.0)" fill="none" stroke="#fff" stroke-width="0.1125" stroke-linejoin="miter" stroke-linecap="butt"/>
<path d="M0.05,-0.905 C0.05,-0.975 0.185,-0.995 0.195,-0.905 C0.195,-0.80 0.13,-0.70 0.03,-0.665 C0.085,-0.72 0.105,-0.77 0.10,-0.815 C0.065,-0.825 0.05,-0.86 0.05,-0.905 Z" transform="translate(1291.52,685.00) scale(24.0)" fill="#fff" stroke="#fff" stroke-width="0.0125"/>
<path d="M0.31,-0.905 C0.31,-0.975 0.445,-0.995 0.455,-0.905 C0.455,-0.80 0.39,-0.70 0.29,-0.665 C0.345,-0.72 0.365,-0.77 0.36,-0.815 C0.325,-0.825 0.31,-0.86 0.31,-0.905 Z" transform="translate(1291.52,685.00) scale(24.0)" fill="#fff" stroke="#fff" stroke-width="0.0125"/>
<circle cx="1208.5" cy="748" r="33" fill="#e91e8c"/>
<path d="M0.05,-0.76 C0.10,-0.92 0.22,-0.96 0.35,-0.96 C0.52,-0.96 0.63,-0.86 0.63,-0.70 C0.63,-0.60 0.58,-0.52 0.50,-0.44 L0.05,-0.03 L0.67,-0.03" transform="translate(1181.26,760.00) scale(24.0)" fill="none" stroke="#fff" stroke-width="0.1125" stroke-linejoin="miter" stroke-linecap="butt"/>
<path d="M0.055,-0.48 A0.34,0.455 0 1 0 0.735,-0.48 A0.34,0.455 0 1 0 0.055,-0.48" transform="translate(1201.66,760.00) scale(24.0)" fill="none" stroke="#fff" stroke-width="0.1125" stroke-linejoin="miter" stroke-linecap="butt"/>
<path d="M0.05,-0.905 C0.05,-0.975 0.185,-0.995 0.195,-0.905 C0.195,-0.80 0.13,-0.70 0.03,-0.665 C0.085,-0.72 0.105,-0.77 0.10,-0.815 C0.065,-0.825 0.05,-0.86 0.05,-0.905 Z" transform="translate(1224.70,760.00) scale(24.0)" fill="#fff" stroke="#fff" stroke-width="0.0125"/>
<path d="M0.31,-0.905 C0.31,-0.975 0.445,-0.995 0.455,-0.905 C0.455,-0.80 0.39,-0.70 0.29,-0.665 C0.345,-0.72 0.365,-0.77 0.36,-0.815 C0.325,-0.825 0.31,-0.86 0.31,-0.905 Z" transform="translate(1224.70,760.00) scale(24.0)" fill="#fff" stroke="#fff" stroke-width="0.0125"/>
<circle cx="1282.5" cy="793" r="33" fill="#e91e8c"/>
<path d="M0.05,-0.76 C0.10,-0.92 0.22,-0.96 0.35,-0.96 C0.52,-0.96 0.63,-0.86 0.63,-0.70 C0.63,-0.60 0.58,-0.52 0.50,-0.44 L0.05,-0.03 L0.67,-0.03" transform="translate(1256.58,805.00) scale(24.0)" fill="none" stroke="#fff" stroke-width="0.1125" stroke-linejoin="miter" stroke-linecap="butt"/>
<path d="M0.05,-0.76 C0.10,-0.92 0.22,-0.96 0.35,-0.96 C0.52,-0.96 0.63,-0.86 0.63,-0.70 C0.63,-0.60 0.58,-0.52 0.50,-0.44 L0.05,-0.03 L0.67,-0.03" transform="translate(1276.98,805.00) scale(24.0)" fill="none" stroke="#fff" stroke-width="0.1125" stroke-linejoin="miter" stroke-linecap="butt"/>
<path d="M0.05,-0.905 C0.05,-0.975 0.185,-0.995 0.195,-0.905 C0.195,-0.80 0.13,-0.70 0.03,-0.665 C0.085,-0.72 0.105,-0.77 0.10,-0.815 C0.065,-0.825 0.05,-0.86 0.05,-0.905 Z" transform="translate(1297.38,805.00) scale(24.0)" fill="#fff" stroke="#fff" stroke-width="0.0125"/>
<path d="M0.31,-0.905 C0.31,-0.975 0.445,-0.995 0.455,-0.905 C0.455,-0.80 0.39,-0.70 0.29,-0.665 C0.345,-0.72 0.365,-0.77 0.36,-0.815 C0.325,-0.825 0.31,-0.86 0.31,-0.905 Z" transform="translate(1297.38,805.00) scale(24.0)" fill="#fff" stroke="#fff" stroke-width="0.0125"/>
<circle cx="1208.5" cy="847" r="33" fill="#e91e8c"/>
<path d="M0.05,-0.76 C0.10,-0.92 0.22,-0.96 0.35,-0.96 C0.52,-0.96 0.63,-0.86 0.63,-0.70 C0.63,-0.60 0.58,-0.52 0.50,-0.44 L0.05,-0.03 L0.67,-0.03" transform="translate(1181.14,859.00) scale(24.0)" fill="none" stroke="#fff" stroke-width="0.1125" stroke-linejoin="miter" stroke-linecap="butt"/>
<path d="M0.61,0 L0.61,-0.96 L0.04,-0.27 L0.80,-0.27" transform="translate(1201.54,859.00) scale(24.0)" fill="none" stroke="#fff" stroke-width="0.1125" stroke-linejoin="miter" stroke-linecap="butt"/>
<path d="M0.05,-0.905 C0.05,-0.975 0.185,-0.995 0.195,-0.905 C0.195,-0.80 0.13,-0.70 0.03,-0.665 C0.085,-0.72 0.105,-0.77 0.10,-0.815 C0.065,-0.825 0.05,-0.86 0.05,-0.905 Z" transform="translate(1224.82,859.00) scale(24.0)" fill="#fff" stroke="#fff" stroke-width="0.0125"/>
<path d="M0.31,-0.905 C0.31,-0.975 0.445,-0.995 0.455,-0.905 C0.455,-0.80 0.39,-0.70 0.29,-0.665 C0.345,-0.72 0.365,-0.77 0.36,-0.815 C0.325,-0.825 0.31,-0.86 0.31,-0.905 Z" transform="translate(1224.82,859.00) scale(24.0)" fill="#fff" stroke="#fff" stroke-width="0.0125"/>
<circle cx="1282.5" cy="951" r="33" fill="#e91e8c"/>
<path d="M0.05,-0.96 L0.62,-0.96 L0.28,-0.56 C0.50,-0.58 0.64,-0.46 0.64,-0.29 C0.64,-0.12 0.51,-0.02 0.34,-0.02 C0.21,-0.02 0.10,-0.07 0.03,-0.17" transform="translate(1255.38,963.00) scale(24.0)" fill="none" stroke="#fff" stroke-width="0.1125" stroke-linejoin="miter" stroke-linecap="butt"/>
<path d="M0.055,-0.48 A0.34,0.455 0 1 0 0.735,-0.48 A0.34,0.455 0 1 0 0.055,-0.48" transform="translate(1275.54,963.00) scale(24.0)" fill="none" stroke="#fff" stroke-width="0.1125" stroke-linejoin="miter" stroke-linecap="butt"/>
<path d="M0.05,-0.905 C0.05,-0.975 0.185,-0.995 0.195,-0.905 C0.195,-0.80 0.13,-0.70 0.03,-0.665 C0.085,-0.72 0.105,-0.77 0.10,-0.815 C0.065,-0.825 0.05,-0.86 0.05,-0.905 Z" transform="translate(1298.58,963.00) scale(24.0)" fill="#fff" stroke="#fff" stroke-width="0.0125"/>
<path d="M0.31,-0.905 C0.31,-0.975 0.445,-0.995 0.455,-0.905 C0.455,-0.80 0.39,-0.70 0.29,-0.665 C0.345,-0.72 0.365,-0.77 0.36,-0.815 C0.325,-0.825 0.31,-0.86 0.31,-0.905 Z" transform="translate(1298.58,963.00) scale(24.0)" fill="#fff" stroke="#fff" stroke-width="0.0125"/>
<path d="M184.2,155.0 L183.9,155.3 L183.5,155.5 L183.1,156.0 L182.5,156.5 L181.9,157.1 L181.3,157.7 L180.6,158.5 L180.0,159.3 L179.4,160.2 L178.8,161.2 L178.3,162.3 L178.0,163.5 L177.9,164.6 L178.0,165.7 L178.1,166.7 L178.3,167.7 L178.6,168.7 L178.9,169.8 L179.3,170.8 L179.7,171.8 L180.2,172.7 L180.7,173.6 L181.4,174.5 L182.0,175.4 L182.8,176.1 L183.7,176.8 L184.6,177.4 L185.5,178.0 L186.4,178.5 L187.4,179.0 L188.3,179.4 L189.3,179.8 L190.3,180.1 L191.3,180.5 L192.3,180.7 L193.2,181.0 L194.2,181.2 L195.2,181.5 L196.2,181.7 L197.2,181.8 L198.2,181.9 L199.3,182.0 L200.3,182.1 L201.3,182.1 L202.2,182.1 L203.2,182.1 L204.1,182.1 L205.0,182.1 L205.8,182.1 L206.6,182.2 L207.3,182.2 L208.1,182.2 L208.8,182.3 L209.6,182.2 L210.5,182.2 L211.3,182.1 L212.2,181.9 L213.2,181.6 L214.2,181.3 L215.2,180.9 L216.3,180.5 L217.5,180.1 L218.8,179.6 L220.2,179.0 L221.6,178.4 L223.1,177.7 L224.5,176.9 L226.0,176.1 L227.4,175.1 L228.7,174.1 L230.0,172.9 L231.1,171.6 L232.1,170.2 L232.9,168.8 L233.6,167.2 L234.3,165.7 L234.9,164.0 L235.3,162.3 L235.7,160.6 L236.0,158.9 L236.3,157.2 L236.4,155.5 L236.4,153.9 L236.3,152.2 L235.8,150.6 L235.1,149.0 L234.4,147.5 L233.5,146.0 L232.6,144.6 L231.6,143.3 L230.5,142.0 L229.4,140.9 L228.3,139.8 L227.1,139.0 L225.9,138.2 L224.7,137.7 L223.4,137.2 L222.1,136.9 L220.8,136.9 L219.6,137.0 L218.3,137.3 L217.1,137.6 L216.0,138.1 L214.8,138.7 L213.7,139.3 L212.6,140.0 L211.6,140.7 L210.6,141.5 L209.6,142.4 L208.5,143.3 L207.5,144.3 L206.5,145.4 L205.6,146.6 L204.6,147.8 L203.7,149.1 L202.8,150.4 L202.0,151.8 L201.1,153.1 L200.3,154.5 L199.6,155.9 L198.9,157.4 L198.2,159.0 L197.7,160.6 L197.1,162.2 L196.6,163.8 L196.1,165.4 L195.7,167.0 L195.2,168.6 L194.7,170.2 L194.3,171.7 L193.8,173.3 L193.4,174.8 L192.9,176.3 L192.4,177.9 L191.9,179.4 L191.5,181.0 L191.0,182.5 L190.5,184.0 L190.1,185.5 L189.6,187.1 L189.1,188.6 L188.6,190.1 L188.1,191.6 L187.6,193.1 L187.0,194.6 L186.5,196.2 L185.9,197.7 L185.4,199.3 L184.8,200.9 L184.2,202.5 L183.6,204.1 L183.0,205.6 L182.4,207.1 L181.8,208.6 L181.2,210.0 L180.6,211.4 L180.0,212.7 L179.5,214.0 L178.9,215.3 L178.4,216.6 L177.8,217.8 L177.3,218.9 L176.8,220.0 L176.2,221.1 L175.7,222.1 L175.1,223.0 L174.6,223.9 L174.1,224.7 L173.5,225.5 L173.0,226.3 L172.4,227.0 L171.8,227.7 L171.2,228.3 L170.6,228.9 L169.9,229.5 L169.3,230.1 L168.6,230.7 L167.9,231.2 L167.3,231.7 L166.6,232.2 L165.8,232.7 L165.1,233.1 L164.4,233.5 L163.7,233.9 L163.0,234.3 L162.3,234.6 L161.6,234.8 L161.0,235.0 L160.5,235.1 L160.0,235.2 L159.6,235.2 L159.2,235.2 L158.9,235.1 L158.4,234.8 L157.8,234.5 L157.2,234.0 L156.6,233.4 L156.0,232.8 L155.4,232.1 L154.9,231.5 L154.5,230.9 L154.2,230.3 L154.0,229.9 L153.9,229.6 L153.9,229.4 L153.9,229.1 L153.9,228.7 L154.1,228.4 L154.2,228.1 L154.5,227.7 L154.7,227.4 L155.1,227.1 L155.5,226.8 L155.9,226.6 L156.4,226.4 L157.0,226.3 L157.8,226.2 L158.7,226.2 L159.8,226.2 L160.9,226.3 L162.2,226.5 L163.5,226.7 L164.8,226.9 L166.2,227.2 L167.7,227.5 L169.1,227.8 L170.5,228.2 L171.8,228.6 L173.2,229.1 L174.5,229.7 L175.9,230.3 L177.3,231.0 L178.8,231.8 L180.3,232.6 L181.8,233.4 L183.4,234.2 L184.9,235.0 L186.5,235.8 L188.1,236.5 L189.7,237.2 L191.3,237.8 L192.9,238.4 L194.5,239.1 L196.1,239.7 L197.8,240.3 L199.4,240.9 L201.1,241.4 L202.7,242.0 L204.3,242.4 L205.9,242.9 L207.4,243.3 L208.9,243.6 L210.4,243.7 L211.8,243.8 L213.2,243.8 L214.5,243.8 L215.8,243.7 L217.0,243.5 L218.1,243.3 L219.2,243.1 L220.3,242.9 L221.2,242.6 L222.1,242.3 L223.1,241.9 L224.1,241.3 L225.0,240.5 L225.7,239.7 L226.3,238.9 L226.7,238.1 L227.0,237.3 L227.1,236.7 L227.3,236.1 L227.3,235.6 L227.3,235.2 L227.3,235.0 L227.2,234.8 L223.6,232.4 L223.2,232.7 L222.9,233.1 L222.5,233.5 L222.2,233.9 L221.9,234.2 L221.7,234.4 L221.4,234.7 L221.1,234.8 L220.9,234.8 L220.7,234.8 L220.5,234.8 L220.3,234.7 L219.9,234.8 L219.2,234.9 L218.6,235.0 L217.8,235.1 L217.0,235.2 L216.2,235.3 L215.3,235.3 L214.3,235.3 L213.4,235.2 L212.4,235.2 L211.3,235.0 L210.3,234.8 L209.1,234.7 L207.9,234.4 L206.5,234.2 L205.0,233.8 L203.5,233.4 L202.0,233.0 L200.4,232.5 L198.7,232.0 L197.1,231.5 L195.5,231.0 L193.9,230.5 L192.3,230.0 L190.8,229.5 L189.3,229.0 L187.7,228.5 L186.1,228.0 L184.5,227.4 L182.9,226.8 L181.2,226.2 L179.6,225.6 L178.0,225.1 L176.3,224.6 L174.7,224.2 L173.2,223.8 L171.6,223.5 L170.1,223.2 L168.5,222.9 L167.0,222.7 L165.5,222.5 L164.0,222.3 L162.6,222.2 L161.2,222.2 L159.8,222.2 L158.6,222.2 L157.4,222.3 L156.4,222.5 L155.3,222.8 L154.4,223.1 L153.5,223.6 L152.7,224.1 L152.0,224.7 L151.4,225.4 L151.0,226.1 L150.6,226.9 L150.3,227.7 L150.1,228.5 L150.1,229.4 L150.1,230.2 L150.3,231.1 L150.7,232.0 L151.1,232.8 L151.6,233.7 L152.2,234.6 L152.9,235.4 L153.6,236.3 L154.4,237.1 L155.2,237.8 L156.1,238.4 L157.0,239.0 L158.0,239.4 L159.0,239.7 L160.0,239.8 L161.0,239.8 L162.0,239.6 L162.9,239.5 L163.9,239.2 L164.8,238.9 L165.8,238.6 L166.7,238.2 L167.5,237.8 L168.4,237.4 L169.2,237.0 L170.1,236.6 L171.0,236.2 L171.9,235.8 L172.8,235.3 L173.7,234.7 L174.6,234.2 L175.6,233.5 L176.5,232.8 L177.4,232.1 L178.3,231.3 L179.3,230.4 L180.1,229.5 L181.0,228.4 L181.8,227.4 L182.5,226.3 L183.2,225.1 L183.9,224.0 L184.6,222.7 L185.3,221.5 L186.0,220.3 L186.6,219.0 L187.3,217.7 L188.0,216.4 L188.6,215.0 L189.3,213.6 L190.0,212.2 L190.6,210.6 L191.3,209.1 L192.0,207.5 L192.7,205.9 L193.3,204.2 L194.0,202.6 L194.6,201.0 L195.2,199.4 L195.9,197.7 L196.4,196.1 L197.0,194.5 L197.5,192.9 L197.9,191.3 L198.4,189.7 L198.9,188.1 L199.3,186.6 L199.7,185.0 L200.1,183.4 L200.6,181.9 L201.0,180.3 L201.4,178.8 L201.8,177.2 L202.3,175.6 L202.7,174.0 L203.0,172.3 L203.4,170.7 L203.8,169.1 L204.1,167.5 L204.5,166.0 L204.9,164.5 L205.3,163.0 L205.7,161.7 L206.1,160.3 L206.6,159.1 L207.1,157.8 L207.7,156.5 L208.3,155.2 L208.9,153.9 L209.5,152.6 L210.2,151.4 L210.8,150.3 L211.5,149.2 L212.2,148.2 L212.9,147.2 L213.5,146.4 L214.2,145.7 L214.9,145.0 L215.7,144.4 L216.6,143.8 L217.4,143.3 L218.2,142.9 L219.0,142.5 L219.7,142.2 L220.4,142.0 L221.1,141.9 L221.6,141.9 L222.1,142.0 L222.5,142.1 L222.9,142.6 L223.5,143.2 L224.0,143.9 L224.6,144.9 L225.2,145.9 L225.8,147.0 L226.3,148.2 L226.8,149.3 L227.1,150.5 L227.4,151.7 L227.5,152.7 L227.5,153.6 L227.7,154.5 L227.8,155.6 L227.9,156.8 L227.8,158.0 L227.7,159.3 L227.5,160.6 L227.3,161.9 L227.0,163.2 L226.6,164.5 L226.2,165.6 L225.7,166.7 L225.3,167.6 L224.8,168.4 L224.1,169.3 L223.3,170.1 L222.3,171.0 L221.3,171.9 L220.1,172.7 L218.9,173.5 L217.8,174.3 L216.6,175.0 L215.4,175.7 L214.4,176.3 L213.4,176.9 L212.6,177.3 L211.8,177.6 L211.2,177.8 L210.5,178.0 L209.9,178.1 L209.3,178.2 L208.7,178.2 L208.1,178.3 L207.4,178.3 L206.6,178.3 L205.9,178.3 L205.0,178.3 L204.2,178.3 L203.3,178.2 L202.4,178.2 L201.5,178.1 L200.6,178.0 L199.6,178.0 L198.7,177.8 L197.8,177.7 L197.0,177.5 L196.1,177.3 L195.4,177.1 L194.6,176.8 L193.8,176.5 L193.1,176.1 L192.3,175.6 L191.5,175.2 L190.8,174.7 L190.1,174.2 L189.4,173.7 L188.8,173.2 L188.3,172.7 L187.8,172.2 L187.5,171.7 L187.2,171.2 L186.9,170.8 L186.6,170.2 L186.4,169.7 L186.1,169.1 L185.9,168.4 L185.8,167.8 L185.6,167.1 L185.6,166.5 L185.5,165.9 L185.5,165.3 L185.6,164.8 L185.6,164.5 L185.6,164.3 L185.6,164.0 L185.7,163.5 L185.9,163.0 L186.2,162.3 L186.6,161.7 L186.9,161.1 L187.3,160.4 L187.7,159.8 L188.1,159.2 L188.4,158.6 L188.6,158.2 Z" fill="#000"/>
<circle cx="186.4" cy="156.6" r="2.74" fill="#000"/>
<circle cx="225.4" cy="233.6" r="2.18" fill="#000"/>
<path d="M241.1,219.8 L241.8,219.6 L242.8,219.4 L243.9,219.1 L245.2,218.8 L246.6,218.4 L248.1,218.0 L249.6,217.5 L251.1,217.0 L252.7,216.5 L254.2,215.9 L255.6,215.3 L256.9,214.7 L258.2,214.0 L259.4,213.3 L260.7,212.6 L261.9,211.8 L263.1,211.0 L264.3,210.1 L265.5,209.2 L266.6,208.3 L267.6,207.3 L268.6,206.3 L269.5,205.3 L270.3,204.2 L271.0,203.0 L271.5,201.8 L272.0,200.5 L272.3,199.2 L272.6,198.0 L272.8,196.7 L272.9,195.4 L272.9,194.2 L272.9,193.1 L272.7,192.0 L272.6,190.9 L272.3,189.9 L271.8,189.0 L271.3,188.2 L270.6,187.4 L269.9,186.8 L269.1,186.3 L268.2,185.8 L267.3,185.5 L266.4,185.3 L265.4,185.2 L264.4,185.2 L263.4,185.3 L262.5,185.5 L261.4,185.7 L260.4,185.9 L259.2,186.3 L258.1,186.7 L256.9,187.2 L255.7,187.7 L254.4,188.4 L253.2,189.0 L251.9,189.7 L250.7,190.5 L249.5,191.3 L248.3,192.2 L247.1,193.0 L245.8,193.9 L244.5,194.8 L243.2,195.9 L241.8,196.9 L240.5,198.1 L239.2,199.2 L237.9,200.5 L236.7,201.7 L235.5,203.0 L234.4,204.3 L233.3,205.7 L232.4,207.2 L231.6,208.6 L230.9,210.2 L230.2,211.7 L229.5,213.3 L228.9,214.9 L228.4,216.5 L228.0,218.1 L227.6,219.7 L227.3,221.2 L227.1,222.8 L227.0,224.3 L227.2,225.8 L227.4,227.3 L227.8,228.7 L228.2,230.1 L228.8,231.4 L229.4,232.6 L230.1,233.8 L230.9,234.9 L231.8,236.0 L232.7,236.9 L233.8,237.8 L234.9,238.6 L236.2,239.2 L237.5,239.6 L238.8,239.9 L240.1,240.1 L241.5,240.2 L242.8,240.2 L244.1,240.2 L245.4,240.1 L246.7,239.9 L247.9,239.7 L249.1,239.5 L250.2,239.3 L251.4,239.1 L252.6,238.9 L253.7,238.6 L254.9,238.2 L256.0,237.9 L257.1,237.5 L258.2,237.0 L259.3,236.5 L260.4,236.1 L261.5,235.6 L262.5,235.0 L263.6,234.5 L264.7,234.0 L265.8,233.4 L267.0,232.9 L268.1,232.2 L269.3,231.6 L270.4,231.0 L271.6,230.3 L272.7,229.6 L273.8,228.8 L274.9,228.1 L275.9,227.4 L276.9,226.6 L277.9,225.7 L278.9,224.8 L279.9,223.8 L280.8,222.8 L281.7,221.8 L282.6,220.8 L283.4,219.8 L284.2,218.9 L284.9,218.1 L285.5,217.3 L286.0,216.7 L286.4,216.3 L283.6,213.7 L283.1,214.3 L282.6,214.9 L281.9,215.7 L281.3,216.5 L280.5,217.4 L279.7,218.3 L278.9,219.3 L278.0,220.2 L277.1,221.2 L276.2,222.1 L275.4,222.9 L274.5,223.6 L273.6,224.3 L272.7,225.0 L271.7,225.7 L270.6,226.4 L269.6,227.0 L268.5,227.7 L267.4,228.3 L266.3,228.9 L265.2,229.5 L264.1,230.0 L263.1,230.6 L262.0,231.1 L260.9,231.5 L259.9,232.0 L258.8,232.4 L257.8,232.9 L256.7,233.3 L255.7,233.6 L254.7,233.9 L253.7,234.2 L252.7,234.5 L251.7,234.7 L250.7,234.8 L249.8,234.9 L248.7,234.9 L247.6,234.8 L246.5,234.7 L245.4,234.6 L244.4,234.4 L243.3,234.2 L242.4,234.0 L241.5,233.7 L240.7,233.3 L240.1,233.0 L239.6,232.6 L239.3,232.2 L239.0,231.8 L238.6,231.4 L238.3,230.8 L238.0,230.2 L237.7,229.6 L237.4,228.9 L237.2,228.2 L237.1,227.4 L237.0,226.6 L236.9,225.9 L236.9,225.1 L237.0,224.3 L237.0,223.5 L237.0,222.5 L237.1,221.4 L237.3,220.2 L237.6,219.0 L237.9,217.7 L238.3,216.4 L238.7,215.1 L239.2,213.9 L239.7,212.6 L240.3,211.4 L240.9,210.3 L241.4,209.1 L242.1,208.0 L242.9,206.8 L243.7,205.5 L244.7,204.3 L245.6,203.1 L246.6,201.9 L247.7,200.7 L248.7,199.5 L249.7,198.4 L250.7,197.4 L251.7,196.4 L252.7,195.6 L253.7,194.8 L254.7,194.0 L255.8,193.2 L256.8,192.5 L257.9,191.8 L258.9,191.2 L259.9,190.7 L260.8,190.2 L261.7,189.8 L262.4,189.5 L263.1,189.3 L263.8,189.3 L264.4,189.3 L264.9,189.4 L265.4,189.6 L265.8,189.8 L266.1,190.0 L266.4,190.2 L266.6,190.5 L266.8,190.8 L267.0,191.1 L267.1,191.4 L267.1,191.7 L267.2,192.1 L267.3,192.7 L267.4,193.4 L267.4,194.2 L267.4,195.1 L267.3,196.1 L267.2,197.0 L267.0,198.0 L266.7,198.9 L266.4,199.8 L266.1,200.6 L265.7,201.4 L265.2,202.1 L264.6,203.0 L264.0,203.9 L263.2,204.7 L262.3,205.6 L261.4,206.5 L260.4,207.4 L259.4,208.3 L258.3,209.1 L257.2,209.9 L256.1,210.6 L255.1,211.3 L254.0,211.9 L252.7,212.5 L251.4,213.1 L250.0,213.6 L248.5,214.1 L247.0,214.6 L245.6,215.0 L244.3,215.5 L243.0,215.8 L241.9,216.2 L240.9,216.5 L240.1,216.8 Z" fill="#000"/>
<circle cx="240.6" cy="218.3" r="1.62" fill="#000"/>
<circle cx="285" cy="215" r="1.90" fill="#000"/>
<path d="M282.1,196.9 L281.8,197.7 L281.4,198.7 L281.0,199.9 L280.5,201.2 L280.0,202.6 L279.4,204.2 L278.9,205.8 L278.3,207.4 L277.7,209.1 L277.1,210.7 L276.6,212.3 L276.1,213.8 L275.6,215.3 L275.1,216.9 L274.6,218.7 L274.1,220.4 L273.6,222.2 L273.1,223.9 L272.6,225.6 L272.1,227.2 L271.7,228.6 L271.4,229.9 L271.1,231.0 L270.8,231.9 L278.2,234.1 L278.5,233.3 L278.8,232.2 L279.2,230.9 L279.7,229.4 L280.2,227.9 L280.7,226.2 L281.3,224.5 L281.8,222.8 L282.4,221.0 L282.9,219.4 L283.5,217.7 L283.9,216.2 L284.4,214.7 L284.8,213.1 L285.3,211.5 L285.8,209.8 L286.3,208.2 L286.8,206.6 L287.2,205.0 L287.7,203.5 L288.0,202.2 L288.4,201.0 L288.7,199.9 L288.9,199.1 Z" fill="#000"/>
<circle cx="285.5" cy="198" r="3.58" fill="#000"/>
<circle cx="274.5" cy="233" r="3.86" fill="#000"/>
<path d="M279.3,225.0 L279.7,224.4 L280.3,223.6 L280.9,222.7 L281.6,221.7 L282.4,220.6 L283.2,219.5 L284.0,218.4 L284.9,217.2 L285.7,216.1 L286.6,215.0 L287.4,214.0 L288.2,213.1 L289.0,212.2 L289.8,211.4 L290.6,210.6 L291.3,209.8 L292.1,209.1 L292.9,208.3 L293.7,207.6 L294.5,207.0 L295.3,206.3 L296.2,205.7 L297.1,205.0 L298.1,204.4 L299.2,203.8 L300.5,203.1 L301.8,202.5 L303.2,201.8 L304.6,201.1 L306.0,200.5 L307.4,199.9 L308.7,199.5 L309.9,199.1 L311.0,198.8 L311.9,198.7 L312.5,198.7 L313.0,198.9 L313.3,199.2 L313.7,199.4 L314.0,199.8 L314.2,200.2 L314.5,200.6 L314.7,201.1 L314.9,201.6 L315.0,202.1 L315.1,202.6 L315.1,203.1 L315.0,203.5 L315.0,203.7 L314.9,204.1 L314.8,204.7 L314.6,205.5 L314.3,206.4 L313.9,207.4 L313.5,208.4 L313.0,209.5 L312.5,210.7 L312.1,211.9 L311.6,213.1 L311.2,214.3 L310.9,215.4 L310.6,216.4 L310.3,217.5 L309.9,218.6 L309.5,219.8 L309.2,221.0 L308.8,222.2 L308.5,223.5 L308.2,224.7 L307.9,226.0 L307.8,227.3 L307.8,228.6 L308.0,229.9 L308.3,231.0 L308.8,232.0 L309.3,233.0 L309.9,234.0 L310.6,234.8 L311.3,235.5 L312.2,236.2 L313.0,236.7 L314.0,237.1 L314.9,237.5 L315.9,237.7 L317.1,237.8 L318.2,237.8 L319.3,237.6 L320.4,237.4 L321.4,237.1 L322.5,236.8 L323.5,236.5 L324.4,236.1 L325.3,235.8 L326.2,235.5 L326.9,235.2 L327.6,234.9 L328.2,234.8 L328.8,234.6 L329.4,234.4 L329.9,234.3 L330.4,234.1 L330.9,233.9 L331.4,233.8 L331.8,233.6 L332.3,233.4 L332.8,233.2 L333.2,233.0 L333.7,232.8 L334.3,232.5 L334.9,232.3 L335.5,232.0 L336.1,231.7 L336.7,231.4 L337.2,231.1 L337.8,230.8 L338.3,230.5 L338.8,230.2 L339.2,230.0 L339.6,229.8 L339.9,229.7 L338.1,226.3 L337.8,226.5 L337.5,226.7 L337.0,226.9 L336.5,227.1 L336.0,227.4 L335.5,227.7 L334.9,228.0 L334.4,228.3 L333.8,228.6 L333.3,228.8 L332.8,229.0 L332.3,229.2 L331.8,229.4 L331.4,229.6 L330.9,229.7 L330.5,229.8 L330.1,229.9 L329.7,230.0 L329.3,230.1 L328.8,230.2 L328.4,230.3 L327.8,230.4 L327.3,230.6 L326.6,230.7 L325.8,230.8 L325.0,230.9 L324.1,231.0 L323.1,231.2 L322.2,231.3 L321.2,231.5 L320.3,231.6 L319.5,231.6 L318.8,231.6 L318.2,231.6 L317.8,231.4 L317.7,231.3 L317.5,231.1 L317.3,230.9 L317.2,230.7 L317.1,230.5 L317.0,230.3 L317.0,230.0 L317.0,229.8 L317.0,229.5 L317.0,229.3 L317.0,229.0 L317.1,228.7 L317.2,228.4 L317.2,228.0 L317.3,227.5 L317.5,226.8 L317.7,226.0 L318.0,225.1 L318.4,224.0 L318.8,222.9 L319.2,221.8 L319.6,220.6 L320.0,219.4 L320.4,218.2 L320.8,217.1 L321.0,216.1 L321.3,215.1 L321.7,214.0 L322.0,212.8 L322.4,211.6 L322.8,210.4 L323.2,209.1 L323.5,207.8 L323.8,206.5 L323.9,205.1 L323.9,203.6 L323.8,202.1 L323.3,200.8 L322.8,199.7 L322.2,198.6 L321.5,197.6 L320.7,196.6 L319.8,195.7 L318.7,195.0 L317.6,194.3 L316.5,193.8 L315.2,193.4 L313.9,193.2 L312.5,193.3 L311.1,193.4 L309.7,193.8 L308.3,194.3 L306.9,194.9 L305.5,195.6 L304.0,196.3 L302.5,197.1 L301.1,197.9 L299.7,198.8 L298.4,199.6 L297.2,200.4 L296.1,201.2 L295.0,201.9 L294.0,202.7 L293.0,203.4 L292.1,204.2 L291.3,205.0 L290.4,205.8 L289.6,206.6 L288.9,207.4 L288.1,208.3 L287.3,209.2 L286.6,210.0 L285.8,210.9 L284.9,211.9 L284.1,213.0 L283.2,214.1 L282.3,215.3 L281.4,216.5 L280.6,217.6 L279.7,218.8 L279.0,219.8 L278.3,220.8 L277.6,221.7 L277.1,222.5 L276.7,223.0 Z" fill="#000"/>
<circle cx="278" cy="224" r="1.62" fill="#000"/>
<circle cx="339" cy="228" r="1.90" fill="#000"/>
<path d="M375.6,191.7 L375.3,191.6 L374.8,191.4 L374.3,191.1 L373.7,190.8 L373.0,190.4 L372.3,190.1 L371.5,189.7 L370.7,189.4 L369.9,189.1 L369.0,188.8 L368.2,188.5 L367.4,188.4 L366.8,188.2 L366.2,188.1 L365.6,187.9 L365.0,187.8 L364.3,187.7 L363.5,187.6 L362.7,187.6 L361.9,187.7 L361.0,187.9 L360.1,188.1 L359.1,188.5 L358.2,188.9 L357.1,189.4 L355.9,190.0 L354.7,190.6 L353.5,191.3 L352.2,192.1 L350.9,193.0 L349.6,193.9 L348.3,194.8 L347.1,195.8 L345.9,196.8 L344.7,197.8 L343.6,198.8 L342.6,199.8 L341.6,200.8 L340.6,201.8 L339.6,202.9 L338.7,204.0 L337.8,205.2 L336.9,206.4 L336.1,207.6 L335.3,208.9 L334.6,210.2 L333.9,211.6 L333.4,213.0 L333.1,214.5 L332.9,216.0 L332.8,217.6 L332.8,219.1 L332.9,220.6 L333.0,222.1 L333.2,223.5 L333.5,224.9 L333.8,226.2 L334.2,227.4 L334.7,228.6 L335.2,229.7 L336.0,230.7 L336.8,231.6 L337.7,232.3 L338.7,232.9 L339.7,233.4 L340.7,233.7 L341.7,233.9 L342.7,234.0 L343.7,234.0 L344.6,233.9 L345.6,233.8 L346.6,233.6 L347.6,233.4 L348.8,233.2 L349.9,233.0 L351.1,232.6 L352.4,232.2 L353.6,231.7 L354.8,231.2 L356.1,230.7 L357.3,230.1 L358.4,229.4 L359.5,228.8 L360.6,228.1 L361.5,227.3 L362.5,226.6 L363.3,225.7 L364.1,224.9 L364.9,224.0 L365.7,223.1 L366.4,222.2 L367.1,221.2 L367.8,220.2 L368.4,219.2 L369.1,218.2 L369.7,217.1 L370.4,215.9 L371.0,214.6 L371.7,213.2 L372.3,211.8 L372.9,210.3 L373.5,208.9 L374.0,207.5 L374.6,206.2 L375.0,204.9 L375.4,203.9 L375.8,203.0 L376.1,202.3 L371.5,200.5 L371.2,201.3 L370.9,202.2 L370.5,203.3 L370.1,204.5 L369.7,205.9 L369.2,207.2 L368.6,208.6 L368.1,210.0 L367.6,211.4 L367.0,212.7 L366.4,213.9 L365.9,214.9 L365.3,215.9 L364.7,216.9 L364.1,217.8 L363.5,218.7 L362.9,219.6 L362.3,220.4 L361.6,221.2 L361.0,221.9 L360.3,222.6 L359.5,223.3 L358.8,223.9 L358.0,224.5 L357.2,225.1 L356.3,225.7 L355.3,226.2 L354.2,226.7 L353.1,227.2 L352.0,227.7 L350.9,228.1 L349.8,228.4 L348.8,228.7 L347.8,229.0 L347.0,229.1 L346.2,229.2 L345.5,229.1 L344.8,229.0 L344.2,228.8 L343.7,228.6 L343.3,228.3 L342.9,228.1 L342.7,227.8 L342.5,227.5 L342.3,227.2 L342.3,226.9 L342.2,226.6 L342.2,226.3 L342.0,225.8 L341.9,225.2 L341.8,224.4 L341.7,223.5 L341.6,222.5 L341.6,221.4 L341.6,220.4 L341.6,219.3 L341.8,218.3 L341.9,217.3 L342.2,216.4 L342.4,215.6 L342.6,214.8 L342.9,213.9 L343.3,213.0 L343.7,212.1 L344.2,211.1 L344.8,210.1 L345.5,209.1 L346.2,208.0 L346.9,207.0 L347.7,206.0 L348.4,205.0 L349.2,204.0 L350.0,203.1 L350.9,202.0 L351.8,201.0 L352.8,200.0 L353.8,199.0 L354.9,198.0 L355.9,197.0 L356.9,196.1 L357.9,195.2 L358.9,194.5 L359.7,193.8 L360.4,193.3 L361.1,192.9 L361.7,192.7 L362.2,192.5 L362.6,192.4 L363.0,192.3 L363.4,192.3 L363.9,192.3 L364.3,192.3 L364.8,192.4 L365.3,192.5 L366.0,192.6 L366.6,192.6 L367.1,192.8 L367.7,192.9 L368.3,193.1 L369.0,193.4 L369.7,193.7 L370.4,194.0 L371.1,194.4 L371.7,194.7 L372.3,195.0 L372.9,195.3 L373.4,195.5 L373.8,195.7 Z" fill="#000"/>
<circle cx="374.7" cy="193.7" r="2.18" fill="#000"/>
<circle cx="373.8" cy="201.4" r="2.46" fill="#000"/>
<path d="M371.3,197.8 L371.1,198.4 L370.8,199.1 L370.6,199.9 L370.2,200.9 L369.9,201.9 L369.5,203.0 L369.2,204.1 L368.8,205.3 L368.4,206.5 L368.1,207.6 L367.7,208.7 L367.4,209.7 L367.1,210.8 L366.9,211.7 L366.7,212.7 L366.5,213.5 L366.4,214.4 L366.2,215.2 L366.0,216.0 L365.8,216.9 L365.6,217.8 L365.3,218.8 L365.0,220.0 L364.6,221.2 L364.1,222.7 L363.7,224.3 L363.1,226.0 L362.6,227.8 L362.0,229.7 L361.4,231.6 L360.7,233.4 L360.1,235.3 L359.4,237.2 L358.7,238.9 L358.0,240.6 L357.3,242.1 L356.7,243.7 L355.9,245.2 L355.2,246.8 L354.4,248.3 L353.5,249.8 L352.7,251.3 L351.9,252.7 L351.0,254.1 L350.2,255.4 L349.3,256.7 L348.5,257.8 L347.8,258.9 L347.1,259.9 L346.3,260.9 L345.6,261.8 L344.9,262.7 L344.1,263.5 L343.4,264.2 L342.7,264.9 L342.1,265.5 L341.5,266.0 L340.9,266.4 L340.4,266.7 L340.1,266.9 L339.8,267.0 L339.5,267.0 L339.1,266.9 L338.7,266.7 L338.3,266.5 L337.9,266.2 L337.5,265.9 L337.1,265.5 L336.8,265.0 L336.6,264.6 L336.4,264.1 L336.3,263.7 L336.2,263.2 L336.2,262.5 L336.3,261.8 L336.4,261.0 L336.6,260.1 L336.8,259.3 L337.1,258.3 L337.4,257.4 L337.9,256.5 L338.3,255.6 L338.8,254.8 L339.4,253.9 L340.1,253.2 L340.8,252.3 L341.7,251.5 L342.6,250.7 L343.6,249.8 L344.6,249.0 L345.7,248.2 L346.9,247.3 L348.0,246.5 L349.2,245.7 L350.5,245.0 L351.7,244.2 L352.9,243.6 L354.1,242.9 L355.4,242.3 L356.8,241.7 L358.2,241.2 L359.7,240.6 L361.2,240.0 L362.7,239.4 L364.2,238.7 L365.7,238.0 L367.2,237.3 L368.7,236.5 L370.3,235.6 L371.8,234.6 L373.4,233.6 L375.0,232.5 L376.6,231.4 L378.2,230.3 L379.8,229.2 L381.3,228.1 L382.7,227.0 L384.0,226.0 L385.2,225.1 L386.2,224.2 L387.2,223.4 L388.0,222.6 L388.7,221.8 L389.3,221.0 L389.8,220.3 L390.2,219.6 L390.6,219.0 L390.9,218.5 L391.2,218.0 L391.4,217.6 L391.5,217.3 L391.7,217.1 L388.5,214.9 L388.3,215.3 L388.0,215.8 L387.8,216.2 L387.5,216.7 L387.3,217.2 L387.0,217.7 L386.7,218.2 L386.3,218.8 L385.8,219.3 L385.2,220.0 L384.6,220.6 L383.8,221.4 L382.8,222.2 L381.7,223.0 L380.4,224.0 L379.0,225.0 L377.6,226.1 L376.1,227.2 L374.5,228.3 L372.9,229.3 L371.3,230.4 L369.8,231.4 L368.3,232.3 L366.9,233.1 L365.5,233.9 L364.1,234.6 L362.6,235.3 L361.2,235.9 L359.7,236.5 L358.3,237.0 L356.8,237.6 L355.3,238.2 L353.9,238.8 L352.5,239.5 L351.1,240.2 L349.7,241.0 L348.4,241.7 L347.2,242.6 L345.9,243.4 L344.7,244.2 L343.5,245.1 L342.3,246.0 L341.2,246.9 L340.1,247.8 L339.0,248.7 L338.1,249.7 L337.2,250.7 L336.4,251.7 L335.7,252.7 L335.0,253.7 L334.4,254.8 L333.9,256.0 L333.5,257.1 L333.2,258.2 L332.9,259.3 L332.6,260.4 L332.5,261.4 L332.4,262.4 L332.4,263.4 L332.5,264.3 L332.7,265.2 L333.0,266.1 L333.4,267.0 L333.9,267.8 L334.5,268.6 L335.2,269.3 L335.9,269.9 L336.7,270.4 L337.6,270.8 L338.6,271.2 L339.7,271.3 L340.7,271.3 L341.8,271.2 L342.8,270.9 L343.8,270.6 L344.9,270.2 L346.0,269.7 L347.1,269.0 L348.1,268.4 L349.2,267.6 L350.3,266.8 L351.4,265.9 L352.5,264.9 L353.6,263.9 L354.7,262.8 L355.7,261.6 L356.8,260.4 L357.9,259.0 L359.0,257.6 L360.1,256.1 L361.2,254.6 L362.3,253.0 L363.3,251.4 L364.3,249.8 L365.3,248.2 L366.3,246.5 L367.1,244.7 L368.0,242.8 L368.8,240.9 L369.6,238.9 L370.3,236.9 L371.1,234.9 L371.7,232.9 L372.4,231.0 L373.0,229.2 L373.6,227.5 L374.1,225.9 L374.6,224.4 L375.0,223.0 L375.4,221.7 L375.8,220.5 L376.0,219.4 L376.3,218.4 L376.5,217.4 L376.7,216.5 L376.9,215.7 L377.0,214.8 L377.2,214.0 L377.4,213.2 L377.6,212.3 L377.8,211.2 L378.0,210.1 L378.2,209.0 L378.5,207.8 L378.7,206.6 L378.9,205.4 L379.1,204.3 L379.3,203.2 L379.5,202.2 L379.7,201.4 L379.8,200.6 L379.9,200.0 Z" fill="#000"/>
<circle cx="375.6" cy="198.9" r="4.42" fill="#000"/>
<circle cx="390.1" cy="216" r="1.90" fill="#000"/>
<path d="M416.3,154.1 L416.3,154.8 L416.7,155.8 L417.1,156.3 L416.9,156.4 L416.5,156.1 L416.0,155.5 L415.8,155.0 L415.7,154.8 L415.5,154.8 L415.3,155.1 L414.9,155.7 L414.4,156.5 L413.9,157.6 L413.3,158.9 L412.5,160.4 L411.6,162.1 L410.7,163.9 L409.8,165.8 L408.7,167.8 L407.7,169.8 L406.6,171.9 L405.5,174.0 L404.4,176.0 L403.4,178.0 L402.3,179.9 L401.1,182.0 L399.9,184.2 L398.6,186.4 L397.3,188.6 L396.0,190.9 L394.7,193.1 L393.4,195.4 L392.2,197.5 L391.1,199.7 L390.0,201.7 L389.1,203.7 L388.3,205.5 L387.5,207.2 L386.9,208.9 L386.2,210.5 L385.7,212.1 L385.2,213.6 L384.7,215.1 L384.3,216.6 L384.0,218.1 L383.8,219.6 L383.6,221.0 L383.4,222.5 L383.5,224.0 L383.7,225.5 L383.9,226.9 L384.3,228.3 L384.7,229.6 L385.2,230.9 L385.7,232.1 L386.3,233.3 L387.0,234.4 L387.7,235.4 L388.5,236.3 L389.4,237.1 L390.4,237.8 L391.3,238.4 L392.4,238.9 L393.4,239.3 L394.5,239.5 L395.6,239.7 L396.7,239.7 L397.9,239.7 L399.0,239.6 L400.2,239.4 L401.4,239.1 L402.6,238.7 L404.0,238.3 L405.4,237.8 L406.8,237.2 L408.3,236.5 L409.9,235.8 L411.5,235.0 L413.0,234.1 L414.6,233.2 L416.1,232.3 L417.6,231.4 L419.0,230.5 L420.4,229.6 L421.7,228.6 L423.1,227.5 L424.4,226.4 L425.7,225.2 L426.9,224.0 L428.1,222.8 L429.3,221.6 L430.3,220.6 L431.3,219.6 L432.1,218.7 L432.8,217.9 L433.4,217.4 L430.8,214.6 L430.2,215.2 L429.4,216.0 L428.5,216.9 L427.6,217.9 L426.5,219.0 L425.4,220.1 L424.3,221.3 L423.1,222.4 L421.8,223.5 L420.6,224.6 L419.4,225.6 L418.2,226.4 L417.0,227.3 L415.6,228.1 L414.1,228.9 L412.7,229.8 L411.1,230.6 L409.6,231.3 L408.1,232.1 L406.6,232.7 L405.2,233.3 L403.9,233.8 L402.7,234.2 L401.6,234.5 L400.6,234.6 L399.6,234.7 L398.7,234.7 L397.9,234.6 L397.2,234.5 L396.6,234.3 L396.0,234.1 L395.5,233.8 L395.1,233.5 L394.7,233.2 L394.4,232.9 L394.2,232.5 L393.9,232.0 L393.7,231.5 L393.6,230.9 L393.4,230.2 L393.2,229.4 L393.1,228.6 L393.0,227.7 L393.0,226.8 L393.0,225.9 L393.1,225.0 L393.2,224.0 L393.4,223.1 L393.5,222.1 L393.6,221.1 L393.8,220.1 L394.0,219.0 L394.3,217.8 L394.7,216.6 L395.1,215.3 L395.6,214.0 L396.1,212.5 L396.7,211.0 L397.4,209.4 L398.1,207.7 L398.9,206.0 L399.8,204.1 L400.8,202.0 L401.9,199.9 L403.0,197.7 L404.2,195.4 L405.4,193.1 L406.7,190.9 L407.9,188.6 L409.1,186.3 L410.2,184.1 L411.2,182.0 L412.2,180.0 L413.2,177.9 L414.3,175.7 L415.3,173.6 L416.2,171.5 L417.2,169.5 L418.1,167.5 L419.0,165.6 L419.7,163.8 L420.4,162.2 L421.0,160.8 L421.6,159.5 L421.9,158.4 L422.1,157.4 L422.2,156.5 L422.2,155.6 L422.1,154.7 L421.8,153.8 L421.2,152.9 L420.6,152.3 L420.2,152.2 L420.4,152.6 L420.7,153.5 L420.7,153.9 Z" fill="#000"/>
<circle cx="418.5" cy="154" r="2.18" fill="#000"/>
<circle cx="432.1" cy="216" r="1.90" fill="#000"/>
<path d="M389.6,190.7 L390.6,190.9 L391.8,191.2 L393.2,191.6 L394.9,192.0 L396.7,192.5 L398.6,192.9 L400.5,193.4 L402.6,193.8 L404.6,194.2 L406.6,194.6 L408.6,194.9 L410.5,195.1 L412.4,195.2 L414.3,195.3 L416.3,195.3 L418.3,195.2 L420.3,195.2 L422.3,195.1 L424.2,195.0 L426.0,194.8 L427.8,194.7 L429.5,194.5 L431.0,194.3 L432.4,194.2 L433.6,194.0 L434.6,193.8 L435.5,193.7 L436.4,193.5 L437.2,193.3 L438.0,193.1 L438.7,192.8 L439.4,192.5 L440.1,192.1 L440.8,191.6 L441.5,191.1 L442.2,190.4 L443.0,189.7 L443.7,189.0 L444.4,188.1 L445.0,187.3 L445.7,186.4 L446.3,185.4 L446.9,184.4 L447.5,183.4 L448.2,182.3 L448.8,181.2 L449.6,180.1 L450.3,178.9 L451.2,177.6 L452.2,176.3 L453.2,174.8 L454.2,173.2 L455.3,171.6 L456.4,170.0 L457.5,168.3 L458.6,166.7 L459.6,165.1 L460.6,163.6 L461.5,162.2 L462.4,160.9 L463.2,159.6 L463.9,158.4 L464.6,157.3 L465.2,156.2 L465.9,155.1 L466.5,154.1 L467.0,153.1 L467.5,152.2 L468.0,151.3 L468.4,150.4 L468.9,149.6 L469.2,148.8 L469.6,148.0 L470.0,147.3 L470.3,146.6 L470.6,146.0 L470.9,145.3 L471.1,144.7 L471.3,144.1 L471.5,143.5 L471.6,142.9 L471.7,142.2 L471.7,141.6 L471.7,140.9 L471.6,140.3 L471.4,139.7 L471.2,139.1 L470.9,138.4 L470.6,137.8 L470.1,137.1 L469.5,136.5 L468.7,135.9 L467.8,135.4 L466.6,135.2 L465.5,135.2 L464.4,135.4 L463.5,135.7 L462.6,136.1 L461.8,136.6 L460.9,137.1 L460.0,137.7 L459.1,138.3 L458.2,139.1 L457.2,139.9 L456.3,140.7 L455.4,141.6 L454.5,142.6 L453.7,143.5 L452.9,144.6 L452.1,145.6 L451.4,146.7 L450.7,147.8 L450.0,148.9 L449.3,150.1 L448.7,151.4 L448.0,152.7 L447.3,154.1 L446.6,155.5 L445.9,157.0 L445.2,158.6 L444.4,160.3 L443.7,162.1 L442.9,164.0 L442.1,166.0 L441.3,168.1 L440.4,170.2 L439.6,172.4 L438.8,174.5 L438.0,176.7 L437.3,178.9 L436.5,181.0 L435.8,183.1 L435.2,185.2 L434.6,187.3 L434.0,189.3 L433.4,191.4 L432.8,193.5 L432.3,195.6 L431.8,197.6 L431.3,199.7 L430.8,201.8 L430.3,203.9 L429.9,205.9 L429.4,208.0 L429.0,210.2 L428.6,212.5 L428.3,214.8 L427.9,217.2 L427.6,219.6 L427.3,221.9 L427.0,224.2 L426.7,226.3 L426.5,228.2 L426.3,229.9 L426.1,231.4 L425.9,232.5 L435.3,233.9 L435.4,232.7 L435.7,231.2 L435.9,229.5 L436.2,227.6 L436.5,225.5 L436.8,223.3 L437.2,221.0 L437.6,218.7 L438.0,216.4 L438.4,214.2 L438.8,212.0 L439.2,210.0 L439.6,208.0 L440.0,206.0 L440.5,204.0 L441.0,202.0 L441.4,200.0 L441.9,198.0 L442.5,196.0 L443.0,194.0 L443.6,192.1 L444.1,190.1 L444.7,188.1 L445.4,186.1 L446.0,184.1 L446.6,182.0 L447.3,179.9 L448.0,177.8 L448.8,175.7 L449.5,173.6 L450.3,171.5 L451.0,169.5 L451.7,167.5 L452.5,165.6 L453.2,163.9 L453.8,162.2 L454.4,160.7 L455.0,159.2 L455.6,157.8 L456.1,156.5 L456.7,155.3 L457.2,154.2 L457.7,153.1 L458.2,152.1 L458.8,151.1 L459.3,150.2 L459.8,149.3 L460.3,148.5 L460.9,147.6 L461.4,146.9 L462.0,146.1 L462.7,145.3 L463.3,144.6 L463.9,144.0 L464.5,143.4 L465.1,142.9 L465.6,142.4 L466.1,142.0 L466.5,141.8 L466.6,141.6 L466.5,141.6 L466.2,141.6 L465.9,141.5 L465.7,141.3 L465.6,141.2 L465.6,141.2 L465.7,141.2 L465.8,141.3 L466.0,141.5 L466.1,141.6 L466.2,141.9 L466.3,142.1 L466.4,142.2 L466.5,142.4 L466.6,142.6 L466.6,142.9 L466.6,143.3 L466.6,143.6 L466.6,144.1 L466.5,144.6 L466.4,145.2 L466.2,145.8 L466.0,146.5 L465.8,147.2 L465.4,148.0 L465.1,148.8 L464.7,149.7 L464.3,150.6 L463.8,151.5 L463.4,152.4 L462.8,153.5 L462.3,154.5 L461.7,155.6 L461.0,156.7 L460.3,157.9 L459.6,159.1 L458.8,160.4 L457.9,161.9 L456.9,163.4 L455.9,164.9 L454.8,166.5 L453.7,168.2 L452.7,169.8 L451.6,171.4 L450.5,172.9 L449.5,174.4 L448.5,175.8 L447.7,177.1 L446.8,178.3 L446.0,179.4 L445.3,180.5 L444.6,181.6 L444.0,182.5 L443.3,183.5 L442.7,184.3 L442.1,185.1 L441.6,185.8 L441.0,186.5 L440.4,187.0 L439.8,187.6 L439.2,188.0 L438.6,188.4 L438.1,188.7 L437.7,188.9 L437.3,189.0 L436.8,189.2 L436.3,189.3 L435.6,189.4 L434.9,189.5 L434.0,189.6 L433.0,189.7 L431.8,189.8 L430.5,190.0 L429.0,190.2 L427.4,190.3 L425.7,190.5 L423.9,190.6 L422.0,190.7 L420.1,190.8 L418.2,190.9 L416.3,190.9 L414.4,190.9 L412.6,190.8 L410.9,190.7 L409.2,190.5 L407.3,190.3 L405.4,189.9 L403.5,189.6 L401.5,189.1 L399.6,188.7 L397.7,188.2 L395.9,187.8 L394.3,187.4 L392.9,187.0 L391.6,186.7 L390.6,186.5 Z" fill="#000"/>
<circle cx="390.1" cy="188.6" r="2.18" fill="#000"/>
<circle cx="430.6" cy="233.2" r="4.70" fill="#000"/>
<path d="M434.3,223.2 L435.0,222.3 L435.8,221.1 L436.8,219.7 L437.8,218.2 L439.0,216.5 L440.2,214.7 L441.4,212.9 L442.7,211.2 L443.9,209.5 L445.2,207.9 L446.3,206.5 L447.4,205.3 L448.5,204.2 L449.6,203.3 L450.7,202.3 L451.8,201.5 L452.9,200.7 L454.0,199.9 L455.1,199.2 L456.1,198.6 L457.2,198.0 L458.1,197.4 L459.0,197.0 L459.8,196.5 L460.6,196.1 L461.3,195.8 L461.9,195.6 L462.4,195.4 L462.8,195.3 L463.0,195.3 L463.1,195.3 L463.0,195.4 L462.8,195.5 L462.5,195.5 L462.4,195.5 L462.4,195.6 L462.5,195.9 L462.7,196.2 L462.9,196.7 L463.1,197.2 L463.3,197.8 L463.5,198.4 L463.6,199.1 L463.7,199.8 L463.8,200.5 L463.8,201.2 L463.7,201.9 L463.6,202.7 L463.5,203.5 L463.3,204.5 L462.9,205.8 L462.5,207.2 L462.0,208.8 L461.4,210.4 L460.8,212.1 L460.3,213.8 L459.7,215.4 L459.2,217.1 L458.8,218.7 L458.5,220.2 L458.5,221.6 L458.5,222.8 L458.5,223.9 L458.6,225.0 L458.8,226.1 L459.0,227.2 L459.2,228.3 L459.6,229.3 L460.1,230.3 L460.6,231.2 L461.3,232.1 L462.1,232.9 L462.9,233.7 L463.9,234.3 L464.9,234.9 L465.9,235.4 L467.0,235.8 L468.2,236.2 L469.3,236.4 L470.5,236.6 L471.6,236.7 L472.7,236.7 L473.8,236.5 L474.9,236.2 L475.9,235.9 L476.8,235.3 L477.7,234.7 L478.4,234.0 L479.1,233.3 L479.8,232.4 L480.4,231.6 L481.1,230.7 L481.7,229.8 L482.3,228.9 L482.9,228.0 L483.6,227.1 L484.2,226.1 L485.0,224.9 L485.7,223.7 L486.5,222.3 L487.3,221.0 L488.0,219.7 L488.8,218.4 L489.5,217.1 L490.1,216.0 L490.7,214.9 L491.1,214.1 L491.5,213.4 L488.7,211.8 L488.3,212.4 L487.8,213.3 L487.2,214.3 L486.5,215.4 L485.8,216.6 L485.0,217.9 L484.2,219.2 L483.4,220.5 L482.6,221.7 L481.9,222.9 L481.1,224.0 L480.4,224.9 L479.8,225.8 L479.2,226.8 L478.5,227.7 L478.0,228.5 L477.4,229.3 L476.8,230.1 L476.3,230.8 L475.7,231.3 L475.2,231.8 L474.7,232.2 L474.3,232.4 L473.9,232.6 L473.4,232.5 L472.9,232.4 L472.2,232.3 L471.5,232.0 L470.8,231.7 L470.0,231.3 L469.3,230.9 L468.7,230.4 L468.1,229.9 L467.6,229.5 L467.3,229.0 L467.1,228.7 L467.1,228.3 L467.0,228.0 L467.0,227.7 L467.1,227.3 L467.1,226.9 L467.2,226.4 L467.3,225.9 L467.4,225.2 L467.6,224.5 L467.8,223.6 L468.1,222.7 L468.3,221.8 L468.5,220.8 L468.7,219.6 L469.1,218.3 L469.5,216.8 L470.1,215.2 L470.6,213.5 L471.1,211.8 L471.7,210.0 L472.1,208.3 L472.5,206.6 L472.8,204.8 L473.0,203.1 L472.9,201.6 L472.6,200.1 L472.3,198.7 L471.9,197.5 L471.4,196.3 L470.8,195.2 L470.2,194.2 L469.5,193.3 L468.9,192.5 L468.2,191.8 L467.5,191.1 L466.8,190.6 L466.0,190.1 L465.1,189.7 L464.1,189.4 L463.1,189.4 L462.1,189.5 L461.3,189.8 L460.6,190.1 L460.0,190.5 L459.3,190.9 L458.7,191.3 L458.1,191.8 L457.4,192.3 L456.5,192.8 L455.7,193.4 L454.7,194.0 L453.7,194.8 L452.6,195.5 L451.5,196.4 L450.3,197.3 L449.2,198.2 L448.0,199.2 L446.8,200.3 L445.7,201.5 L444.6,202.7 L443.4,204.1 L442.2,205.6 L441.0,207.3 L439.7,209.1 L438.5,210.9 L437.3,212.8 L436.1,214.6 L435.0,216.3 L433.9,217.9 L433.0,219.3 L432.3,220.5 L431.7,221.4 Z" fill="#000"/>
<circle cx="433" cy="222.3" r="1.62" fill="#000"/>
<circle cx="490.1" cy="212.6" r="1.62" fill="#000"/>
<path d="M535.5,148.5 L536.3,148.1 L537.4,147.6 L538.5,147.1 L539.9,146.5 L541.3,145.8 L542.8,145.2 L544.4,144.5 L546.0,143.9 L547.5,143.3 L549.1,142.7 L550.5,142.2 L551.9,141.8 L553.3,141.5 L554.7,141.2 L556.1,141.0 L557.5,140.7 L558.8,140.5 L560.2,140.4 L561.6,140.3 L562.9,140.2 L564.3,140.2 L565.6,140.2 L566.9,140.3 L568.3,140.5 L569.6,140.7 L571.0,141.1 L572.4,141.5 L573.9,141.9 L575.3,142.5 L576.7,143.0 L578.1,143.6 L579.4,144.2 L580.7,144.9 L581.9,145.7 L583.0,146.4 L584.0,147.2 L584.9,148.2 L585.9,149.2 L586.8,150.3 L587.7,151.5 L588.5,152.7 L589.3,154.0 L590.1,155.3 L590.7,156.5 L591.3,157.8 L591.7,159.0 L592.1,160.1 L592.3,161.0 L592.5,162.0 L592.6,162.9 L592.7,163.8 L592.7,164.7 L592.7,165.6 L592.5,166.5 L592.4,167.4 L592.1,168.2 L591.8,169.1 L591.4,169.9 L591.0,170.8 L590.5,171.5 L590.0,172.3 L589.4,173.2 L588.7,174.1 L587.8,175.0 L586.9,175.9 L585.8,176.8 L584.7,177.7 L583.6,178.5 L582.4,179.3 L581.2,180.1 L580.0,180.8 L578.9,181.5 L577.7,182.1 L576.5,182.5 L575.2,183.0 L573.8,183.4 L572.5,183.8 L571.0,184.1 L569.6,184.4 L568.2,184.7 L566.7,185.0 L565.3,185.3 L563.9,185.6 L562.5,185.9 L561.2,186.1 L559.8,186.3 L558.4,186.5 L557.0,186.7 L555.6,186.9 L554.2,187.1 L552.9,187.2 L551.6,187.4 L550.4,187.5 L549.4,187.6 L548.5,187.7 L547.8,187.8 L548.2,191.6 L548.9,191.5 L549.8,191.5 L550.8,191.4 L552.0,191.3 L553.2,191.2 L554.6,191.1 L556.0,191.0 L557.5,190.9 L558.9,190.7 L560.4,190.5 L561.9,190.4 L563.3,190.1 L564.6,190.0 L566.0,189.8 L567.5,189.6 L569.0,189.4 L570.5,189.2 L572.0,189.0 L573.5,188.7 L575.1,188.4 L576.6,188.0 L578.2,187.6 L579.7,187.1 L581.1,186.5 L582.6,185.9 L584.0,185.3 L585.4,184.6 L586.9,183.8 L588.3,183.0 L589.7,182.1 L591.1,181.2 L592.4,180.3 L593.6,179.2 L594.8,178.2 L595.9,177.0 L596.9,175.9 L597.7,174.6 L598.4,173.3 L599.0,172.0 L599.4,170.6 L599.8,169.2 L600.2,167.8 L600.4,166.4 L600.4,164.9 L600.4,163.4 L600.3,161.9 L600.1,160.4 L599.7,159.0 L599.1,157.5 L598.5,156.0 L597.7,154.6 L596.8,153.1 L595.8,151.7 L594.8,150.3 L593.7,148.9 L592.5,147.5 L591.3,146.3 L590.0,145.1 L588.7,144.0 L587.4,143.0 L586.0,142.0 L584.6,141.1 L583.1,140.4 L581.6,139.6 L580.0,139.0 L578.5,138.4 L576.8,137.9 L575.2,137.4 L573.6,137.0 L572.0,136.7 L570.5,136.4 L568.9,136.1 L567.4,135.9 L565.9,135.8 L564.4,135.7 L562.8,135.6 L561.3,135.7 L559.8,135.8 L558.3,135.9 L556.8,136.1 L555.3,136.3 L553.8,136.5 L552.4,136.7 L550.9,137.0 L549.3,137.3 L547.6,137.6 L545.9,138.0 L544.2,138.5 L542.4,139.0 L540.7,139.5 L539.1,140.0 L537.6,140.5 L536.2,140.9 L535.0,141.2 L533.9,141.5 L533.1,141.7 Z" fill="#000"/>
<circle cx="534.3" cy="145.1" r="3.58" fill="#000"/>
<circle cx="548" cy="189.7" r="1.90" fill="#000"/>
<path d="M557.1,140.1 L556.4,141.4 L555.4,143.2 L554.3,145.3 L553.1,147.6 L551.7,150.2 L550.3,152.9 L548.9,155.7 L547.5,158.6 L546.0,161.4 L544.7,164.3 L543.4,167.0 L542.3,169.6 L541.3,172.1 L540.4,174.6 L539.5,177.1 L538.6,179.6 L537.8,182.1 L537.0,184.5 L536.3,186.9 L535.6,189.3 L534.8,191.6 L534.1,193.9 L533.4,196.2 L532.7,198.4 L532.0,200.6 L531.2,202.9 L530.5,205.1 L529.8,207.4 L529.0,209.6 L528.3,211.8 L527.6,213.9 L527.0,216.0 L526.3,218.1 L525.7,220.0 L525.2,221.9 L524.6,223.7 L524.2,225.4 L523.8,227.1 L523.4,228.7 L523.1,230.2 L522.8,231.7 L522.5,233.1 L522.2,234.3 L522.0,235.5 L521.9,236.6 L521.7,237.5 L521.6,238.3 L521.4,238.9 L531.2,241.1 L531.3,240.3 L531.5,239.5 L531.8,238.5 L532.0,237.5 L532.2,236.4 L532.5,235.2 L532.8,233.9 L533.1,232.5 L533.5,231.1 L533.9,229.6 L534.3,228.1 L534.8,226.5 L535.2,224.9 L535.8,223.1 L536.4,221.2 L537.0,219.2 L537.7,217.2 L538.3,215.0 L539.0,212.9 L539.8,210.6 L540.5,208.4 L541.2,206.1 L542.0,203.9 L542.7,201.6 L543.4,199.3 L544.1,197.0 L544.8,194.6 L545.5,192.2 L546.1,189.9 L546.8,187.5 L547.6,185.1 L548.3,182.7 L549.0,180.3 L549.8,177.9 L550.7,175.6 L551.5,173.2 L552.4,170.8 L553.5,168.1 L554.6,165.3 L555.8,162.4 L557.1,159.5 L558.3,156.7 L559.5,153.9 L560.7,151.3 L561.8,148.9 L562.7,146.7 L563.5,144.8 L564.1,143.3 Z" fill="#000"/>
<circle cx="560.6" cy="141.7" r="3.86" fill="#000"/>
<circle cx="526.3" cy="240" r="4.98" fill="#000"/>
<path d="M542.7,192.0 L543.3,193.1 L543.9,194.4 L544.8,195.9 L545.7,197.7 L546.7,199.5 L547.8,201.5 L548.9,203.5 L550.0,205.6 L551.2,207.6 L552.3,209.6 L553.3,211.4 L554.3,213.2 L555.2,214.8 L556.2,216.3 L557.1,217.9 L558.0,219.4 L558.9,220.9 L559.7,222.4 L560.6,223.9 L561.5,225.3 L562.5,226.8 L563.4,228.2 L564.3,229.7 L565.3,231.1 L566.3,232.5 L567.4,233.9 L568.5,235.4 L569.6,236.9 L570.8,238.3 L571.9,239.7 L573.0,241.1 L574.1,242.4 L575.2,243.6 L576.2,244.8 L577.2,245.8 L578.2,246.8 L579.3,247.5 L580.5,248.1 L581.7,248.6 L582.9,248.8 L584.0,248.9 L585.0,248.8 L585.8,248.6 L586.4,248.4 L586.8,248.2 L587.0,248.1 L586.8,248.0 L586.7,247.9 L587.1,241.3 L586.5,241.2 L585.7,241.2 L585.2,241.2 L584.9,241.2 L584.7,241.2 L584.6,241.1 L584.6,241.0 L584.6,240.9 L584.6,240.8 L584.5,240.7 L584.3,240.4 L584.0,240.0 L583.3,239.5 L582.5,238.7 L581.6,237.8 L580.6,236.7 L579.6,235.5 L578.5,234.3 L577.4,232.9 L576.2,231.6 L575.1,230.2 L574.0,228.8 L572.9,227.4 L571.9,226.1 L570.9,224.9 L569.9,223.6 L568.9,222.3 L567.9,221.0 L566.9,219.7 L566.0,218.3 L565.0,216.9 L564.0,215.5 L563.0,214.1 L562.0,212.6 L560.9,211.1 L559.9,209.6 L558.8,208.0 L557.6,206.3 L556.3,204.4 L555.0,202.5 L553.8,200.6 L552.5,198.7 L551.2,196.8 L550.1,195.0 L549.0,193.4 L548.0,191.9 L547.2,190.7 L546.5,189.8 Z" fill="#000"/>
<circle cx="544.6" cy="190.9" r="2.18" fill="#000"/>
<circle cx="586.9" cy="244.6" r="3.30" fill="#000"/>
<path d="M599.7,218.6 L600.6,218.3 L601.9,217.9 L603.4,217.4 L605.1,216.9 L606.9,216.3 L608.9,215.7 L610.9,215.0 L612.8,214.2 L614.8,213.4 L616.6,212.6 L618.3,211.6 L619.8,210.6 L621.1,209.5 L622.4,208.3 L623.6,207.0 L624.7,205.7 L625.8,204.2 L626.7,202.8 L627.6,201.4 L628.4,199.9 L629.1,198.5 L629.6,197.2 L630.1,195.9 L630.4,194.7 L630.5,193.4 L630.3,192.2 L630.0,191.0 L629.6,189.9 L628.9,188.9 L628.2,188.0 L627.4,187.2 L626.5,186.5 L625.5,186.0 L624.4,185.6 L623.3,185.3 L622.1,185.2 L621.0,185.2 L619.8,185.2 L618.5,185.4 L617.1,185.6 L615.7,185.9 L614.2,186.4 L612.7,186.9 L611.2,187.5 L609.7,188.2 L608.2,189.0 L606.7,190.0 L605.3,191.0 L603.9,192.1 L602.4,193.4 L601.0,194.8 L599.5,196.3 L598.1,197.9 L596.6,199.6 L595.3,201.3 L593.9,203.0 L592.7,204.6 L591.5,206.3 L590.4,207.9 L589.5,209.4 L588.7,210.9 L588.0,212.3 L587.4,213.8 L586.8,215.3 L586.3,216.8 L585.8,218.3 L585.5,219.8 L585.3,221.3 L585.1,222.8 L585.1,224.3 L585.2,225.8 L585.4,227.4 L586.0,228.8 L586.8,230.3 L587.6,231.6 L588.6,232.8 L589.6,233.9 L590.7,235.0 L591.9,236.0 L593.1,236.9 L594.3,237.6 L595.6,238.3 L596.9,238.8 L598.2,239.2 L599.5,239.5 L600.8,239.6 L602.1,239.6 L603.4,239.5 L604.7,239.2 L606.0,238.9 L607.2,238.6 L608.5,238.1 L609.8,237.7 L611.0,237.2 L612.3,236.6 L613.6,236.1 L615.0,235.5 L616.4,234.9 L617.9,234.2 L619.4,233.5 L621.0,232.7 L622.5,231.9 L624.0,231.0 L625.6,230.1 L627.0,229.3 L628.5,228.4 L629.8,227.5 L631.1,226.7 L632.3,225.8 L633.6,224.8 L634.7,223.8 L635.9,222.8 L637.0,221.8 L638.1,220.8 L639.1,219.8 L640.0,218.9 L640.8,218.1 L641.6,217.4 L642.2,216.8 L642.7,216.3 L640.1,213.5 L639.6,214.0 L638.9,214.7 L638.1,215.4 L637.3,216.2 L636.4,217.1 L635.5,218.1 L634.4,219.0 L633.4,220.0 L632.3,220.9 L631.2,221.9 L630.1,222.7 L628.9,223.5 L627.7,224.3 L626.4,225.2 L625.1,226.0 L623.6,226.9 L622.2,227.7 L620.7,228.5 L619.2,229.3 L617.7,230.1 L616.3,230.8 L614.9,231.4 L613.5,232.0 L612.2,232.5 L610.9,232.9 L609.7,233.3 L608.4,233.7 L607.3,234.0 L606.1,234.2 L605.0,234.4 L604.0,234.5 L603.0,234.6 L602.1,234.5 L601.3,234.4 L600.6,234.3 L600.0,234.0 L599.4,233.6 L598.8,233.0 L598.1,232.4 L597.5,231.7 L596.8,230.9 L596.3,230.0 L595.7,229.2 L595.3,228.3 L595.0,227.4 L594.7,226.6 L594.6,225.9 L594.6,225.2 L594.5,224.6 L594.4,224.0 L594.4,223.2 L594.4,222.3 L594.5,221.4 L594.7,220.4 L595.0,219.4 L595.3,218.3 L595.7,217.1 L596.2,215.9 L596.7,214.7 L597.3,213.4 L597.9,212.0 L598.6,210.5 L599.5,208.9 L600.4,207.2 L601.4,205.5 L602.4,203.8 L603.5,202.1 L604.6,200.5 L605.7,198.9 L606.8,197.5 L607.9,196.3 L608.9,195.2 L609.9,194.3 L611.0,193.5 L612.2,192.8 L613.4,192.1 L614.6,191.5 L615.9,191.0 L617.1,190.6 L618.2,190.2 L619.3,189.9 L620.3,189.7 L621.2,189.6 L621.9,189.6 L622.4,189.7 L622.9,189.9 L623.4,190.1 L623.8,190.4 L624.2,190.8 L624.5,191.2 L624.7,191.6 L624.9,192.0 L625.0,192.5 L625.1,192.9 L625.1,193.4 L625.0,193.9 L624.9,194.6 L624.7,195.6 L624.4,196.7 L623.9,197.9 L623.4,199.1 L622.7,200.5 L622.0,201.8 L621.2,203.1 L620.3,204.4 L619.4,205.6 L618.4,206.6 L617.4,207.6 L616.3,208.4 L614.9,209.3 L613.2,210.1 L611.5,210.9 L609.6,211.7 L607.7,212.4 L605.8,213.0 L604.0,213.6 L602.3,214.2 L600.8,214.7 L599.5,215.2 L598.5,215.6 Z" fill="#000"/>
<circle cx="599.1" cy="217.1" r="1.62" fill="#000"/>
<circle cx="641.4" cy="214.9" r="1.90" fill="#000"/>
<path d="M643.0,215.9 L643.8,214.7 L644.9,213.0 L646.2,211.1 L647.6,209.0 L649.1,206.7 L650.7,204.2 L652.4,201.7 L654.1,199.1 L655.7,196.6 L657.3,194.1 L658.8,191.8 L660.2,189.6 L661.5,187.6 L662.8,185.6 L664.0,183.7 L665.3,181.8 L666.5,179.9 L667.7,178.0 L668.9,176.1 L670.0,174.3 L671.1,172.4 L672.2,170.5 L673.2,168.6 L674.3,166.7 L675.3,164.7 L676.3,162.6 L677.3,160.5 L678.3,158.3 L679.2,156.1 L680.1,154.0 L681.0,151.9 L681.8,149.9 L682.5,148.1 L683.1,146.4 L683.6,144.9 L684.1,143.6 L684.3,142.4 L684.5,141.4 L684.5,140.4 L684.4,139.4 L684.0,138.2 L683.1,137.2 L682.0,136.6 L681.0,136.4 L680.2,136.4 L679.6,136.5 L679.1,136.6 L678.6,136.7 L678.0,136.7 L677.3,136.8 L676.5,136.9 L675.6,137.1 L674.6,137.4 L673.6,137.8 L672.5,138.3 L671.4,138.9 L670.3,139.7 L669.2,140.5 L668.1,141.6 L667.0,142.7 L665.9,144.0 L664.9,145.5 L663.8,147.0 L662.7,148.7 L661.6,150.5 L660.5,152.3 L659.5,154.2 L658.4,156.1 L657.3,158.0 L656.3,160.0 L655.3,161.8 L654.4,163.7 L653.5,165.5 L652.6,167.4 L651.8,169.2 L650.9,171.1 L650.1,172.9 L649.3,174.8 L648.5,176.8 L647.7,178.7 L647.0,180.7 L646.2,182.8 L645.4,184.9 L644.7,187.0 L643.9,189.3 L643.2,191.7 L642.5,194.2 L641.8,196.7 L641.1,199.3 L640.4,201.8 L639.7,204.4 L639.1,206.8 L638.5,209.2 L637.8,211.5 L637.2,213.7 L636.6,215.7 L636.1,217.5 L635.5,219.3 L635.0,221.0 L634.5,222.6 L634.0,224.2 L633.4,225.7 L632.9,227.2 L632.5,228.7 L632.0,230.1 L631.5,231.6 L631.0,233.0 L630.5,234.5 L630.1,236.0 L629.6,237.5 L629.2,238.9 L628.8,240.3 L628.3,241.8 L627.9,243.1 L627.5,244.5 L627.2,245.8 L626.8,247.1 L626.4,248.4 L626.1,249.6 L625.8,250.7 L625.5,251.8 L625.3,252.9 L625.0,254.0 L624.8,255.0 L624.6,256.0 L624.3,257.1 L624.1,258.1 L624.0,259.0 L623.8,260.0 L623.7,261.0 L623.7,261.9 L623.7,262.9 L623.8,263.8 L624.0,264.7 L624.3,265.6 L624.6,266.4 L624.9,267.1 L625.4,267.7 L625.8,268.3 L626.4,268.9 L627.0,269.3 L627.6,269.7 L628.3,270.0 L629.2,270.2 L629.9,270.2 L630.6,270.1 L631.2,269.8 L631.8,269.5 L632.3,269.2 L632.9,268.7 L633.3,268.3 L633.8,267.7 L634.3,267.1 L634.7,266.5 L635.2,265.7 L635.6,265.0 L636.1,264.1 L636.6,263.2 L637.1,262.2 L637.6,261.1 L638.2,260.0 L638.7,258.8 L639.2,257.5 L639.8,256.2 L640.3,254.8 L640.8,253.4 L641.3,252.0 L641.8,250.6 L642.3,249.1 L642.7,247.6 L643.2,246.0 L643.6,244.4 L644.0,242.8 L644.4,241.1 L644.8,239.4 L645.2,237.6 L645.6,235.8 L646.0,234.1 L646.4,232.2 L646.9,230.4 L647.3,228.5 L647.8,226.4 L648.3,224.1 L648.8,221.8 L649.3,219.5 L649.8,217.2 L650.3,214.9 L650.7,212.8 L651.2,210.8 L651.5,209.1 L651.9,207.6 L652.1,206.4 L647.9,205.6 L647.6,206.7 L647.4,208.2 L647.0,210.0 L646.7,212.0 L646.2,214.1 L645.8,216.3 L645.4,218.7 L644.9,221.0 L644.4,223.3 L644.0,225.5 L643.6,227.6 L643.1,229.6 L642.7,231.4 L642.3,233.2 L641.9,235.0 L641.5,236.8 L641.1,238.5 L640.7,240.2 L640.3,241.8 L639.9,243.4 L639.5,245.0 L639.1,246.5 L638.6,248.0 L638.2,249.4 L637.7,250.8 L637.3,252.1 L636.8,253.5 L636.3,254.8 L635.7,256.0 L635.2,257.2 L634.7,258.4 L634.2,259.5 L633.7,260.5 L633.2,261.4 L632.8,262.3 L632.4,263.0 L631.9,263.7 L631.5,264.2 L631.2,264.7 L630.8,265.1 L630.5,265.4 L630.2,265.6 L630.0,265.8 L629.8,265.9 L629.7,265.9 L629.6,265.9 L629.7,265.9 L629.8,265.8 L630.1,265.8 L630.2,265.8 L630.3,265.7 L630.3,265.6 L630.2,265.4 L630.2,265.1 L630.2,264.8 L630.1,264.5 L630.1,264.2 L630.2,263.8 L630.2,263.5 L630.3,263.1 L630.4,262.7 L630.6,262.2 L630.8,261.6 L631.1,260.9 L631.4,260.1 L631.7,259.3 L632.1,258.4 L632.5,257.5 L632.9,256.5 L633.4,255.5 L633.8,254.4 L634.2,253.3 L634.6,252.1 L635.0,250.9 L635.4,249.7 L635.8,248.5 L636.2,247.2 L636.6,245.9 L637.1,244.5 L637.5,243.1 L638.0,241.7 L638.5,240.3 L639.0,238.9 L639.5,237.5 L640.0,236.1 L640.5,234.7 L641.0,233.3 L641.5,231.9 L642.0,230.4 L642.6,228.9 L643.1,227.4 L643.7,225.8 L644.3,224.1 L644.9,222.4 L645.5,220.5 L646.2,218.5 L646.8,216.4 L647.4,214.2 L648.1,211.8 L648.7,209.4 L649.4,206.9 L650.0,204.4 L650.7,201.9 L651.4,199.4 L652.1,196.9 L652.8,194.6 L653.4,192.3 L654.1,190.2 L654.8,188.1 L655.5,186.1 L656.2,184.1 L656.9,182.2 L657.6,180.3 L658.3,178.5 L659.0,176.6 L659.7,174.8 L660.5,173.1 L661.3,171.3 L662.0,169.5 L662.8,167.7 L663.7,165.9 L664.5,164.0 L665.4,162.0 L666.3,160.1 L667.2,158.2 L668.1,156.4 L669.0,154.6 L669.9,152.9 L670.7,151.3 L671.6,149.8 L672.3,148.6 L673.0,147.5 L673.7,146.6 L674.3,145.8 L674.9,145.2 L675.5,144.6 L676.1,144.1 L676.6,143.7 L677.2,143.3 L677.7,143.0 L678.3,142.7 L678.7,142.5 L679.2,142.3 L679.6,142.1 L680.1,142.0 L680.4,141.9 L680.6,141.9 L680.6,141.9 L680.3,141.8 L679.7,141.5 L679.2,141.0 L679.1,140.6 L679.0,140.5 L679.0,140.8 L678.9,141.4 L678.7,142.2 L678.5,143.4 L678.1,144.8 L677.6,146.4 L677.0,148.2 L676.3,150.1 L675.6,152.2 L674.8,154.3 L673.9,156.5 L673.0,158.6 L672.1,160.7 L671.2,162.8 L670.3,164.7 L669.4,166.6 L668.5,168.4 L667.4,170.3 L666.4,172.1 L665.3,174.0 L664.2,175.9 L663.1,177.7 L661.9,179.6 L660.7,181.6 L659.5,183.5 L658.3,185.5 L657.0,187.6 L655.6,189.7 L654.1,192.1 L652.5,194.5 L650.9,197.0 L649.2,199.6 L647.6,202.1 L645.9,204.6 L644.4,206.9 L643.0,209.0 L641.7,211.0 L640.7,212.6 L639.8,213.9 Z" fill="#000"/>
<circle cx="641.4" cy="214.9" r="1.90" fill="#000"/>
<circle cx="650" cy="206" r="2.18" fill="#000"/>
<path d="M648.1,204.7 L648.2,205.2 L648.4,205.9 L648.7,206.6 L648.9,207.5 L649.3,208.4 L649.6,209.4 L650.0,210.4 L650.4,211.4 L650.8,212.5 L651.2,213.5 L651.6,214.6 L652.1,215.5 L652.6,216.4 L653.1,217.3 L653.7,218.2 L654.3,219.2 L654.9,220.2 L655.5,221.1 L656.1,222.0 L656.8,222.9 L657.4,223.8 L658.1,224.6 L658.8,225.4 L659.6,226.0 L660.3,226.6 L661.1,227.1 L661.9,227.4 L662.7,227.7 L663.5,227.9 L664.3,228.0 L665.0,228.0 L665.7,228.0 L666.3,227.9 L667.0,227.9 L667.6,227.8 L668.2,227.7 L669.0,227.5 L669.8,227.3 L670.6,227.1 L671.4,226.8 L672.2,226.5 L673.0,226.2 L673.7,225.9 L674.4,225.6 L675.0,225.3 L675.6,225.0 L676.0,224.8 L676.4,224.7 L675.0,221.1 L674.6,221.2 L674.1,221.4 L673.5,221.6 L672.9,221.9 L672.2,222.1 L671.5,222.4 L670.8,222.6 L670.1,222.9 L669.4,223.1 L668.8,223.2 L668.3,223.3 L667.8,223.3 L667.2,223.3 L666.7,223.3 L666.2,223.3 L665.7,223.3 L665.3,223.2 L665.0,223.1 L664.7,223.0 L664.4,222.9 L664.1,222.7 L663.8,222.5 L663.5,222.3 L663.2,222.0 L662.9,221.6 L662.5,221.0 L662.1,220.4 L661.6,219.7 L661.1,218.9 L660.6,218.0 L660.2,217.1 L659.7,216.2 L659.2,215.2 L658.8,214.3 L658.3,213.3 L657.9,212.5 L657.5,211.7 L657.0,210.8 L656.5,209.9 L656.1,209.0 L655.6,208.0 L655.2,207.1 L654.8,206.2 L654.4,205.3 L654.0,204.5 L653.7,203.8 L653.4,203.2 L653.1,202.7 Z" fill="#000"/>
<circle cx="650.6" cy="203.7" r="2.74" fill="#000"/>
<circle cx="675.7" cy="222.9" r="1.90" fill="#000"/>
<path d="M676.6,224.6 L677.4,224.2 L678.4,223.7 L679.6,223.1 L681.0,222.4 L682.5,221.6 L684.1,220.9 L685.7,220.0 L687.4,219.1 L689.1,218.2 L690.8,217.2 L692.4,216.3 L693.9,215.3 L695.5,214.3 L697.1,213.3 L698.8,212.3 L700.5,211.2 L702.3,210.0 L704.0,208.8 L705.7,207.6 L707.2,206.4 L708.7,205.2 L710.1,204.0 L711.3,202.8 L712.3,201.5 L713.0,200.1 L713.6,198.7 L714.0,197.3 L714.2,195.9 L714.2,194.5 L714.1,193.1 L713.8,191.8 L713.4,190.6 L712.9,189.4 L712.2,188.3 L711.3,187.4 L710.3,186.6 L709.2,185.9 L707.9,185.4 L706.6,184.9 L705.2,184.6 L703.6,184.4 L702.0,184.2 L700.3,184.2 L698.6,184.3 L696.8,184.5 L695.1,184.9 L693.3,185.4 L691.7,186.2 L689.9,187.0 L688.2,188.0 L686.4,189.2 L684.6,190.6 L682.9,192.0 L681.1,193.6 L679.4,195.2 L677.7,196.8 L676.1,198.5 L674.6,200.1 L673.3,201.7 L672.0,203.3 L671.0,204.9 L670.0,206.5 L669.1,208.2 L668.4,209.8 L667.7,211.5 L667.1,213.2 L666.6,214.9 L666.1,216.5 L665.8,218.2 L665.5,219.8 L665.4,221.3 L665.3,222.9 L665.5,224.4 L665.8,225.9 L666.2,227.4 L666.7,228.9 L667.3,230.3 L668.0,231.6 L668.8,232.9 L669.7,234.1 L670.7,235.2 L671.8,236.2 L673.0,237.1 L674.3,237.8 L675.7,238.4 L677.1,238.8 L678.6,239.2 L680.2,239.4 L681.8,239.5 L683.5,239.6 L685.1,239.6 L686.8,239.5 L688.5,239.3 L690.1,239.1 L691.7,238.8 L693.3,238.5 L694.8,238.1 L696.4,237.7 L698.0,237.1 L699.5,236.5 L701.1,235.8 L702.6,235.1 L704.2,234.3 L705.7,233.5 L707.1,232.7 L708.5,231.9 L709.8,231.0 L711.1,230.2 L712.4,229.2 L713.6,228.2 L714.8,227.1 L716.0,225.9 L717.1,224.8 L718.2,223.6 L719.2,222.5 L720.1,221.5 L720.9,220.5 L721.7,219.6 L722.3,218.9 L722.8,218.4 L720.0,215.8 L719.5,216.4 L718.8,217.1 L718.0,218.0 L717.2,219.0 L716.3,220.0 L715.4,221.1 L714.3,222.2 L713.3,223.3 L712.2,224.3 L711.1,225.3 L710.0,226.2 L708.9,227.0 L707.7,227.8 L706.5,228.6 L705.2,229.4 L703.8,230.2 L702.4,231.0 L701.0,231.7 L699.5,232.4 L698.1,233.0 L696.7,233.5 L695.2,234.0 L693.9,234.4 L692.5,234.7 L691.1,234.9 L689.7,235.0 L688.2,235.1 L686.7,235.1 L685.2,235.1 L683.7,235.0 L682.3,234.8 L681.0,234.5 L679.8,234.2 L678.7,233.9 L677.8,233.5 L677.1,233.0 L676.6,232.5 L676.1,231.9 L675.7,231.2 L675.4,230.4 L675.1,229.6 L674.8,228.7 L674.7,227.8 L674.5,226.8 L674.5,225.8 L674.5,224.8 L674.6,223.9 L674.7,222.9 L674.7,221.9 L674.8,220.8 L674.9,219.7 L675.1,218.5 L675.4,217.3 L675.8,216.0 L676.2,214.7 L676.7,213.4 L677.3,212.0 L677.9,210.7 L678.6,209.4 L679.4,208.1 L680.2,206.7 L681.2,205.2 L682.3,203.6 L683.5,201.9 L684.8,200.2 L686.2,198.6 L687.6,197.0 L689.0,195.5 L690.4,194.1 L691.8,192.9 L693.0,191.9 L694.1,191.0 L695.3,190.5 L696.5,190.1 L697.8,189.8 L699.1,189.5 L700.5,189.4 L701.8,189.4 L703.1,189.5 L704.3,189.6 L705.3,189.8 L706.3,190.1 L707.0,190.4 L707.5,190.6 L707.8,190.9 L708.1,191.3 L708.4,191.8 L708.7,192.4 L708.8,193.0 L708.9,193.8 L709.0,194.5 L708.9,195.3 L708.7,196.1 L708.5,197.0 L708.1,197.8 L707.7,198.5 L707.1,199.4 L706.3,200.4 L705.3,201.5 L704.1,202.7 L702.7,203.9 L701.2,205.1 L699.6,206.4 L698.0,207.6 L696.4,208.8 L694.8,210.0 L693.3,211.1 L691.9,212.1 L690.4,213.0 L688.9,214.0 L687.3,214.9 L685.6,215.8 L684.0,216.6 L682.4,217.5 L680.8,218.2 L679.3,219.0 L678.0,219.6 L676.7,220.2 L675.7,220.8 L674.8,221.2 Z" fill="#000"/>
<circle cx="675.7" cy="222.9" r="1.90" fill="#000"/>
<circle cx="721.4" cy="217.1" r="1.90" fill="#000"/>
<path d="M723.0,217.4 L723.3,216.2 L723.6,214.5 L724.0,212.6 L724.5,210.4 L725.0,208.1 L725.5,205.6 L726.0,203.1 L726.6,200.6 L727.1,198.3 L727.6,196.0 L728.1,194.1 L728.5,192.4 L729.0,191.0 L729.6,189.7 L730.1,188.4 L730.7,187.3 L731.2,186.2 L731.8,185.2 L732.3,184.4 L732.8,183.6 L733.2,182.9 L733.6,182.3 L733.9,181.7 L734.2,180.3 L729.6,177.5 L728.3,178.5 L727.8,179.1 L727.3,179.8 L726.8,180.6 L726.3,181.4 L725.8,182.4 L725.3,183.3 L724.9,184.3 L724.5,185.2 L724.2,186.3 L724.2,187.4 L724.4,188.5 L724.8,189.4 L725.4,190.2 L726.0,190.7 L726.6,191.0 L727.2,191.2 L727.6,191.4 L728.1,191.6 L728.5,191.7 L729.0,192.0 L729.5,192.2 L730.0,192.6 L730.7,193.2 L731.5,194.0 L732.3,194.7 L733.2,195.5 L734.1,196.3 L735.1,197.1 L736.0,197.9 L736.8,198.8 L737.5,199.6 L738.1,200.3 L738.6,201.0 L738.8,201.7 L739.1,202.3 L739.3,203.0 L739.4,203.8 L739.5,204.5 L739.6,205.2 L739.6,205.9 L739.6,206.7 L739.5,207.4 L739.3,208.1 L739.2,208.8 L738.9,209.5 L738.7,210.1 L738.5,210.6 L738.2,211.1 L737.7,211.9 L737.2,212.7 L736.5,213.5 L735.7,214.5 L734.9,215.4 L734.1,216.4 L733.2,217.5 L732.4,218.5 L731.6,219.7 L731.0,220.8 L730.6,221.9 L730.2,222.9 L729.9,223.9 L729.6,224.9 L729.3,225.9 L729.0,226.9 L728.9,228.0 L728.8,229.0 L728.7,230.1 L728.8,231.2 L729.1,232.3 L729.6,233.4 L730.3,234.4 L731.1,235.1 L732.0,235.7 L732.9,236.2 L733.8,236.5 L734.8,236.8 L735.8,236.9 L736.8,237.0 L737.9,237.0 L738.9,236.9 L740.0,236.7 L741.1,236.4 L742.2,236.1 L743.3,235.7 L744.4,235.2 L745.6,234.7 L746.8,234.1 L748.0,233.4 L749.3,232.7 L750.5,232.0 L751.7,231.3 L753.0,230.5 L754.2,229.8 L755.3,229.0 L756.5,228.2 L757.8,227.3 L759.2,226.4 L760.5,225.4 L761.9,224.3 L763.2,223.3 L764.4,222.3 L765.6,221.4 L766.7,220.5 L767.7,219.8 L768.5,219.1 L769.2,218.6 L766.8,215.6 L766.2,216.1 L765.3,216.8 L764.4,217.5 L763.3,218.4 L762.1,219.3 L760.8,220.3 L759.5,221.3 L758.2,222.3 L756.9,223.3 L755.6,224.2 L754.4,225.1 L753.3,225.8 L752.1,226.5 L750.9,227.2 L749.7,227.9 L748.5,228.6 L747.3,229.2 L746.1,229.8 L745.0,230.4 L743.9,230.9 L742.8,231.4 L741.8,231.7 L740.9,232.0 L740.1,232.2 L739.4,232.2 L738.7,232.2 L738.0,232.1 L737.4,231.9 L736.9,231.7 L736.4,231.5 L736.0,231.3 L735.7,231.0 L735.5,230.8 L735.4,230.6 L735.4,230.5 L735.6,230.6 L735.7,230.7 L735.8,230.6 L735.9,230.4 L736.0,230.1 L736.2,229.7 L736.5,229.1 L736.7,228.5 L737.1,227.8 L737.5,227.1 L737.9,226.4 L738.4,225.6 L738.8,225.0 L739.1,224.4 L739.6,223.7 L740.2,222.9 L740.9,222.1 L741.7,221.1 L742.5,220.1 L743.4,219.1 L744.2,218.0 L745.1,216.8 L745.9,215.5 L746.6,214.2 L747.1,212.7 L747.4,211.4 L747.5,210.1 L747.6,208.9 L747.6,207.6 L747.5,206.4 L747.3,205.2 L747.0,203.9 L746.7,202.8 L746.3,201.6 L745.8,200.5 L745.2,199.4 L744.6,198.3 L743.7,197.2 L742.8,196.2 L741.8,195.3 L740.7,194.4 L739.6,193.6 L738.4,192.8 L737.3,192.1 L736.3,191.4 L735.2,190.7 L734.3,190.2 L733.5,189.7 L732.8,189.2 L732.1,188.6 L731.4,188.1 L730.8,187.7 L730.2,187.3 L729.7,187.0 L729.4,186.8 L729.1,186.6 L729.1,186.5 L729.2,186.6 L729.4,186.8 L729.6,187.1 L729.6,187.4 L729.7,187.5 L729.8,187.3 L730.1,186.7 L730.5,186.1 L730.9,185.4 L731.4,184.7 L731.9,184.0 L732.4,183.5 L732.7,183.1 L732.9,183.0 L732.0,183.6 L727.6,180.9 L727.8,180.0 L727.9,180.3 L727.8,180.8 L727.7,181.5 L727.5,182.4 L727.2,183.4 L726.9,184.5 L726.6,185.8 L726.3,187.1 L725.9,188.5 L725.6,190.0 L725.3,191.6 L724.9,193.3 L724.4,195.3 L723.9,197.5 L723.4,199.9 L722.9,202.4 L722.3,204.9 L721.8,207.4 L721.3,209.8 L720.8,211.9 L720.4,213.9 L720.1,215.5 L719.8,216.8 Z" fill="#000"/>
<circle cx="721.4" cy="217.1" r="1.62" fill="#000"/>
<circle cx="768" cy="217.1" r="1.90" fill="#000"/>
<path d="M768.7,218.9 L769.7,218.4 L771.1,217.9 L772.6,217.3 L774.4,216.6 L776.3,215.8 L778.4,215.0 L780.4,214.2 L782.5,213.3 L784.5,212.4 L786.4,211.4 L788.1,210.5 L789.6,209.6 L791.0,208.7 L792.3,207.8 L793.6,206.9 L794.8,205.9 L796.0,204.9 L797.0,203.9 L798.0,202.8 L798.9,201.8 L799.8,200.7 L800.5,199.6 L801.1,198.5 L801.5,197.3 L801.8,196.0 L801.8,194.8 L801.7,193.5 L801.4,192.3 L801.0,191.1 L800.5,190.0 L799.9,188.9 L799.1,187.9 L798.3,187.0 L797.3,186.2 L796.3,185.6 L795.1,185.1 L793.9,184.7 L792.7,184.5 L791.4,184.4 L790.0,184.3 L788.5,184.4 L787.1,184.5 L785.5,184.8 L784.0,185.1 L782.5,185.5 L781.0,186.0 L779.5,186.6 L778.1,187.3 L776.7,188.0 L775.2,188.8 L773.8,189.6 L772.3,190.6 L770.9,191.7 L769.4,192.8 L768.0,194.1 L766.6,195.4 L765.3,196.8 L764.1,198.2 L762.9,199.7 L761.8,201.3 L760.9,203.0 L760.1,204.9 L759.4,206.8 L758.7,208.7 L758.1,210.7 L757.6,212.8 L757.2,214.8 L756.8,216.8 L756.5,218.8 L756.4,220.8 L756.3,222.6 L756.4,224.5 L756.9,226.3 L757.4,227.9 L758.1,229.5 L759.0,231.0 L759.9,232.4 L760.9,233.7 L761.9,234.8 L763.0,235.9 L764.2,236.8 L765.3,237.7 L766.5,238.4 L767.7,239.0 L769.0,239.5 L770.3,239.9 L771.6,240.2 L772.9,240.4 L774.3,240.4 L775.6,240.4 L777.0,240.2 L778.3,240.0 L779.7,239.7 L781.0,239.3 L782.3,238.9 L783.6,238.4 L784.9,237.8 L786.3,237.1 L787.6,236.3 L789.0,235.5 L790.4,234.5 L791.7,233.5 L793.0,232.5 L794.3,231.5 L795.6,230.5 L796.8,229.5 L797.9,228.6 L798.9,227.8 L799.9,226.9 L800.9,226.1 L801.8,225.3 L802.7,224.4 L803.5,223.6 L804.3,222.8 L805.0,222.0 L805.7,221.3 L806.4,220.5 L807.1,219.8 L807.7,219.0 L808.3,218.3 L808.9,217.6 L809.5,216.9 L810.1,216.1 L810.6,215.4 L811.1,214.7 L811.6,214.0 L812.0,213.4 L812.4,212.8 L812.8,212.3 L813.1,211.8 L813.3,211.4 L813.6,211.1 L810.4,208.9 L810.2,209.3 L809.9,209.7 L809.6,210.2 L809.2,210.7 L808.9,211.3 L808.5,211.9 L808.0,212.5 L807.6,213.2 L807.1,213.9 L806.6,214.5 L806.0,215.2 L805.5,215.9 L804.9,216.5 L804.2,217.2 L803.6,218.0 L802.9,218.7 L802.3,219.4 L801.5,220.2 L800.8,220.9 L800.0,221.7 L799.2,222.5 L798.3,223.3 L797.4,224.0 L796.5,224.8 L795.5,225.7 L794.3,226.6 L793.2,227.6 L792.0,228.6 L790.7,229.5 L789.4,230.5 L788.2,231.4 L786.9,232.3 L785.7,233.1 L784.5,233.8 L783.3,234.4 L782.2,234.8 L781.1,235.1 L780.0,235.4 L778.8,235.5 L777.7,235.7 L776.6,235.7 L775.5,235.7 L774.5,235.6 L773.5,235.5 L772.6,235.3 L771.8,235.0 L771.1,234.6 L770.5,234.2 L769.9,233.6 L769.2,233.0 L768.6,232.2 L768.1,231.4 L767.5,230.5 L767.0,229.5 L766.6,228.5 L766.3,227.5 L766.0,226.5 L765.8,225.5 L765.8,224.5 L765.8,223.5 L765.7,222.4 L765.7,221.1 L765.8,219.7 L765.9,218.1 L766.2,216.5 L766.5,214.8 L766.9,213.1 L767.3,211.4 L767.9,209.7 L768.4,208.2 L769.0,206.8 L769.6,205.5 L770.2,204.2 L770.8,203.0 L771.6,201.7 L772.5,200.4 L773.4,199.2 L774.4,198.0 L775.4,196.8 L776.5,195.7 L777.6,194.7 L778.7,193.7 L779.7,192.9 L780.7,192.1 L781.8,191.5 L782.9,191.0 L784.1,190.6 L785.3,190.2 L786.6,189.9 L787.8,189.7 L789.0,189.5 L790.1,189.4 L791.2,189.4 L792.1,189.5 L792.9,189.6 L793.5,189.7 L793.9,189.9 L794.3,190.2 L794.7,190.6 L795.2,191.1 L795.5,191.7 L795.8,192.3 L796.1,193.0 L796.3,193.6 L796.4,194.2 L796.4,194.9 L796.4,195.4 L796.3,195.9 L796.1,196.5 L795.9,197.2 L795.5,198.0 L795.0,198.9 L794.3,199.8 L793.6,200.7 L792.8,201.7 L791.9,202.7 L790.9,203.7 L789.8,204.6 L788.7,205.5 L787.6,206.4 L786.2,207.2 L784.7,208.1 L782.9,208.9 L781.0,209.8 L779.0,210.7 L776.9,211.5 L774.9,212.3 L773.0,213.1 L771.3,213.7 L769.7,214.4 L768.3,214.9 L767.3,215.3 Z" fill="#000"/>
<circle cx="768" cy="217.1" r="1.90" fill="#000"/>
<circle cx="812" cy="210" r="1.90" fill="#000"/>
<path d="M810.0,197.7 L809.7,198.5 L809.3,199.5 L808.9,200.7 L808.4,202.1 L807.8,203.5 L807.3,205.1 L806.7,206.7 L806.1,208.3 L805.5,210.0 L804.9,211.6 L804.3,213.1 L803.8,214.6 L803.3,216.1 L802.8,217.7 L802.3,219.3 L801.8,221.0 L801.3,222.6 L800.7,224.3 L800.2,225.8 L799.8,227.3 L799.3,228.7 L798.9,229.9 L798.6,231.0 L798.4,231.8 L806.2,234.4 L806.5,233.6 L806.9,232.6 L807.3,231.4 L807.8,230.0 L808.3,228.5 L808.9,227.0 L809.4,225.4 L810.0,223.7 L810.6,222.1 L811.1,220.4 L811.7,218.9 L812.2,217.4 L812.6,215.9 L813.1,214.3 L813.6,212.7 L814.1,211.0 L814.6,209.3 L815.1,207.7 L815.6,206.1 L816.1,204.6 L816.5,203.2 L816.8,202.0 L817.1,201.0 L817.4,200.1 Z" fill="#000"/>
<circle cx="813.7" cy="198.9" r="3.86" fill="#000"/>
<circle cx="802.3" cy="233.1" r="4.14" fill="#000"/>
<path d="M807.2,226.0 L808.1,225.1 L809.1,223.8 L810.3,222.4 L811.7,220.7 L813.2,219.0 L814.7,217.1 L816.3,215.2 L818.0,213.4 L819.6,211.6 L821.2,209.9 L822.7,208.4 L824.2,207.1 L825.6,206.0 L827.1,204.9 L828.6,203.8 L830.2,202.8 L831.7,201.8 L833.2,201.0 L834.7,200.2 L836.1,199.5 L837.4,198.9 L838.6,198.5 L839.6,198.2 L840.5,198.1 L841.2,198.2 L841.7,198.4 L842.2,198.6 L842.6,198.9 L842.9,199.2 L843.1,199.6 L843.3,199.9 L843.4,200.3 L843.5,200.7 L843.5,201.1 L843.4,201.5 L843.3,201.7 L843.3,202.0 L843.3,202.5 L843.1,203.3 L842.8,204.4 L842.3,205.6 L841.9,207.0 L841.3,208.4 L840.7,209.8 L840.2,211.3 L839.6,212.8 L839.1,214.3 L838.6,215.7 L838.4,217.0 L838.1,218.2 L837.8,219.5 L837.4,220.8 L837.1,222.1 L836.8,223.4 L836.5,224.8 L836.2,226.1 L836.0,227.4 L835.9,228.8 L836.0,230.2 L836.2,231.6 L836.6,232.8 L837.2,233.8 L837.9,234.8 L838.7,235.6 L839.6,236.4 L840.6,236.9 L841.6,237.4 L842.7,237.7 L843.8,237.8 L844.9,237.9 L846.0,237.8 L847.1,237.6 L848.3,237.4 L849.6,237.0 L851.0,236.6 L852.4,236.1 L853.9,235.5 L855.4,234.9 L856.9,234.2 L858.5,233.4 L859.9,232.6 L861.4,231.8 L862.7,231.0 L864.0,230.2 L865.2,229.3 L866.4,228.4 L867.5,227.3 L868.6,226.3 L869.6,225.2 L870.6,224.2 L871.6,223.1 L872.5,222.0 L873.4,221.0 L874.2,220.1 L875.0,219.2 L875.7,218.4 L876.4,217.6 L877.1,216.8 L877.7,216.1 L878.3,215.3 L878.9,214.6 L879.4,214.0 L879.8,213.4 L880.3,212.8 L880.6,212.3 L881.0,211.9 L881.2,211.5 L881.5,211.2 L878.5,208.8 L878.2,209.2 L877.9,209.6 L877.6,210.0 L877.2,210.5 L876.8,211.1 L876.4,211.7 L875.9,212.3 L875.4,213.0 L874.8,213.6 L874.2,214.3 L873.6,215.1 L872.9,215.8 L872.1,216.7 L871.3,217.6 L870.5,218.5 L869.7,219.5 L868.8,220.6 L867.8,221.6 L866.9,222.6 L865.9,223.6 L864.9,224.6 L863.9,225.5 L862.9,226.3 L861.8,227.0 L860.7,227.7 L859.4,228.4 L858.1,229.2 L856.7,229.8 L855.3,230.5 L853.8,231.1 L852.4,231.7 L851.0,232.2 L849.7,232.6 L848.6,232.9 L847.5,233.1 L846.7,233.2 L846.0,233.1 L845.3,233.0 L844.8,232.7 L844.4,232.5 L844.1,232.2 L843.9,231.9 L843.8,231.7 L843.7,231.4 L843.7,231.1 L843.7,230.8 L843.7,230.5 L843.8,230.2 L843.9,230.0 L844.0,229.5 L844.2,228.9 L844.4,228.0 L844.8,227.1 L845.2,226.0 L845.7,224.9 L846.2,223.7 L846.7,222.4 L847.2,221.1 L847.7,219.8 L848.2,218.5 L848.5,217.3 L848.9,216.1 L849.4,214.7 L849.9,213.3 L850.4,211.8 L851.0,210.2 L851.5,208.7 L852.0,207.1 L852.4,205.5 L852.6,203.9 L852.8,202.2 L852.7,200.5 L852.2,199.0 L851.5,197.6 L850.7,196.4 L849.8,195.4 L848.8,194.4 L847.6,193.6 L846.4,193.0 L845.0,192.6 L843.7,192.3 L842.3,192.3 L840.9,192.4 L839.5,192.7 L838.1,193.1 L836.7,193.7 L835.3,194.3 L833.8,195.1 L832.3,196.0 L830.8,197.0 L829.2,198.1 L827.7,199.2 L826.1,200.4 L824.6,201.7 L823.1,203.0 L821.6,204.3 L820.1,205.7 L818.5,207.3 L816.9,209.1 L815.3,211.0 L813.6,212.9 L812.0,214.9 L810.5,216.8 L809.0,218.6 L807.7,220.3 L806.5,221.7 L805.6,223.0 L804.8,224.0 Z" fill="#000"/>
<circle cx="806" cy="225" r="1.62" fill="#000"/>
<circle cx="880" cy="210" r="1.90" fill="#000"/>
<path d="M897.6,207.6 L897.8,207.3 L898.1,206.8 L898.5,206.1 L898.9,205.3 L899.5,204.4 L900.1,203.5 L900.6,202.5 L901.2,201.4 L901.6,200.2 L902.0,199.0 L902.2,197.7 L902.2,196.2 L901.8,195.1 L901.4,194.0 L900.9,193.1 L900.3,192.1 L899.5,191.2 L898.7,190.3 L897.8,189.5 L896.8,188.8 L895.7,188.3 L894.6,187.8 L893.3,187.6 L892.0,187.5 L890.8,187.5 L889.5,187.7 L888.2,187.9 L886.8,188.3 L885.3,188.8 L883.8,189.3 L882.3,190.0 L880.8,190.7 L879.4,191.6 L877.9,192.5 L876.5,193.5 L875.2,194.6 L873.9,195.8 L872.6,197.1 L871.3,198.5 L870.0,200.1 L868.8,201.7 L867.5,203.3 L866.4,205.0 L865.3,206.7 L864.3,208.4 L863.3,210.1 L862.4,211.7 L861.6,213.2 L861.0,214.8 L860.4,216.3 L859.9,217.9 L859.4,219.5 L859.0,221.1 L858.6,222.7 L858.4,224.3 L858.2,225.9 L858.2,227.6 L858.3,229.2 L858.5,230.9 L859.0,232.5 L859.8,234.0 L860.8,235.4 L861.9,236.6 L863.1,237.7 L864.3,238.7 L865.6,239.6 L867.0,240.4 L868.4,241.1 L869.9,241.7 L871.4,242.1 L872.9,242.5 L874.4,242.7 L875.9,242.8 L877.5,242.8 L879.0,242.7 L880.6,242.5 L882.2,242.2 L883.8,241.8 L885.4,241.3 L887.0,240.8 L888.5,240.2 L890.0,239.6 L891.4,239.0 L892.8,238.3 L894.2,237.7 L895.5,236.9 L896.8,236.1 L898.1,235.2 L899.4,234.3 L900.6,233.3 L901.8,232.3 L902.9,231.3 L904.0,230.4 L905.1,229.4 L906.0,228.6 L907.0,227.7 L907.9,226.8 L908.8,225.9 L909.7,225.0 L910.5,224.1 L911.3,223.1 L912.0,222.3 L912.7,221.4 L913.3,220.6 L913.9,219.9 L914.4,219.3 L914.8,218.7 L915.2,218.3 L912.2,215.9 L911.9,216.3 L911.4,216.9 L910.9,217.6 L910.3,218.3 L909.7,219.0 L909.1,219.9 L908.4,220.7 L907.7,221.6 L906.9,222.4 L906.1,223.3 L905.3,224.1 L904.4,224.9 L903.5,225.7 L902.5,226.6 L901.5,227.5 L900.4,228.5 L899.3,229.4 L898.2,230.3 L897.1,231.2 L895.9,232.1 L894.8,232.9 L893.6,233.6 L892.4,234.3 L891.2,234.9 L889.9,235.3 L888.6,235.8 L887.2,236.2 L885.7,236.6 L884.3,237.0 L882.8,237.2 L881.4,237.5 L880.0,237.6 L878.7,237.7 L877.5,237.6 L876.4,237.5 L875.4,237.3 L874.5,236.9 L873.6,236.4 L872.7,235.9 L871.8,235.2 L871.0,234.5 L870.2,233.7 L869.5,232.9 L868.9,232.1 L868.5,231.3 L868.1,230.6 L867.9,229.9 L867.8,229.3 L867.6,228.8 L867.5,228.1 L867.4,227.3 L867.4,226.4 L867.5,225.4 L867.6,224.3 L867.8,223.1 L868.1,221.8 L868.5,220.5 L868.9,219.2 L869.3,217.9 L869.8,216.6 L870.2,215.1 L870.8,213.6 L871.4,212.0 L872.1,210.4 L872.9,208.7 L873.7,207.0 L874.5,205.4 L875.4,203.8 L876.3,202.3 L877.2,200.9 L878.1,199.7 L879.0,198.6 L880.0,197.7 L881.0,196.8 L882.2,195.9 L883.4,195.2 L884.6,194.5 L885.8,193.8 L887.0,193.3 L888.2,192.8 L889.3,192.4 L890.4,192.2 L891.3,192.0 L892.0,191.9 L892.5,192.0 L892.9,192.2 L893.4,192.6 L893.8,193.0 L894.2,193.4 L894.6,194.0 L895.0,194.5 L895.2,195.1 L895.5,195.7 L895.6,196.3 L895.7,196.7 L895.6,197.0 L895.6,197.0 L895.5,197.2 L895.3,197.6 L894.9,198.2 L894.5,198.9 L894.0,199.7 L893.5,200.4 L892.9,201.2 L892.3,201.9 L891.8,202.6 L891.3,203.2 L891.0,203.8 Z" fill="#000"/>
<circle cx="894.3" cy="205.7" r="3.86" fill="#000"/>
<circle cx="913.7" cy="217.1" r="1.90" fill="#000"/>
<path d="M914.6,218.8 L915.4,218.4 L916.5,217.8 L917.7,217.2 L919.2,216.5 L920.7,215.8 L922.4,215.0 L924.1,214.1 L925.8,213.2 L927.4,212.3 L929.1,211.4 L930.6,210.5 L932.0,209.6 L933.3,208.7 L934.6,207.9 L936.0,206.9 L937.3,206.0 L938.7,205.0 L940.0,204.1 L941.2,203.1 L942.3,202.1 L943.4,201.0 L944.4,200.0 L945.2,198.9 L945.9,197.7 L946.3,196.4 L946.6,195.2 L946.6,193.9 L946.5,192.6 L946.3,191.4 L945.9,190.2 L945.4,189.1 L944.8,188.1 L944.0,187.1 L943.1,186.3 L942.0,185.6 L940.8,185.1 L939.7,184.7 L938.4,184.5 L937.0,184.3 L935.6,184.3 L934.1,184.3 L932.5,184.4 L930.9,184.6 L929.2,184.9 L927.5,185.3 L925.9,185.9 L924.2,186.5 L922.6,187.3 L921.0,188.1 L919.4,189.1 L917.7,190.2 L916.1,191.4 L914.4,192.8 L912.8,194.2 L911.1,195.6 L909.6,197.1 L908.1,198.7 L906.7,200.3 L905.4,201.8 L904.2,203.4 L903.3,205.1 L902.4,206.8 L901.6,208.5 L900.9,210.3 L900.2,212.1 L899.7,213.9 L899.3,215.7 L898.9,217.5 L898.7,219.3 L898.6,221.1 L898.6,222.9 L898.7,224.7 L899.3,226.4 L899.9,228.1 L900.7,229.7 L901.6,231.3 L902.5,232.8 L903.6,234.2 L904.8,235.5 L906.0,236.7 L907.3,237.8 L908.6,238.8 L910.0,239.6 L911.5,240.2 L913.0,240.7 L914.5,240.9 L916.1,241.0 L917.7,240.9 L919.2,240.7 L920.8,240.3 L922.3,239.9 L923.8,239.4 L925.3,238.9 L926.7,238.3 L928.0,237.8 L929.4,237.1 L930.7,236.5 L932.0,235.8 L933.3,235.0 L934.5,234.2 L935.8,233.3 L937.0,232.4 L938.2,231.4 L939.3,230.4 L940.4,229.4 L941.5,228.4 L942.6,227.4 L943.6,226.5 L944.7,225.4 L945.7,224.2 L946.7,223.0 L947.8,221.8 L948.7,220.5 L949.7,219.3 L950.6,218.1 L951.4,217.0 L952.2,215.9 L952.8,215.0 L953.4,214.2 L953.9,213.6 L951.3,211.6 L950.8,212.2 L950.2,213.0 L949.5,213.9 L948.7,214.9 L947.8,216.0 L946.9,217.1 L946.0,218.3 L945.0,219.5 L944.0,220.6 L943.0,221.8 L942.0,222.8 L941.0,223.7 L940.0,224.7 L939.0,225.6 L937.9,226.6 L936.8,227.6 L935.7,228.5 L934.6,229.4 L933.5,230.3 L932.4,231.1 L931.2,231.8 L930.1,232.5 L929.0,233.1 L927.8,233.7 L926.6,234.1 L925.3,234.5 L923.9,234.9 L922.6,235.3 L921.2,235.5 L919.9,235.8 L918.6,235.9 L917.4,236.0 L916.3,235.9 L915.3,235.8 L914.4,235.5 L913.7,235.2 L913.1,234.7 L912.4,234.0 L911.7,233.2 L911.1,232.2 L910.4,231.2 L909.8,230.1 L909.3,228.9 L908.8,227.7 L908.5,226.5 L908.2,225.4 L908.1,224.3 L908.1,223.3 L907.9,222.4 L907.9,221.3 L907.9,220.1 L908.0,218.8 L908.3,217.5 L908.5,216.1 L908.9,214.7 L909.4,213.3 L909.9,211.9 L910.5,210.6 L911.1,209.3 L911.8,208.0 L912.5,206.6 L913.3,205.2 L914.3,203.7 L915.4,202.2 L916.6,200.7 L917.8,199.2 L919.1,197.8 L920.4,196.4 L921.7,195.1 L923.0,194.0 L924.2,192.9 L925.4,192.1 L926.5,191.5 L927.8,190.9 L929.1,190.4 L930.4,190.1 L931.8,189.8 L933.1,189.6 L934.4,189.4 L935.6,189.4 L936.7,189.4 L937.7,189.4 L938.6,189.6 L939.2,189.7 L939.5,189.9 L939.9,190.2 L940.2,190.5 L940.6,191.0 L940.8,191.5 L941.0,192.0 L941.2,192.6 L941.3,193.3 L941.3,193.9 L941.2,194.4 L941.1,195.0 L940.9,195.5 L940.7,196.1 L940.2,196.8 L939.6,197.7 L938.8,198.6 L937.9,199.6 L936.9,200.5 L935.8,201.6 L934.7,202.6 L933.5,203.6 L932.2,204.6 L931.0,205.5 L929.8,206.4 L928.6,207.3 L927.1,208.1 L925.6,209.0 L924.0,209.9 L922.3,210.7 L920.7,211.6 L919.0,212.4 L917.5,213.1 L916.1,213.8 L914.8,214.4 L913.7,215.0 L912.8,215.4 Z" fill="#000"/>
<circle cx="913.7" cy="217.1" r="1.90" fill="#000"/>
<circle cx="952.6" cy="212.6" r="1.62" fill="#000"/>
<path d="M1042.7,172.4 L1043.0,172.0 L1043.5,171.6 L1044.2,171.0 L1045.0,170.2 L1046.0,169.5 L1047.0,168.6 L1048.0,167.6 L1049.0,166.6 L1050.0,165.5 L1051.0,164.3 L1051.8,162.9 L1052.5,161.5 L1052.9,160.1 L1053.2,158.7 L1053.5,157.3 L1053.6,155.9 L1053.7,154.4 L1053.7,153.0 L1053.6,151.5 L1053.5,150.1 L1053.2,148.7 L1052.9,147.3 L1052.4,146.0 L1051.8,144.8 L1051.1,143.7 L1050.2,142.8 L1049.3,141.9 L1048.3,141.2 L1047.3,140.5 L1046.2,139.9 L1045.0,139.4 L1043.8,139.0 L1042.6,138.8 L1041.3,138.5 L1040.0,138.4 L1038.7,138.4 L1037.4,138.3 L1036.0,138.3 L1034.6,138.4 L1033.1,138.5 L1031.5,138.7 L1029.9,139.0 L1028.2,139.3 L1026.6,139.8 L1024.9,140.4 L1023.2,141.0 L1021.5,141.9 L1019.9,142.8 L1018.3,143.8 L1016.6,145.0 L1015.0,146.3 L1013.3,147.7 L1011.7,149.1 L1010.1,150.7 L1008.5,152.3 L1006.9,154.1 L1005.4,155.8 L1003.9,157.6 L1002.4,159.4 L1001.1,161.3 L999.8,163.2 L998.5,165.1 L997.2,167.2 L996.1,169.2 L994.9,171.4 L993.8,173.5 L992.7,175.8 L991.7,178.0 L990.7,180.3 L989.8,182.6 L988.9,184.9 L988.1,187.2 L987.4,189.6 L986.7,192.0 L986.1,194.6 L985.5,197.2 L984.9,199.8 L984.4,202.4 L984.0,205.0 L983.6,207.6 L983.3,210.2 L983.1,212.6 L983.0,215.0 L983.0,217.3 L983.3,219.5 L983.7,221.7 L984.2,223.7 L984.8,225.7 L985.5,227.5 L986.2,229.3 L987.1,231.0 L988.0,232.6 L989.0,234.1 L990.0,235.5 L991.1,236.8 L992.3,238.0 L993.5,239.1 L994.9,240.1 L996.4,241.0 L997.9,241.7 L999.4,242.3 L1001.0,242.8 L1002.5,243.2 L1004.1,243.4 L1005.6,243.6 L1007.2,243.7 L1008.7,243.7 L1010.1,243.6 L1011.6,243.4 L1013.0,243.1 L1014.5,242.7 L1015.9,242.2 L1017.4,241.7 L1018.8,241.0 L1020.1,240.3 L1021.4,239.5 L1022.7,238.7 L1024.0,237.8 L1025.2,236.9 L1026.3,236.0 L1027.4,235.1 L1028.5,234.1 L1029.6,233.1 L1030.6,232.0 L1031.5,230.9 L1032.5,229.8 L1033.4,228.6 L1034.3,227.3 L1035.1,226.0 L1036.0,224.7 L1036.8,223.3 L1037.6,221.8 L1038.4,220.2 L1039.2,218.4 L1039.9,216.4 L1040.7,214.4 L1041.4,212.4 L1042.1,210.3 L1042.7,208.3 L1043.3,206.5 L1043.9,204.7 L1044.4,203.2 L1044.8,202.0 L1045.1,201.0 L1038.9,199.0 L1038.6,200.1 L1038.2,201.4 L1037.8,203.0 L1037.3,204.7 L1036.8,206.6 L1036.3,208.6 L1035.7,210.6 L1035.1,212.5 L1034.5,214.5 L1033.9,216.3 L1033.3,217.9 L1032.6,219.4 L1032.0,220.8 L1031.3,222.1 L1030.7,223.3 L1030.0,224.6 L1029.2,225.7 L1028.5,226.9 L1027.8,227.9 L1027.0,229.0 L1026.2,229.9 L1025.3,230.9 L1024.4,231.8 L1023.5,232.6 L1022.5,233.4 L1021.4,234.2 L1020.3,234.9 L1019.1,235.6 L1017.9,236.2 L1016.7,236.8 L1015.5,237.3 L1014.3,237.8 L1013.2,238.1 L1012.0,238.4 L1010.9,238.6 L1009.9,238.6 L1008.8,238.5 L1007.7,238.3 L1006.5,238.1 L1005.4,237.7 L1004.2,237.3 L1003.1,236.8 L1002.0,236.3 L1001.0,235.7 L1000.1,235.0 L999.3,234.3 L998.6,233.6 L997.9,232.8 L997.3,231.9 L996.7,230.9 L996.2,229.8 L995.6,228.6 L995.2,227.4 L994.7,226.0 L994.4,224.6 L994.1,223.2 L993.8,221.7 L993.6,220.1 L993.6,218.5 L993.6,216.9 L993.5,215.1 L993.5,213.2 L993.7,211.1 L993.9,208.8 L994.2,206.5 L994.5,204.1 L994.9,201.7 L995.4,199.3 L995.9,196.9 L996.5,194.5 L997.1,192.2 L997.7,190.0 L998.2,187.9 L998.9,185.7 L999.5,183.5 L1000.3,181.4 L1001.0,179.3 L1001.8,177.2 L1002.7,175.1 L1003.6,173.1 L1004.5,171.1 L1005.5,169.2 L1006.5,167.3 L1007.5,165.5 L1008.6,163.7 L1009.8,162.0 L1011.0,160.2 L1012.3,158.5 L1013.6,156.8 L1014.9,155.2 L1016.3,153.6 L1017.6,152.2 L1019.0,150.8 L1020.3,149.5 L1021.6,148.4 L1022.9,147.4 L1024.2,146.6 L1025.5,145.8 L1026.8,145.2 L1028.2,144.6 L1029.6,144.1 L1031.0,143.7 L1032.3,143.4 L1033.7,143.2 L1035.0,143.0 L1036.2,142.9 L1037.4,142.8 L1038.5,142.8 L1039.5,142.9 L1040.4,143.2 L1041.2,143.5 L1042.1,143.8 L1042.8,144.3 L1043.5,144.7 L1044.1,145.2 L1044.6,145.7 L1045.1,146.2 L1045.5,146.8 L1045.8,147.3 L1046.0,147.8 L1046.2,148.4 L1046.3,149.0 L1046.5,149.9 L1046.5,150.8 L1046.6,151.8 L1046.5,152.9 L1046.5,154.0 L1046.3,155.1 L1046.1,156.1 L1045.9,157.0 L1045.6,157.9 L1045.3,158.5 L1045.1,159.0 L1044.6,159.5 L1044.0,160.2 L1043.3,160.8 L1042.5,161.5 L1041.6,162.2 L1040.7,162.9 L1039.8,163.6 L1038.9,164.2 L1038.1,164.8 L1037.3,165.3 L1036.7,165.8 Z" fill="#000"/>
<circle cx="1039.7" cy="169.1" r="4.42" fill="#000"/>
<circle cx="1042" cy="200" r="3.30" fill="#000"/>
<path d="M1019.4,200.7 L1019.9,200.4 L1020.5,200.0 L1021.1,199.6 L1021.7,199.2 L1022.2,198.8 L1022.8,198.4 L1023.4,198.0 L1024.1,197.7 L1024.7,197.4 L1025.4,197.2 L1026.2,197.1 L1027.0,197.0 L1028.2,197.2 L1029.7,197.4 L1031.4,197.6 L1033.1,197.8 L1034.9,198.1 L1036.7,198.5 L1038.3,198.9 L1039.8,199.4 L1041.0,199.9 L1041.8,200.4 L1042.1,200.7 L1042.0,200.6 L1041.8,200.4 L1041.8,200.7 L1041.5,201.4 L1041.1,202.5 L1040.5,203.8 L1039.7,205.3 L1038.8,206.9 L1037.8,208.6 L1036.8,210.4 L1035.9,212.1 L1035.1,214.0 L1034.4,215.8 L1034.0,217.4 L1033.6,219.0 L1033.2,220.6 L1032.8,222.2 L1032.5,223.8 L1032.2,225.4 L1031.9,227.0 L1031.6,228.5 L1031.4,230.0 L1031.3,231.5 L1031.2,232.9 L1031.2,234.3 L1031.5,235.8 L1031.8,237.1 L1032.3,238.3 L1032.8,239.4 L1033.4,240.4 L1033.9,241.3 L1034.5,242.1 L1035.1,242.7 L1035.6,243.3 L1036.0,243.7 L1036.3,244.0 L1036.6,244.3 L1040.6,242.5 L1040.5,241.9 L1040.3,241.3 L1040.0,240.6 L1039.8,239.9 L1039.5,239.2 L1039.3,238.5 L1039.1,237.8 L1039.0,237.1 L1038.9,236.4 L1038.8,235.7 L1038.9,235.0 L1039.0,234.3 L1039.0,233.4 L1039.2,232.3 L1039.4,231.2 L1039.6,229.9 L1039.9,228.6 L1040.3,227.2 L1040.6,225.7 L1041.0,224.2 L1041.5,222.8 L1041.9,221.3 L1042.4,219.8 L1042.8,218.4 L1043.2,217.2 L1043.8,215.8 L1044.5,214.2 L1045.3,212.6 L1046.2,210.9 L1047.0,209.1 L1047.9,207.3 L1048.6,205.5 L1049.2,203.6 L1049.6,201.6 L1049.6,199.5 L1048.8,197.2 L1047.3,195.3 L1045.6,194.1 L1043.7,193.3 L1041.8,192.7 L1039.8,192.3 L1037.8,192.0 L1035.8,191.8 L1033.8,191.6 L1031.9,191.6 L1030.1,191.5 L1028.5,191.5 L1027.2,191.6 L1025.8,191.5 L1024.5,191.7 L1023.2,191.9 L1022.0,192.2 L1021.0,192.6 L1020.0,193.0 L1019.1,193.5 L1018.4,193.9 L1017.7,194.2 L1017.2,194.5 L1016.9,194.6 L1016.6,194.7 Z" fill="#000"/>
<circle cx="1018" cy="197.7" r="3.30" fill="#000"/>
<circle cx="1038.6" cy="243.4" r="2.18" fill="#000"/>
<path d="M1060.8,193.8 L1060.4,194.8 L1059.8,196.2 L1059.1,197.8 L1058.4,199.6 L1057.5,201.6 L1056.7,203.6 L1055.8,205.8 L1054.9,208.0 L1054.2,210.1 L1053.4,212.2 L1052.8,214.2 L1052.3,216.1 L1052.1,217.8 L1051.9,219.4 L1051.8,221.1 L1051.8,222.7 L1051.8,224.2 L1051.9,225.7 L1052.0,227.1 L1052.3,228.5 L1052.5,229.8 L1052.9,231.1 L1053.3,232.2 L1053.9,233.3 L1054.5,234.3 L1055.2,235.2 L1056.0,236.1 L1056.9,236.8 L1057.8,237.4 L1058.9,237.9 L1060.0,238.2 L1061.1,238.4 L1062.3,238.4 L1063.5,238.2 L1064.6,237.9 L1065.7,237.4 L1066.9,236.9 L1068.0,236.2 L1069.2,235.4 L1070.4,234.4 L1071.6,233.4 L1072.8,232.3 L1074.1,231.1 L1075.3,229.8 L1076.6,228.5 L1077.8,227.0 L1079.0,225.6 L1080.1,224.0 L1081.3,222.3 L1082.5,220.4 L1083.8,218.3 L1085.0,216.1 L1086.2,213.8 L1087.4,211.5 L1088.5,209.3 L1089.6,207.2 L1090.6,205.2 L1091.5,203.5 L1092.2,202.0 L1092.8,200.9 L1089.4,199.1 L1088.8,200.3 L1088.1,201.8 L1087.2,203.5 L1086.2,205.5 L1085.1,207.6 L1084.0,209.8 L1082.8,212.0 L1081.7,214.3 L1080.5,216.4 L1079.3,218.4 L1078.1,220.2 L1077.1,221.8 L1076.0,223.2 L1074.8,224.5 L1073.7,225.8 L1072.5,227.0 L1071.3,228.2 L1070.1,229.3 L1068.9,230.3 L1067.8,231.1 L1066.7,231.9 L1065.7,232.5 L1064.8,233.0 L1064.1,233.4 L1063.4,233.5 L1062.8,233.5 L1062.3,233.5 L1061.9,233.3 L1061.5,233.2 L1061.2,232.9 L1060.9,232.7 L1060.7,232.4 L1060.4,232.0 L1060.2,231.6 L1060.1,231.2 L1059.9,230.7 L1059.8,230.1 L1059.8,229.5 L1059.8,228.7 L1059.8,227.8 L1059.8,226.8 L1059.9,225.7 L1060.0,224.5 L1060.2,223.3 L1060.5,222.1 L1060.8,220.8 L1061.1,219.4 L1061.5,218.1 L1061.8,216.7 L1062.3,215.0 L1062.9,213.2 L1063.6,211.2 L1064.4,209.1 L1065.1,207.0 L1065.9,204.9 L1066.7,203.0 L1067.4,201.2 L1068.1,199.5 L1068.6,198.1 L1069.0,197.0 Z" fill="#000"/>
<circle cx="1064.9" cy="195.4" r="4.42" fill="#000"/>
<circle cx="1091.1" cy="200" r="1.90" fill="#000"/>
<path d="M1088.3,197.1 L1087.9,197.9 L1087.3,199.0 L1086.7,200.3 L1085.9,201.8 L1085.1,203.5 L1084.2,205.2 L1083.4,207.0 L1082.5,208.8 L1081.7,210.7 L1081.0,212.4 L1080.3,214.2 L1079.8,215.8 L1079.5,217.3 L1079.2,218.7 L1079.0,220.2 L1078.9,221.6 L1078.7,223.1 L1078.7,224.5 L1078.6,225.9 L1078.7,227.2 L1078.9,228.5 L1079.1,229.8 L1079.5,231.1 L1080.1,232.3 L1080.8,233.4 L1081.7,234.3 L1082.6,235.1 L1083.6,235.7 L1084.7,236.1 L1085.8,236.5 L1086.9,236.7 L1088.0,236.8 L1089.2,236.9 L1090.3,236.8 L1091.5,236.7 L1092.6,236.5 L1093.8,236.2 L1095.1,235.9 L1096.4,235.4 L1097.7,234.9 L1099.1,234.3 L1100.4,233.7 L1101.8,233.0 L1103.2,232.2 L1104.5,231.5 L1105.8,230.6 L1107.0,229.8 L1108.2,228.9 L1109.4,228.1 L1110.5,227.2 L1111.5,226.3 L1112.6,225.3 L1113.6,224.3 L1114.6,223.3 L1115.6,222.2 L1116.6,221.0 L1117.5,219.9 L1118.4,218.6 L1119.3,217.3 L1120.2,216.0 L1121.1,214.5 L1122.0,212.9 L1122.8,211.1 L1123.7,209.2 L1124.5,207.3 L1125.3,205.4 L1126.0,203.6 L1126.7,201.9 L1127.3,200.3 L1127.9,198.8 L1128.4,197.7 L1128.8,196.7 L1125.2,195.3 L1124.8,196.2 L1124.4,197.4 L1123.8,198.9 L1123.2,200.5 L1122.5,202.2 L1121.8,204.0 L1121.0,205.8 L1120.2,207.7 L1119.4,209.5 L1118.6,211.1 L1117.8,212.7 L1117.0,214.0 L1116.2,215.2 L1115.4,216.4 L1114.5,217.5 L1113.7,218.6 L1112.8,219.7 L1111.9,220.7 L1110.9,221.6 L1110.0,222.5 L1109.0,223.4 L1108.0,224.3 L1107.0,225.1 L1106.0,225.9 L1104.9,226.6 L1103.7,227.3 L1102.5,228.1 L1101.2,228.7 L1100.0,229.4 L1098.7,230.0 L1097.4,230.5 L1096.2,231.0 L1095.0,231.4 L1093.9,231.8 L1092.9,232.0 L1092.0,232.1 L1091.1,232.1 L1090.3,232.1 L1089.5,232.0 L1088.8,231.8 L1088.2,231.6 L1087.6,231.3 L1087.1,231.0 L1086.7,230.7 L1086.4,230.4 L1086.3,230.1 L1086.1,229.8 L1086.1,229.5 L1086.1,229.2 L1086.1,228.7 L1086.2,228.0 L1086.2,227.2 L1086.4,226.4 L1086.6,225.4 L1086.9,224.3 L1087.2,223.2 L1087.5,222.0 L1087.9,220.8 L1088.4,219.6 L1088.8,218.4 L1089.2,217.2 L1089.7,215.8 L1090.3,214.2 L1091.0,212.5 L1091.7,210.8 L1092.5,209.1 L1093.3,207.4 L1094.0,205.7 L1094.7,204.2 L1095.4,202.9 L1095.9,201.7 L1096.3,200.7 Z" fill="#000"/>
<circle cx="1092.3" cy="198.9" r="4.42" fill="#000"/>
<circle cx="1127" cy="196" r="1.90" fill="#000"/>
<path d="M1124.6,189.1 L1124.1,190.0 L1123.5,191.3 L1122.8,192.7 L1122.0,194.4 L1121.1,196.2 L1120.1,198.2 L1119.2,200.1 L1118.3,202.2 L1117.3,204.2 L1116.5,206.1 L1115.7,208.0 L1115.0,209.8 L1114.5,211.4 L1113.9,213.0 L1113.4,214.7 L1112.9,216.4 L1112.4,218.0 L1112.0,219.7 L1111.6,221.3 L1111.3,222.9 L1111.0,224.5 L1110.9,226.1 L1110.9,227.6 L1111.1,229.2 L1111.5,230.6 L1112.2,231.9 L1113.0,233.0 L1113.9,234.0 L1114.9,234.8 L1116.0,235.5 L1117.1,236.0 L1118.3,236.3 L1119.5,236.5 L1120.7,236.6 L1121.8,236.6 L1123.0,236.5 L1124.2,236.3 L1125.5,236.1 L1126.8,235.7 L1128.1,235.2 L1129.5,234.7 L1130.9,234.0 L1132.3,233.3 L1133.7,232.5 L1135.1,231.7 L1136.4,230.8 L1137.7,229.9 L1138.9,228.9 L1140.1,227.8 L1141.3,226.6 L1142.3,225.4 L1143.4,224.1 L1144.4,222.7 L1145.4,221.4 L1146.4,220.0 L1147.3,218.6 L1148.3,217.2 L1149.3,215.8 L1150.4,214.5 L1151.4,213.2 L1152.6,211.9 L1153.8,210.5 L1155.1,209.1 L1156.4,207.7 L1157.7,206.2 L1159.0,204.8 L1160.3,203.4 L1161.6,202.0 L1162.9,200.7 L1164.1,199.5 L1165.2,198.4 L1166.3,197.4 L1167.3,196.5 L1168.3,195.7 L1169.4,194.9 L1170.3,194.2 L1171.3,193.6 L1172.3,193.0 L1173.1,192.5 L1174.0,192.0 L1174.7,191.5 L1175.5,191.1 L1176.1,190.7 L1176.6,190.4 L1174.2,186.8 L1173.7,187.1 L1173.2,187.5 L1172.5,187.9 L1171.8,188.4 L1170.9,189.0 L1170.0,189.6 L1169.1,190.3 L1168.0,191.0 L1167.0,191.8 L1165.9,192.7 L1164.8,193.6 L1163.7,194.6 L1162.6,195.7 L1161.4,196.8 L1160.2,198.1 L1158.9,199.4 L1157.6,200.8 L1156.2,202.2 L1154.9,203.7 L1153.6,205.1 L1152.3,206.6 L1151.0,208.0 L1149.7,209.4 L1148.6,210.8 L1147.4,212.1 L1146.3,213.6 L1145.3,215.0 L1144.2,216.4 L1143.3,217.8 L1142.3,219.2 L1141.3,220.5 L1140.4,221.8 L1139.4,222.9 L1138.5,224.0 L1137.5,225.0 L1136.5,225.9 L1135.4,226.8 L1134.2,227.6 L1133.0,228.3 L1131.7,229.1 L1130.4,229.7 L1129.2,230.3 L1127.9,230.8 L1126.7,231.3 L1125.6,231.6 L1124.5,231.9 L1123.6,232.1 L1122.8,232.1 L1122.1,232.0 L1121.4,231.8 L1120.8,231.5 L1120.2,231.2 L1119.8,230.8 L1119.4,230.4 L1119.1,230.0 L1118.9,229.6 L1118.7,229.2 L1118.7,228.8 L1118.7,228.4 L1118.7,228.0 L1118.8,227.5 L1118.9,226.8 L1119.1,225.8 L1119.3,224.7 L1119.7,223.5 L1120.2,222.2 L1120.7,220.7 L1121.3,219.2 L1121.9,217.7 L1122.5,216.1 L1123.2,214.6 L1123.8,213.0 L1124.4,211.5 L1125.1,209.7 L1125.8,207.9 L1126.7,205.9 L1127.5,204.0 L1128.4,202.0 L1129.3,200.1 L1130.1,198.3 L1130.9,196.6 L1131.6,195.1 L1132.2,193.8 L1132.6,192.7 Z" fill="#000"/>
<circle cx="1128.6" cy="190.9" r="4.42" fill="#000"/>
<circle cx="1175.4" cy="188.6" r="2.18" fill="#000"/>
<path d="M1174.5,186.6 L1173.6,187.0 L1172.5,187.4 L1171.2,187.8 L1169.6,188.4 L1167.9,189.0 L1166.1,189.7 L1164.3,190.4 L1162.4,191.3 L1160.5,192.2 L1158.7,193.2 L1156.9,194.4 L1155.3,195.6 L1153.7,196.9 L1152.1,198.3 L1150.6,199.8 L1149.0,201.4 L1147.5,203.1 L1146.0,204.9 L1144.6,206.7 L1143.2,208.5 L1142.0,210.3 L1140.9,212.0 L1139.9,213.8 L1139.0,215.5 L1138.5,217.4 L1138.1,219.2 L1138.0,221.0 L1137.9,222.8 L1138.0,224.5 L1138.2,226.2 L1138.6,227.8 L1139.0,229.3 L1139.5,230.7 L1140.0,232.0 L1140.7,233.2 L1141.5,234.3 L1142.5,235.3 L1143.7,236.1 L1145.0,236.6 L1146.3,237.0 L1147.5,237.1 L1148.8,237.1 L1150.0,237.0 L1151.2,236.8 L1152.3,236.5 L1153.5,236.1 L1154.6,235.7 L1155.7,235.1 L1156.8,234.6 L1158.0,234.0 L1159.2,233.3 L1160.4,232.6 L1161.7,231.7 L1162.9,230.8 L1164.1,229.8 L1165.4,228.8 L1166.6,227.7 L1167.8,226.5 L1168.9,225.4 L1170.0,224.2 L1171.1,222.9 L1172.3,221.4 L1173.4,219.8 L1174.6,218.1 L1175.7,216.4 L1176.8,214.7 L1177.8,213.0 L1178.8,211.4 L1179.6,209.9 L1180.4,208.6 L1181.1,207.6 L1181.6,206.7 L1178.4,204.7 L1177.8,205.6 L1177.2,206.7 L1176.4,208.0 L1175.5,209.4 L1174.6,211.0 L1173.5,212.7 L1172.5,214.3 L1171.4,216.0 L1170.3,217.6 L1169.2,219.1 L1168.2,220.5 L1167.2,221.6 L1166.2,222.7 L1165.1,223.7 L1163.9,224.7 L1162.8,225.7 L1161.6,226.6 L1160.5,227.5 L1159.3,228.3 L1158.2,229.0 L1157.1,229.7 L1156.0,230.2 L1155.0,230.7 L1154.1,231.1 L1153.2,231.2 L1152.3,231.3 L1151.4,231.4 L1150.6,231.4 L1149.9,231.3 L1149.2,231.1 L1148.6,230.9 L1148.2,230.7 L1147.9,230.4 L1147.8,230.1 L1147.7,229.9 L1147.7,229.7 L1147.6,229.4 L1147.4,228.8 L1147.2,228.0 L1147.0,227.2 L1146.8,226.2 L1146.8,225.2 L1146.7,224.1 L1146.8,223.0 L1146.9,221.9 L1147.1,220.8 L1147.4,219.7 L1147.8,218.7 L1148.2,217.4 L1148.7,216.0 L1149.3,214.4 L1150.1,212.7 L1151.1,211.0 L1152.1,209.2 L1153.2,207.4 L1154.3,205.7 L1155.5,204.0 L1156.6,202.5 L1157.8,201.0 L1158.9,199.8 L1160.1,198.7 L1161.5,197.7 L1163.0,196.8 L1164.7,195.9 L1166.4,195.0 L1168.1,194.2 L1169.7,193.5 L1171.3,192.8 L1172.8,192.2 L1174.2,191.6 L1175.4,191.1 L1176.3,190.6 Z" fill="#000"/>
<circle cx="1175.4" cy="188.6" r="2.18" fill="#000"/>
<circle cx="1180" cy="205.7" r="1.90" fill="#000"/>
<path d="M1206.8,138.9 L1206.3,140.1 L1205.6,141.6 L1204.9,143.3 L1204.1,145.3 L1203.2,147.4 L1202.2,149.6 L1201.3,151.9 L1200.2,154.3 L1199.2,156.7 L1198.1,159.1 L1197.1,161.4 L1196.1,163.7 L1195.0,165.9 L1193.9,168.2 L1192.7,170.5 L1191.5,172.9 L1190.3,175.4 L1189.0,177.9 L1187.8,180.3 L1186.5,182.8 L1185.3,185.2 L1184.2,187.6 L1183.1,190.0 L1182.1,192.2 L1181.2,194.4 L1180.3,196.6 L1179.5,198.7 L1178.7,200.8 L1177.9,202.8 L1177.2,204.9 L1176.5,206.9 L1175.9,208.8 L1175.3,210.7 L1174.8,212.6 L1174.4,214.4 L1174.0,216.2 L1173.9,217.9 L1173.8,219.5 L1173.7,221.1 L1173.8,222.7 L1173.9,224.2 L1174.1,225.6 L1174.4,227.0 L1174.8,228.4 L1175.2,229.7 L1175.8,230.9 L1176.6,232.0 L1177.5,233.0 L1178.6,234.0 L1179.7,234.7 L1181.0,235.2 L1182.2,235.5 L1183.5,235.7 L1184.8,235.8 L1186.1,235.7 L1187.4,235.6 L1188.7,235.3 L1189.9,235.0 L1191.1,234.5 L1192.3,234.0 L1193.6,233.3 L1194.8,232.4 L1195.9,231.3 L1197.1,230.2 L1198.3,229.0 L1199.4,227.7 L1200.4,226.5 L1201.4,225.3 L1202.3,224.2 L1203.1,223.3 L1203.8,222.5 L1204.3,221.9 L1201.5,219.3 L1200.9,219.9 L1200.2,220.7 L1199.3,221.7 L1198.4,222.7 L1197.4,223.8 L1196.3,225.0 L1195.3,226.1 L1194.2,227.2 L1193.1,228.2 L1192.1,229.0 L1191.2,229.6 L1190.5,230.0 L1189.7,230.2 L1188.8,230.4 L1187.9,230.5 L1187.0,230.5 L1186.1,230.4 L1185.3,230.3 L1184.5,230.1 L1183.8,229.9 L1183.3,229.6 L1182.9,229.3 L1182.6,229.0 L1182.5,228.8 L1182.5,228.4 L1182.4,228.0 L1182.3,227.4 L1182.3,226.8 L1182.3,226.0 L1182.4,225.1 L1182.5,224.1 L1182.6,223.0 L1182.8,221.9 L1183.1,220.6 L1183.4,219.4 L1183.8,218.0 L1184.1,216.7 L1184.5,215.2 L1185.0,213.6 L1185.5,211.9 L1186.1,210.2 L1186.8,208.4 L1187.5,206.5 L1188.3,204.5 L1189.1,202.6 L1190.0,200.5 L1190.8,198.4 L1191.7,196.4 L1192.6,194.2 L1193.6,192.0 L1194.7,189.7 L1195.8,187.3 L1197.0,184.9 L1198.2,182.4 L1199.4,179.9 L1200.6,177.4 L1201.8,175.0 L1203.0,172.5 L1204.1,170.1 L1205.1,167.7 L1206.1,165.4 L1207.1,162.9 L1208.1,160.5 L1209.1,158.0 L1210.1,155.5 L1211.0,153.1 L1211.8,150.8 L1212.6,148.7 L1213.4,146.7 L1214.0,145.0 L1214.6,143.5 L1215.0,142.3 Z" fill="#000"/>
<circle cx="1210.9" cy="140.6" r="4.42" fill="#000"/>
<circle cx="1202.9" cy="220.6" r="1.90" fill="#000"/>
<path d="M1203.6,222.4 L1204.4,222.1 L1205.4,221.7 L1206.6,221.3 L1208.0,220.8 L1209.5,220.2 L1211.0,219.6 L1212.7,219.0 L1214.4,218.4 L1216.1,217.7 L1217.7,216.9 L1219.4,216.2 L1220.9,215.4 L1222.4,214.6 L1224.0,213.8 L1225.6,213.0 L1227.3,212.1 L1228.9,211.2 L1230.6,210.2 L1232.2,209.3 L1233.8,208.3 L1235.2,207.3 L1236.6,206.3 L1237.9,205.2 L1239.1,204.2 L1240.1,203.1 L1241.0,202.0 L1241.8,200.8 L1242.5,199.6 L1243.1,198.4 L1243.7,197.2 L1244.1,196.0 L1244.4,194.8 L1244.6,193.6 L1244.7,192.4 L1244.6,191.2 L1244.3,190.0 L1243.7,188.9 L1243.0,187.9 L1242.1,187.0 L1241.2,186.3 L1240.1,185.6 L1239.0,185.0 L1237.8,184.6 L1236.6,184.2 L1235.2,183.9 L1233.9,183.8 L1232.5,183.7 L1231.1,183.9 L1229.7,184.0 L1228.2,184.2 L1226.7,184.4 L1225.0,184.8 L1223.3,185.3 L1221.6,185.9 L1219.8,186.6 L1218.1,187.4 L1216.4,188.2 L1214.7,189.2 L1213.1,190.3 L1211.6,191.6 L1210.2,193.0 L1208.9,194.5 L1207.6,196.1 L1206.5,197.9 L1205.4,199.7 L1204.3,201.5 L1203.4,203.4 L1202.4,205.2 L1201.6,207.1 L1200.8,208.9 L1200.1,210.6 L1199.5,212.3 L1199.1,214.0 L1198.7,215.7 L1198.4,217.5 L1198.1,219.3 L1197.9,221.0 L1197.8,222.7 L1197.8,224.4 L1197.9,226.1 L1198.0,227.8 L1198.3,229.4 L1198.7,230.9 L1199.4,232.4 L1200.2,233.8 L1201.2,235.0 L1202.3,236.0 L1203.5,236.9 L1204.7,237.6 L1206.0,238.2 L1207.3,238.7 L1208.6,239.1 L1210.0,239.4 L1211.4,239.7 L1212.7,239.8 L1214.1,239.9 L1215.5,239.9 L1217.0,239.9 L1218.5,239.8 L1220.1,239.6 L1221.7,239.3 L1223.3,239.0 L1224.9,238.6 L1226.4,238.2 L1228.0,237.7 L1229.5,237.2 L1230.9,236.6 L1232.2,236.0 L1233.4,235.4 L1234.6,234.8 L1235.8,234.1 L1236.9,233.3 L1237.9,232.5 L1238.9,231.7 L1239.9,230.9 L1240.8,230.0 L1241.8,229.1 L1242.6,228.2 L1243.5,227.3 L1244.3,226.4 L1245.2,225.3 L1246.0,224.2 L1246.8,222.9 L1247.6,221.7 L1248.4,220.4 L1249.1,219.2 L1249.8,218.0 L1250.4,216.8 L1251.0,215.8 L1251.5,214.8 L1251.9,214.1 L1252.3,213.4 L1249.5,211.8 L1249.1,212.4 L1248.6,213.2 L1248.1,214.1 L1247.5,215.1 L1246.8,216.2 L1246.1,217.4 L1245.4,218.6 L1244.6,219.7 L1243.8,220.9 L1243.0,222.0 L1242.2,223.0 L1241.5,223.8 L1240.7,224.7 L1239.9,225.6 L1239.1,226.4 L1238.2,227.3 L1237.4,228.1 L1236.5,228.8 L1235.6,229.5 L1234.7,230.2 L1233.7,230.9 L1232.7,231.5 L1231.7,232.1 L1230.6,232.6 L1229.4,233.0 L1228.2,233.5 L1226.8,233.9 L1225.4,234.3 L1223.9,234.7 L1222.4,235.0 L1220.9,235.3 L1219.5,235.5 L1218.1,235.6 L1216.8,235.7 L1215.6,235.6 L1214.5,235.5 L1213.5,235.2 L1212.5,234.9 L1211.5,234.5 L1210.6,234.0 L1209.7,233.5 L1208.9,232.9 L1208.2,232.4 L1207.6,231.8 L1207.2,231.1 L1206.8,230.5 L1206.6,230.0 L1206.4,229.4 L1206.3,228.7 L1206.2,227.9 L1206.1,227.0 L1206.1,225.9 L1206.2,224.7 L1206.4,223.4 L1206.6,222.1 L1206.8,220.7 L1207.2,219.3 L1207.6,217.9 L1208.0,216.5 L1208.5,215.1 L1208.9,213.6 L1209.4,212.0 L1209.9,210.4 L1210.6,208.7 L1211.2,207.0 L1212.0,205.3 L1212.8,203.7 L1213.6,202.1 L1214.4,200.7 L1215.3,199.3 L1216.2,198.1 L1217.0,197.0 L1217.9,196.1 L1219.0,195.1 L1220.1,194.2 L1221.4,193.3 L1222.7,192.5 L1224.1,191.7 L1225.5,191.0 L1226.9,190.4 L1228.2,189.8 L1229.5,189.4 L1230.7,189.0 L1231.7,188.7 L1232.6,188.7 L1233.5,188.8 L1234.4,188.9 L1235.2,189.1 L1236.0,189.4 L1236.8,189.7 L1237.5,190.1 L1238.1,190.5 L1238.5,190.9 L1238.9,191.3 L1239.0,191.6 L1239.1,191.8 L1239.2,192.0 L1239.2,192.4 L1239.2,193.0 L1239.1,193.6 L1238.9,194.3 L1238.6,195.2 L1238.2,196.0 L1237.7,196.9 L1237.2,197.8 L1236.6,198.7 L1235.9,199.6 L1235.1,200.4 L1234.3,201.3 L1233.3,202.2 L1232.2,203.2 L1230.9,204.3 L1229.5,205.3 L1228.1,206.3 L1226.6,207.4 L1225.0,208.4 L1223.5,209.3 L1222.0,210.3 L1220.5,211.2 L1219.1,212.0 L1217.7,212.7 L1216.2,213.5 L1214.6,214.2 L1213.0,214.8 L1211.3,215.5 L1209.7,216.1 L1208.2,216.7 L1206.7,217.2 L1205.3,217.7 L1204.1,218.1 L1203.1,218.5 L1202.2,218.8 Z" fill="#000"/>
<circle cx="1202.9" cy="220.6" r="1.90" fill="#000"/>
<circle cx="1250.9" cy="212.6" r="1.62" fill="#000"/>
<ellipse cx="1137.7" cy="170.3" rx="6.5" ry="4.6" transform="rotate(-15 1137.7 170.3)" fill="#000"/>
</svg>
</body></html>
